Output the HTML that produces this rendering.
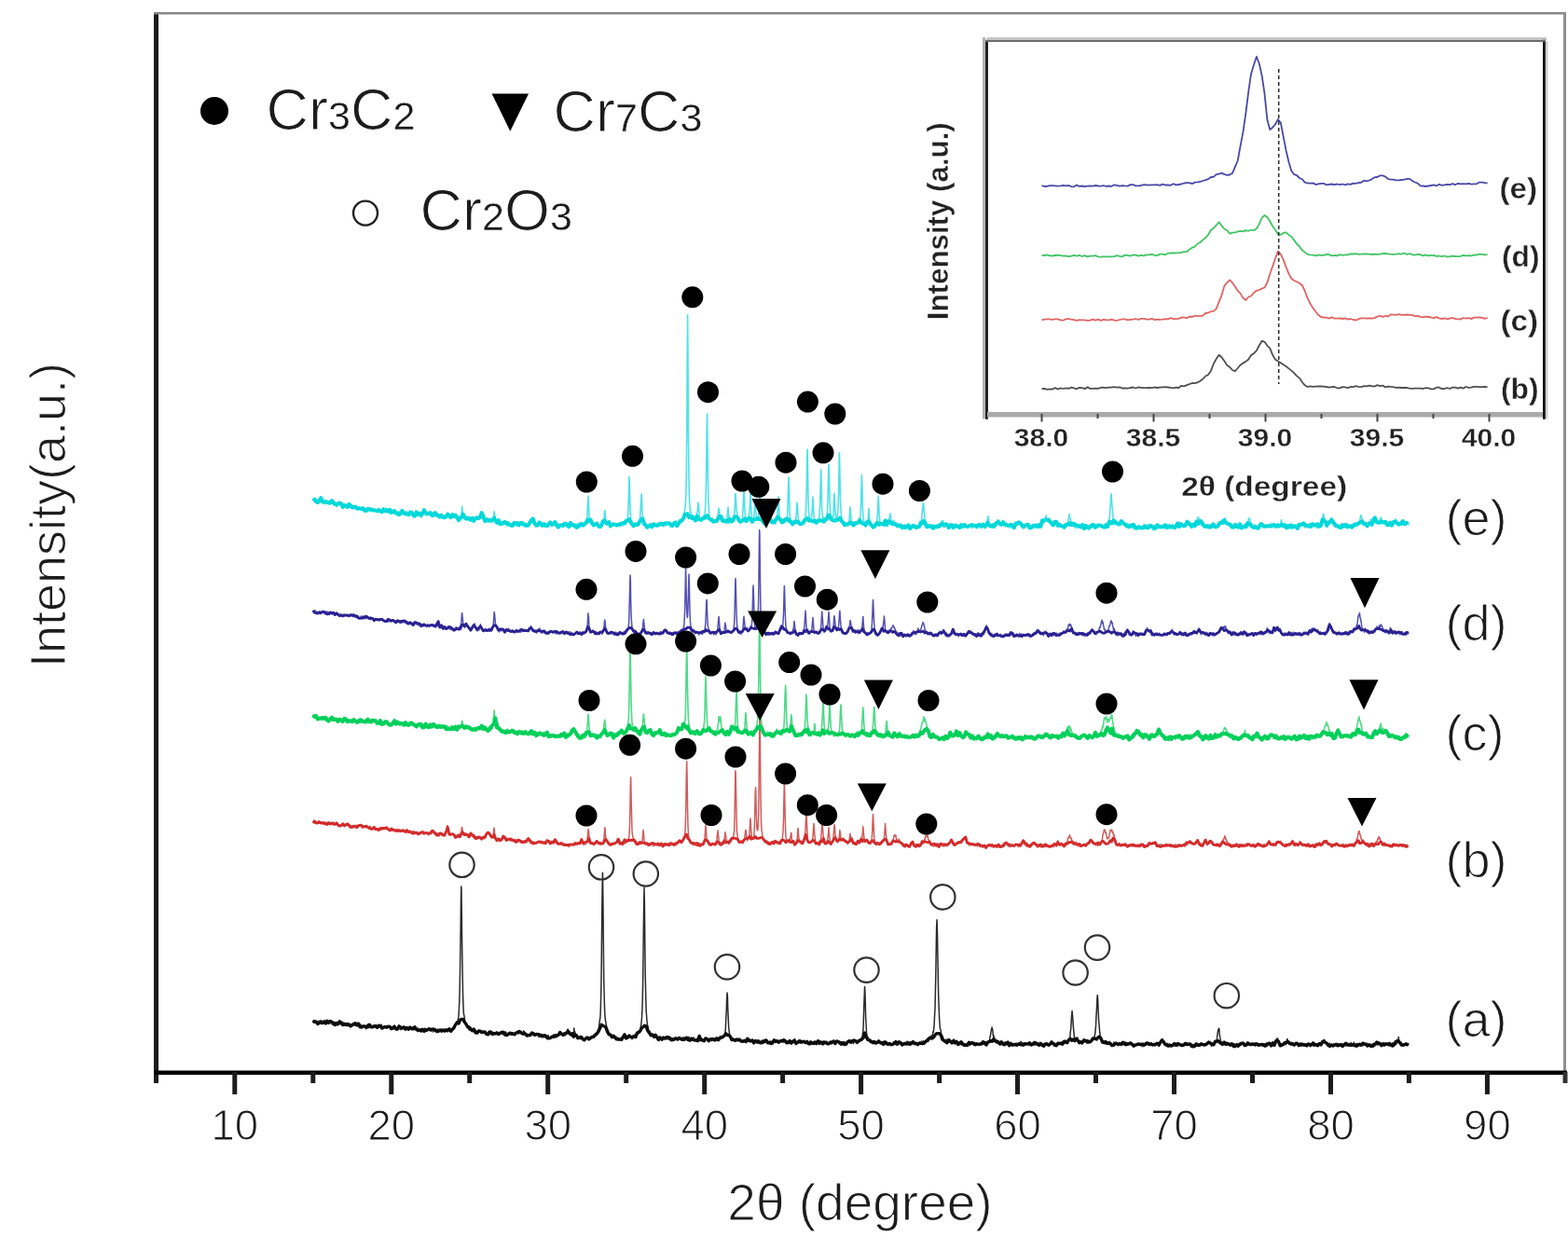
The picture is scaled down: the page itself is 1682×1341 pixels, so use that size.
<!DOCTYPE html>
<html><head><meta charset="utf-8"><title>XRD patterns</title>
<style>html,body{margin:0;padding:0;background:#fff;}svg{display:block;}</style>
</head><body>
<svg width="1682" height="1341" viewBox="0 0 1682 1341"><defs><filter id="gb" x="0" y="0" width="100%" height="100%"><feGaussianBlur stdDeviation="0.45"/></filter></defs><g filter="url(#gb)"><rect x="0" y="0" width="1682" height="1341" fill="#fff"/>
<defs><filter id="sb" x="-2%" y="-2%" width="104%" height="104%"><feGaussianBlur stdDeviation="0.55"/></filter></defs>
<g filter="url(#sb)">
<path fill="none" stroke="#2a2a2a" stroke-width="1.5" stroke-linejoin="round" d="M335.8 1094.7 l.4 2.3 .4-2 .4 1.4 .5-.1 .4 1 .4-.9 .4 .7 .4-1.1 .5-.1 .4 2.4 .4-1.6 .4 1.8 .4-1.2 .5-.1 .4-2.3 .4 2.7 .4-1.3 .4 .3 .5-.4 .4-.3 .4 2.5 .4-1.2 .4-1.8 .5 2.1 .4-1.2 .4 .5 .4 1.2 .4-2 .5 1.7 .4-1 .4-2.1 .4 3.4 .4-.6 .5 .9 .4-2.9 .4-.1 .4 2.3 .4-.5 .5-1.8 .4 2 .4-.4 .4 1.2 .4-.4 .4-2.2 .5-.1 .4 .1 .4-.2 .4 1 .4 2.6 .5-1.1 .4-.5 .4 1.3 .4-2.5 .4 .6 .5 1.3 .4 1.5 .4-1.5 .4-1.5 .4 3.1 .5-2 .4 2 .4-1.4 .4 1.3 .4-.7 .5-.9 .4-2 .4-.6 .4 .4 .4-.1 .5 .1 .4 .6 .4 1.6 .4-.3 .4-1.6 .5 .5 .4 3 .4-1.6 .4-.8 .4 .1 .5 1.8 .4-1.8 .4 1.1 .4 1.4 .4-.4 .5-1.9 .4 .8 .4 .5 .4 1 .4-2.2 .5-.1 .4 .4 .4 1.5 .4 .7 .4-.3 .5-.8 .4 2.1 .4-1.7 .4-.7 .4 .3 .5 .7 .4-.3 .4-1.2 .4-.6 .4 1.1 .5 1.1 .4-1.2 .4 1.8 .4-2.6 .4 .7 .5 2 .4-2.2 .4 1.5 .4-.5 .4 1.5 .5-2 .4-.6 .4 2.3 .4 .6 .4 .7 .5 .1 .4-3.1 .4 .7 .4 1.2 .4 1.4 .5 .5 .4-2 .4 1.1 .4-.7 .4-.6 .5 .5 .4 .7 .4-.6 .4 1.2 .4-.1 .5-1.5 .4 2.1 .4-2.7 .4-.4 .4-.1 .5 1.6 .4-1.8 .4 3.6 .4-.9 .4-2.7 .5 .3 .4 .7 .4-.9 .4 2.5 .4-1.6 .5 1.5 .4-.8 .4 .9 .4 0 .4 .3 .5-1.3 .4-.1 .4 1 .4-1.4 .4 .5 .5 .3 .4-1.9 .4 2 .4-.1 .4 1.3 .5-2 .4 1.9 .4-.8 .4-1.4 .4 2 .5-.7 .4-2 .4 1.2 .4 1.4 .4 .8 .5-3.5 .4 3.8 .4-2.1 .4 2.1 .4-1.4 .5 .6 .4-.7 .4 .4 .4-1.1 .4 .7 .5 .6 .4 .1 .4 0 .4-.1 .4 .4 .5-2.1 .4 1.2 .4-.6 .4 .1 .4 .4 .5-.3 .4 .1 .4 1.5 .4-.4 .4 2.1 .5-1 .4-2 .4 .5 .4-.1 .4 1.2 .4-.1 .5-.1 .4-.8 .4-1.2 .4 .4 .4 2.3 .5-.9 .4 1.2 .4-.5 .4 .3 .4-.7 .5 .9 .4-1.1 .4-.4 .4-.6 .4-1 .5 1.1 .4-.8 .4 3.4 .4-2.7 .4 2.2 .5 .1 .4-.8 .4-.4 .4-1.3 .4 .9 .5-.3 .4-.4 .4 1.2 .4-.9 .4 2.3 .5-.3 .4-2.5 .4-.3 .4 .1 .4 1.2 .5 .8 .4-1.5 .4-.1 .4 2.4 .4-1.2 .5 .7 .4-1.2 .4-.5 .4 1.5 .4-.2 .5-.9 .4 1.3 .4-.6 .4 .6 .4-2.1 .5 2.2 .4-1.9 .4 1 .4 1.1 .4-2.4 .5 1.5 .4 1.6 .4 .5 .4-1.2 .4 1.3 .5 .5 .4-.4 .4 .1 .4-2.5 .4 2.3 .5 0 .4-.2 .4 .9 .4-2.5 .4 2.6 .5-.1 .4-1.8 .4 0 .4 1.1 .4-1.2 .5 1.4 .4-1.5 .4 1.2 .4 1.1 .4-2.7 .5-.6 .4 2.7 .4-1 .4 1.5 .4-1 .5 1.3 .4-1.7 .4 .3 .4-1.3 .4 .8 .5-.9 .4 .2 .4 1.6 .4-2.3 .4 1.3 .5 1.8 .4-.4 .4-.3 .4-1.6 .4 1 .5 .5 .4 1.4 .4-3 .4 .2 .4 .1 .5 1.9 .4-1.3 .4-1.1 .4 1.9 .4-1.1 .5 1.9 .4-1.5 .4-1 .4 1.7 .4 .8 .5-1.9 .4 1 .4-.8 .4 .2 .4 1.4 .5-.4 .4-2.2 .4 2.2 .4-.6 .4 1.8 .5-2.3 .4 .2 .4-.8 .4 .8 .4-1.2 .5 2.2 .4 .8 .4-.5 .4 0 .4-1.6 .5 1.4 .4-1.2 .4 1.5 .4-.8 .4-2 .5-.1 .4-.2 .4 .4 .4 1.6 .4-1.1 .5-.3 .4 2.3 .4-1.6 .4 1 .4-1.1 .5-.2 .4 0 .4-.8 .4 .5 .4-1.6 .4 1.5 .5-3.7 .4 2 .4-3.1 .4 .8 .4-2.6 .5 .9 .4-2.8 .4 1.6 .4-1.7 .4-2.6 .5-2.7 .4-7.5 .4-8.6 .4-14.6 .4-24 .5-35.2 .4-36.7 .3-12.5 .1 1.5 .4 28.5 .4 37.5 .5 29.9 .4 19.5 .4 11.2 .4 8.5 .4 1.4 .5 3.1 .4 4 .4-.4 .4 3.8 .4-1.5 .5 1.9 .4-.1 .4 3 .4-1.3 .4 .7 .5 .8 .4 1.7 .4-2.9 .4 2.5 .4 1.1 .5-3.1 .4 1.7 .4-.4 .4 1.9 .4-.5 .5 .7 .4-1 .4 .6 .4-.8 .4-.5 .5 2.1 .4-.6 .4 .6 .4 1.7 .4-1.4 .5-.6 .4 .5 .4 1.9 .4 .3 .4-.4 .5 .1 .4-2.3 .4-.3 .4 .5 .4 .4 .5-.3 .4 1.5 .4-.6 .4 1.6 .4-1.7 .5 1.6 .4-1.3 .4 1 .4-1 .4-1.2 .5 .8 .4 1.5 .4-1.3 .4 .3 .4-1.2 .5 1.6 .4 1.5 .4 0 .4-1 .4 1.5 .5 0 .4-1.1 .4-2 .4 .3 .4 0 .5 1.2 .4-.1 .4 1.7 .4-2.7 .4 2.7 .5-.3 .4 .5 .4-.6 .4-.1 .4-.4 .5-1.5 .4 1.3 .4 .7 .4 .6 .4-1.3 .5-.2 .4-1.1 .4-.5 .4 2.7 .4-1.4 .5 2.5 .4-2.6 .4 .6 .4 .6 .4 .7 .5-1.2 .4-1.1 .4 .4 .4 .1 .4 .5 .5 .4 .4-1.9 .4-.2 .4 2 .4 1 .5-2.6 .4 2.5 .4-.1 .4-.9 .4 1.4 .5-.9 .4-2.4 .4 1.9 .4 1.7 .4-.3 .5-.5 .4-.1 .4-.4 .4-1.1 .4 1.2 .5 .1 .4-1.4 .4 2 .4-2.1 .4 1.8 .5-1 .4 1.6 .4-1.3 .4 1.3 .4-1.5 .5-.6 .4 2.1 .4-1.7 .4 1 .4 .1 .5-2.1 .4 .1 .4 .2 .4-.1 .4 .4 .4-1 .5 0 .4 1.7 .4 .2 .4-2.8 .4 0 .5-.3 .4 2.3 .4-.4 .4-.3 .4-.6 .5 2 .4-1.4 .4 1.3 .4-1 .4-.8 .5-1.3 .4 3.2 .4-2.4 .4 .7 .4 1.1 .5 .8 .4 .1 .4 2.1 .4-2 .4 1.5 .5 .5 .4-2 .4 1.4 .4-.2 .4-.8 .5 0 .4-.9 .4 1.6 .4 .6 .4-2.1 .5 1.2 .4-2.2 .4 2.4 .4-2.5 .4 1 .5-.2 .4-.6 .4 3.2 .4-1.8 .4 .7 .5 .1 .4-.9 .4 .5 .4-.6 .4 1.2 .5-.7 .4 .4 .4-.7 .4 2.5 .4-2.6 .5 3 .4-2.4 .4 1.7 .4-1.7 .4 2.6 .5-2.3 .4 1.3 .4 1 .4-2.2 .4 1.2 .5-1.1 .4 1.8 .4-.1 .4-1.7 .4 2.1 .5-3 .4 3 .4-1.1 .4-.7 .4 1.6 .5 0 .4 1.3 .4-2.5 .4-.7 .4 3.1 .5 .2 .4-.4 .4-.8 .4 .6 .4 0 .5-1.4 .4 1.3 .4-.2 .4-.9 .4-.9 .5 .8 .4-2.1 .4 2.5 .4 .6 .4-2.4 .5-.4 .4 .6 .4 .6 .4 1.7 .4-1.3 .5-.8 .4-.7 .4 .4 .4 .9 .4-1.3 .5-.3 .4-.6 .4 .3 .4-2.2 .4 0 .5 1.6 .4-1.3 .4 1.4 .4-.3 .4 1.2 .5 1.3 .4-1.2 .4 1 .4-.9 .4 .6 .5-2.3 .4 .9 .4 1.3 .4-1.9 .4-.4 .5-1.8 .4-1 .4 .8 .4-2.5 .4 1.9 .5 1.5 0-1.3 .4-.6 .4 2.9 .4-1.4 .4 2 .5-.2 .4 2.3 .4-.5 .4 .9 .4-2.8 .5 3.3 .4-3.7 .4-.6 .4 .6 .4-5.3 .2 2.7 .3 .7 .4 .5 .4 1.4 .4 3.1 .4 .1 .5-.7 .4 3.1 .4 0 .4-1.6 .4 1.4 .5-1.5 .4 1.5 .4-.9 .4 .3 .4-.9 .4 2.6 .5-1.7 .4-.7 .4 .6 .4-.5 .4 2.6 .5-.5 .4 1 .4-.7 .4 .9 .4 0 .5 .1 .4-1.5 .4 .9 .4-1.3 .4 0 .5-.6 .4 .5 .4-.8 .4 .5 .4 1.9 .5-2.6 .4 1.9 .4-.9 .4-1.2 .4 1.9 .5-1.1 .4-1.1 .4 1.8 .4-1.3 .4-.4 .5-.7 .4 .9 .4-1.9 .4 1.6 .4-2.4 .5 .1 .4-.6 .4 .8 .4 .1 .4-2.5 .5 .9 .4 .3 .4-2 .4 .8 .4-3.3 .5 0 .4-1.3 .4-3.9 .4-3.2 .4-2.2 .5-3.8 .4-11.4 .4-14.9 .4-30.3 .4-40.2 .5-43.4 .3-13.7 .1 1.1 .4 30.3 .4 43.8 .4 37.4 .5 21.3 .4 13.5 .4 6.8 .4 4 .4 1.8 .5 3.7 .4 1.8 .4 1.7 .4 1.9 .4-.5 .5 1.2 .4 2.2 .4 1.5 .4-1.8 .4 1.4 .5-.1 .4 .8 .4-.5 .4 .7 .4 0 .5 2.4 .4 0 .4-1 .4 1.4 .4-1.8 .5 1.4 .4-.7 .4 2 .4-.6 .4-.1 .5-1.4 .4 .9 .4 2.1 .4-.1 .4-.6 .5-1.2 .4 2.1 .4-.3 .4-.3 .4-.2 .5 .6 .4 1 .4-.6 .4-.9 .4 1 .5-2.6 .4 3.1 .4-3.4 .4 .3 .4 .4 .5-2.2 .4 .3 .4-1.4 .4 2 .4-.4 .5 2.2 .4 .3 .4-1.2 .4-.4 .4 1.3 .5-1.3 .4 1.5 .4-1 .4 .3 .4-2.2 .5 2.2 .4-1.1 .4-.2 .4 .7 .4-.2 .5 .6 .4 1.8 .4-2.3 .4 1 .4-.9 .5 1 .4-2 .4-.7 .4 1.9 .4-3.3 .5 3.1 .4-1.6 .4-1.1 .4 2.1 .4-3.7 .5 1.3 .4-2 .4 1.5 .4-1.9 .4 .9 .5 .2 .4-1.8 .4-2.9 .4-1 .4-2.5 .5-4.2 .4-4.5 .4-8.5 .4-12.2 .4-23.3 .4-32.7 .5-41.2 .4-21.5 0 1.1 .4 18.4 .4 39.5 .4 34.6 .5 22.1 .4 14.9 .4 6.2 .4 5.4 .4 4 .5 4 .4-1.1 .4 3.6 .4 1.1 .4 1.8 .5-1.4 .4 .6 .4 2 .4 1.9 .4-1.3 .5 1.7 .4-1.4 .4 .2 .4-.3 .4 1.7 .5 .1 .4 1 .4-2.6 .4 .5 .4-.4 .5 .5 .4 2.4 .4-.8 .4-.1 .4 1.1 .5 2.2 .4-.2 .4-.1 .4 .6 .4-3.4 .5 .4 .4 1.3 .4-.7 .4 2.1 .4-1.4 .5 .1 .4 1.4 .4-1.5 .4 1.3 .4-2.2 .5 .2 .4 .1 .4 .4 .4-.9 .4 1.4 .5-1.6 .4-.1 .4 2.5 .4-2.1 .4 .6 .5 1 .4-.4 .4-1.4 .4 2.7 .4-.1 .5-.3 .4-1.6 .4 .9 .4-.9 .4 1 .5 1.4 .4-2.1 .4 1.6 .4-1.2 .4 1.5 .5-1.9 .4 2.2 .4-.8 .4 .1 .4-1.1 .5-.9 .4-.1 .4 .9 .4-.7 .4 1.9 .5 .3 .4-.6 .4 1.4 .4-1.1 .4-2.1 .5 .5 .4 .4 .4 .3 .4-1.2 .4 1.4 .5-.6 .4 .6 .4-.4 .4 1.3 .4-1.3 .5-1.2 .4 2.8 .4-.3 .4 .8 .4 .2 .5-3.3 .4 .8 .4-.4 .4 1.1 .4 1.6 .5-2.8 .4 1.1 .4-1 .4 2.5 .4-.3 .5-3.3 .4 1.9 .4-.7 .4 2.7 .4-.2 .5-.9 .4 .9 .4-2 .4 2 .4-1.8 .5-.7 .4 2 .4-.4 .4-2 .4 3.1 .5-.4 .4 0 .4 .7 .4-1.5 .4 1.1 .5 .9 .4-2.6 .4-.1 .4 2.3 .4-1.1 .5-1.3 .4-2.4 .4-.4 .4 2.9 .4-.9 .5-.2 .4 2.6 .4-2.1 .4 2.3 .4 .6 .5-.8 .4 .4 .4-.1 .4-.3 .4 .9 .5-1.8 .4 2.3 .4-1.2 .4-2.1 .4 .2 .4 .7 .5-.2 .4 .1 .4-.2 .4 1.9 .4-1 .5 1.3 .4-2.2 .4 .6 .4-.4 .4 .2 .5-1.5 .4 2.3 .4 .9 .4-1.5 .4-1 .5 2 .4-2.7 .4 1.2 .4 1.9 .4-.8 .5 .9 .4-.8 .4 .5 .4 .2 .4-1.9 .5-.7 .4 1.9 .4-.8 .4-1.1 .4 1.7 .5-1.7 .4 .9 .4 1.6 .4-3 .4 .5 .5-2.1 .4 2.7 .4-1.5 .4-.9 .4 2 .5-1.5 .4-.2 .4 .4 .4-1.4 .4-.8 .5 0 .4-1.7 .4-1.5 .4-3.9 .4-9.9 .5-8.2 .4-13.8 .4-6.1 0-.6 .4 3.8 .4 14.3 .5 11.1 .4 8.4 .4 3.4 .4 3.4 .4 1.4 .5 1.3 .4 .7 .4-.5 .4 3 .4 .3 .5 .6 .4-2 .4 .1 .4 .9 .4-.2 .5 1.4 .4-1 .4 1 .4-.8 .4-1.1 .5 0 .4 .7 .4-.6 .4 2 .4-.8 .5 .2 .4-.5 .4-1.6 .4 .6 .4 1 .5-.5 .4-.3 .4 2.5 .4-.1 .4-1.1 .5 1.7 .4-1.4 .4 1.2 .4-1 .4-.1 .5-.9 .4 1 .4 1 .4-1.9 .4 1.8 .5 .3 .4-1.7 .4 .8 .4 .4 .4-2.8 .5 2.6 .4-2.1 .4 2.4 .4-.7 .4-1.3 .5-.5 .4 1.4 .4 .7 .4-.1 .4-.5 .5 1.3 .4-1.3 .4-1.2 .4 1.2 .4 0 .5 2.7 .4-2 .4 2.2 .4-1.7 .4-.9 .5-.5 .4 .8 .4-.7 .4 1.8 .4-.5 .5 1.9 .4-.1 .4-2.4 .4 .7 .4 .7 .5-.3 .4 .8 .4-.7 .4-.6 .4-.7 .5 2 .4-2.6 .4 2.1 .4-1.9 .4 1.6 .5-1.4 .4 2.5 .4-2.9 .4 .2 .4 2.2 .5-.3 .4-1 .4-1.2 .4 .6 .4-.4 .4 .4 .5 2.3 .4 0 .4-1 .4-.5 .4 1.1 .5-1.1 .4-.4 .4 0 .4 2.6 .4-2 .5 .3 .4-1.2 .4 2.2 .4-1.7 .4-.4 .5 1.1 .4-2.2 .4 0 .4 2.3 .4 0 .5-.6 .4-1.2 .4 1.5 .4-.3 .4-.7 .5-.9 .4 3.2 .4-1.8 .4 1 .4-1.7 .5 1 .4-.4 .4-.3 .4-1.1 .4 .4 .5-.2 .4 .8 .4 1.4 .4-.4 .4 .2 .5-2.3 .4 2.5 .4-.9 .4-.7 .4-.1 .5 .2 .4 2.1 .4 .5 .4-.3 .4-2.1 .5 1.8 .4-1.3 .4 1.3 .4-1.1 .4 .7 .5 .7 .4-2.4 .4 1.7 .4-1 .4 .9 .5 1 .4-2 .4-.5 .4 1.1 .4-.2 .5-1.2 .4 1.5 .4-1.1 .4-.8 .4 1.2 .5 .1 .4-.2 .4 2.4 .4-.5 .4-.5 .5 .8 .4-.9 .4 .2 .4 .4 .4 .1 .5-2.3 .4 .2 .4-.7 .4 3.1 .4-2.2 .5 1.8 .4-1.8 .4 0 .4 .9 .4-1.5 .5 1.2 .4 .4 .4-.9 .4 .6 .4 .2 .5-.5 .4 1.1 .4 .1 .4 .2 .4-.8 .5-.7 .4 1.2 .4 1.1 .4-1.1 .4 1.2 .5-2 .4 1.1 .4-2 .4 2.8 .4-1.2 .5-2 .4 1.3 .4 .8 .4 1 .4-2.1 .5 1.6 .4 .5 .4-.5 .4 1.2 .4-3.2 .5 .9 .4 2.1 .4-1 .4-.5 .4 1 .5-.2 .4 .3 .4 0 .4-3 .4-.4 .5 .2 .4-.2 .4 3.1 .4-2.6 .4 2.7 .5-.5 .4-.9 .4-.5 .4-.1 .4-.1 .5 2.5 .4-.5 .4-2.6 .4 1.9 .4-.5 .5-.8 .4 2.7 .4-.5 .4-1.5 .4 1.2 .5-1.7 .4-.2 .4 2.3 .4 0 .4-1 .5 1.3 .4-.3 .4-1 .4-.4 .4 .9 .4-1.3 .5 .8 .4 1.4 .4-.4 .4-1.3 .4-1.1 .5 .4 .4 .8 .4-1.6 .4 .1 .4 1.4 .5-1.6 .4 2.7 .4 .6 .4-.2 .4-3.2 .5 .2 .4-.3 .4 1.2 .4-1 .4 .7 .5 .4 .4 2.3 .4-1.4 .4-.5 .4 .6 .5 .3 .4-1.6 .4 2.7 .4 .2 .4-.1 .5 .2 .4-2 .4 .2 .4-.9 .4 .2 .5 2.5 .4-2.7 .4 2.1 .4-.2 .4 .4 .5-2.4 .4 2.2 .4-.9 .4-1.5 .4 .6 .5-.7 .4 .8 .4-1.7 .4 .4 .4 .2 .5 1.7 .4-.7 .4 .8 .4-2.2 .4 1.4 .5-1.6 .4 1.5 .4 1 .4 .5 .4-3.6 .5 1.2 .4 .2 .4-.6 .4-.2 .4 1.3 .5-1.5 .4 .5 .4 1.5 .4-1.4 .4-.4 .5 .8 .4-.7 .4 .9 .4-.8 .4 .4 .5-1.4 .4-.7 .4-.9 .4 2.3 .4-1.7 .5-.7 .4-5 .4-1 .4-6.8 .4-13.2 .5-14.7 .4-11.7 .2-3.1 .2 3.3 .4 11.7 .4 17 .5 9.1 .4 8.3 .4 2.6 .4 1.5 .4 3 .5-2 .4 2.7 .4 .4 .4-.4 .4-1.2 .5 1.8 .4-.1 .4 1.2 .4-1.7 .4 .9 .5-.1 .4 1.7 .4 1.4 .4-2.4 .4 2.2 .5-2 .4-.4 .4-.1 .4 2.3 .4-.2 .5-1.9 .4 2.2 .4 .1 .4-1.1 .4 .2 .5 .3 .4-1.2 .4-.8 .4 .9 .4-.9 .5 2.4 .4-.6 .4-.8 .4 2.2 .4-2.1 .5 .4 .4 0 .4-.3 .4-.5 .4 2.9 .5-2.7 .4 2 .4-2 .4-.1 .4 1.9 .5 1.2 .4-.2 .4-1.6 .4-1 .4 2.5 .5 0 .4-.1 .4-.5 .4 .7 .4 .4 .5-1.6 .4 .4 .4 0 .4 .8 .4 .2 .5-.6 .4 .6 .4-1.3 .4 .9 .4-2 .4-.5 .5 2.5 .4-1 .4-1.7 .4 1.2 .4 1.7 .5-3.1 .4-.1 .4 2.2 .4-1.5 .4 2.2 .5-.7 .4 .3 .4-2.3 .4 .2 .4 1.8 .5-.8 .4-.9 .4 .7 .4 1 .4-1.1 .5 2.5 .4-.1 .4 .2 .4-1 .4-1.3 .5 1.3 .4-1.7 .4-.1 .4 1.1 .4 .2 .5 .8 .4-2.4 .4 1.9 .4 .2 .4-3.1 .5 1.1 .4 .8 .4 .8 .4-2.2 .4 2.4 .5-1.5 .4 2 .4-2.9 .4 .4 .4 2.7 .5-1.2 .4-.7 .4-.7 .4 1.4 .4-1.9 .5 .8 .4 0 .4 1 .4 .3 .4 .7 .5 .3 .4-.7 .4-.6 .4-.5 .4 2 .5-2.4 .4 2.3 .4-1.4 .4 .9 .4 .3 .5-1.6 .4-.5 .4 .9 .4 .6 .4-.5 .5-2.3 .4 2.5 .4-1.6 .4 1.6 .4-1.5 .5-1.5 .4 .7 .4 2 .4-.9 .4 .4 .5-1.8 .4 .4 .4 .6 .4-.4 .4-1.9 .5 .4 .4-.6 .4 1.8 .4 .1 .4-3.1 .5 1.2 .4-1.6 .4 .9 .4-1.8 .4 .5 .5-1.6 .4-.8 .4 1.5 .4-.3 .4-2.6 .5-3 .4 .4 .4-3.2 .4-4.4 .4-9.1 .5-8.6 .4-18.3 .4-19.6 .4-25 .4-22.8 .4-9.4 .1 1.5 .4 13.9 .4 23.6 .4 23.3 .4 19.5 .5 13.8 .4 9.8 .4 5.7 .4 5.9 .4 .2 .5 2.5 .4 4.1 .4 2 .4-.2 .4 2.1 .5-2.3 .4 4.1 .4-1.9 .4 2 .4 .3 .5 .4 .4-1.1 .4 1.7 .4-2.5 .4 2.7 .5-.4 .4 1.3 .4-3.5 .4 1.7 .4-1.2 .5-.1 .4 .6 .4 .5 .4-.1 .4 .5 .5 1.6 .4-.7 .4-1.3 .4 2.2 .4-1.1 .5 .8 .4-1.2 .4-.8 .4 1.8 .4-3.5 .5 3.4 .4 .7 .4-1.4 .4-.5 .4 1.8 .4-1.6 .5 2.6 .4-1.8 .4 .1 .4 2.3 .4 .1 .5-1.2 .4 1 .4-1.6 .4 2 .4-2 .5-.2 .4-.8 .4 3 .4-1.6 .4 1.5 .5-.5 .4 .5 .4-1.7 .4 2.6 .4-.2 .5-1 .4 1.8 .4-2.8 .4 1.7 .4-.9 .5 .5 .4-1.1 .4 1.8 .4-2.8 .4-.4 .5 .2 .4 0 .4 .9 .4 1.9 .4-3.2 .5 1.7 .4-.3 .4-.5 .4-.6 .4 .2 .5-.2 .4 2.2 .4 0 .4-.9 .4 1 .5-2.3 .4 2.7 .4-.3 .4-1.1 .4-.9 .5 .2 .4 1 .4 1.3 .4-.1 .4-1.4 .5 .4 .4 1.1 .4 .2 .4-1.1 .4 0 .5-1.6 .4 2 .4-.2 .4-.9 .4 1.1 .5-.2 .4-.3 .4-2.6 .4 1.8 .4 1.2 .5-.6 .4-1.4 .4 2 .4-2.5 .4 .5 .5 2.4 .4-.8 .4 .3 .4-3.3 .4 1 .5-.9 .4-.4 .4 .7 .4-1.1 .4-2.7 .5-2.3 .4-1.5 .4-3 .4-2.4 .4-1.4 .2-1.2 .3 1.6 .4 .6 .4 4.1 .4 3.7 .4-1.2 .5 3.7 .4-1 .4 2.8 .4 .7 .4-.9 .5 2.6 .4-.8 .4-1 .4 2.6 .4-2.1 .5 1.9 .4-1.5 .4 2.1 .4-1.2 .4 1.4 .5 0 .4-1.5 .4-1 .4-.7 .4 1 .5 .6 .4 .2 .4 .2 .4 1.5 .4-.4 .5-1.7 .4 1.3 .4 1.2 .4-2.8 .4 2.3 .5-.3 .4-.8 .4-1.4 .4 .7 .4 2.6 .5-3 .4 1.2 .4 1.1 .4-1.3 .4 2.6 .5-2.9 .4 1.5 .4 .6 .4-1.5 .4 .9 .5 .1 .4 1.2 .4-.4 .4-.8 .4 .7 .5-1 .4 .6 .4 .6 .4-2 .4 1.9 .5-.6 .4 1.3 .4-2.9 .4 1.1 .4 1.1 .5-1.3 .4 .3 .4-1.1 .4 .9 .4 .9 .4-2.4 .5 1.8 .4 .4 .4-3.4 .4 1.1 .4-.4 .5 2.7 .4-1.9 .4 3 .4-2.4 .4 1.7 .5-2.5 .4 .6 .4 1.4 .4-.9 .4-.5 .5 .4 .4 .4 .4 .1 .4-.7 .4-.2 .5 .4 .4-.1 .4 1.3 .4 .8 .4-1.9 .5-1 .4 1.3 .4 .9 .4-.6 .4 .6 .5 .5 .4 .1 .4-.7 .4-.7 .4 .5 .5-2.7 .4 3.2 .4-2.7 .4 2.6 .4-.7 .5 .7 .4-1.9 .4-.1 .4 .7 .4 1.3 .5-1.1 .4 1.6 .4-2 .4 .9 .4 .9 .5-.9 .4-2.1 .4 1.7 .4-.5 .4 .9 .5-.8 .4-.6 .4 2.2 .4 0 .4 .9 .5-2.4 .4 2.5 .4 .3 .4-.9 .4-1.4 .5-.2 .4 .5 .4 .2 .4-.7 .4-.2 .5 1.2 .4 .3 .4-.3 .4 .3 .4-1.3 .5 1.3 .4-1.1 .4-.1 .4-1.3 .4 1.2 .5-2.4 .4 .3 .4 .6 .4 1.8 .4-1.5 .5 .8 .4-.7 .4 .8 .4 2.7 .4-1.4 .5-1.7 .4 1.5 .4 1.5 .4-.5 .4-1.3 .5-1 .4 1.4 .4-1.7 .4-.1 .4-.9 .5 2.6 .4-1.4 .4 .1 .4 .8 .4 .3 .5-1.4 .4-1 .4 2.1 .4-2.7 .4 2.6 .5-1.5 .4 .8 .4-.9 .4-1.3 .4 .4 .5 .9 .4 .9 .4-2.3 .4 .9 .4-.6 .5 1.1 .4 0 .4-1.4 .4-1.2 .4-.3 .5-.5 .4-.7 .4-.3 .4-1.4 .4-6.2 .5-2.7 .4-7.2 .4-7 .4-3.1 .1-2 .3 2.4 .5 6.3 .4 6.1 .4 5.3 .4 3.4 .4 4 .5 3.2 .4 .3 .4 .3 .4-.7 .4-.9 .5 .9 .4-1.2 .4-1.1 .4 3.5 .4-.9 .5 .7 .4 1.4 .4 1.2 .4-2.2 .4 .6 .4 .6 .5 0 .4 1 .4 1.2 .4 .2 .4-1.8 .5-1.7 .4-.7 .4 1.6 .4-1.9 .4 .8 .5 1.1 .4-1.2 .4 .6 .4-.5 .4 .5 .5 2.4 .4-2.8 .4 .8 .4-.4 .4 2.3 .5-1.8 .4 .7 .4-1.4 .4 .5 .4 .4 .5-.1 .4-1.1 .4-2.2 .4 1.5 .4-2.6 .5 1.2 .4-.4 .4-.1 .4 .6 .4-1.4 .5-2.5 .4-1.6 .4-4.4 .4-4.4 .4-9.7 .5-7.9 .4-10.5 .4-3.9 0-.8 .4 4.3 .4 10.3 .5 11.4 .4 4.7 .4 5.2 .4 4.4 .4 3.2 .5 1.2 .4 1.5 .4 1.7 .4 1.4 .4 .5 .5 .9 .4-.5 .4-1.1 .4 2.5 .4-.5 .5-1.5 .4 .2 .4 2.8 .4-2.5 .4 1.8 .5-.8 .4 1.8 .4-1.1 .4 .9 .4-2.1 .5 .4 .4 .8 .4-1.1 .4-.9 .4 2 .5 .5 .4-1.3 .4 .9 .4 1.8 .4 .4 .5-.7 .4-.5 .4 .9 .4 .1 .4-3.3 .5 1 .4 .5 .4 .5 .4-1.9 .4 .9 .5-.1 .4 .4 .4 .4 .4 .9 .4-.2 .5 .3 .4 .2 .4-.5 .4-1.8 .4 1 .5 .2 .4-.5 .4 1.3 .4 0 .4-.7 .5-.7 .4 1 .4-2 .4-.4 .4 2.3 .5-.8 .4 .9 .4-1.9 .4-.4 .4 1.3 .5 1.5 .4-2.3 .4 .3 .4 .4 .4 1 .5 .5 .4-2.1 .4 1.9 .4-.9 .4 1.3 .5-1.7 .4 1.4 .4-1.6 .4-.3 .4 1.3 .5-.9 .4 1.6 .4-.4 .4 .9 .4-1.1 .5 2.2 .4-1.7 .4 .3 .4 .7 .4-.4 .5-.7 .4 .3 .4-1 .4 1 .4-1.5 .5 1 .4-.5 .4 .4 .4-1.1 .4 1.9 .5-1.1 .4 .7 .4 .8 .4-1 .4 1.3 .5-1.3 .4 2.3 .4-2.7 .4 2.8 .4-2.5 .4 .9 .5 1 .4-.9 .4-.4 .4-.9 .4 1.2 .5-.3 .4-1.7 .4-.1 .4-1.2 .4 1.3 .5 .4 .4 1.4 .4-2.7 .4 2.7 .4-.3 .5 .6 .4-2.3 .4 .3 .4 .7 .4-1 .5 2.2 .4 .8 .4-1.1 .4 .2 .4 .3 .5-1.2 .4 .3 .4 .8 .4 1.1 .4-2.1 .5-.1 .4 .9 .4-1.2 .4-.6 .4 0 .5 .1 .4 .6 .4 .2 .4 1.1 .4 .4 .5-2.2 .4 .7 .4-1.9 .4-.1 .4-.7 .5-.2 .4-1.4 .4-.4 .4-.6 .4 3.8 .5-1 .4 2.2 .4-.1 .4-.4 .4 1.2 .5-.4 .4-.9 .4 1 .4 1.1 .4-1.2 .5-.8 .4 .7 .4 2.1 .4 .7 .4-1.2 .5-1.9 .4 1.9 .4-1.1 .4 .6 .4 .5 .5 .4 .4-1.1 .4 .6 .4-.5 .4 0 .5 .7 .4-.1 .4 .1 .4-2.1 .4-.5 .5 2.8 .4-.6 .4-.1 .4 .8 .4-2.4 .5 2.9 .4-2.9 .4 2.2 .4-.6 .4-.2 .5-.9 .4 0 .4 .6 .4 1.1 .4-.7 .5 .2 .4-1 .4 2 .4-.8 .4-1.5 .5 1 .4-.7 .4 .9 .4-2.2 .4-.3 .5 .4 .4 .2 .4 1.7 .4-1.9 .4 1.6 .5-.1 .4-.4 .4-1.2 .4 2.1 .4-1 .5 .5 .4 0 .4 1.1 .4-1.8 .4 1.5 .5-1.7 .4 3.8 .4-1.2 .4-.9 .4-.9 .5 1.7 .4 .7 .4-2.2 .4 1.2 .4-2 .5 2.2 .4-.9 .4-.4 .4 1.1 .4-2.1 .5 2.2 .4-.3 .4 .5 .4-1 .4 .6 .5-.2 .4-1.8 .4 1.4 .4-1.1 .4 1.8 .5-2.7 .4 .7 .4-.8 .4 1.1 .4 .3 .5 0 .4 1.1 .4-1.9 .4 .1 .4 1.3 .5-.8 .4 .7 .4-.9 .4 .5 .4 .5 .4-1.8 .5-.1 .4 0 .4 1 .4-2.2 .4 1.5 .5-1.5 .4 .5 .4 1.1 .4-.8 .4 .5 .5-.7 .4 3.8 .4-1.1 .4-.9 .4-1.5 .5 .6 .4-.5 .4 1.9 .4-2.2 .4 .8 .5-.2 .4-2.1 .4 .8 .4 .5 .4-2.5 .5 0 .4-4.5 .4-2.9 .4-3 .4-1.4 .4 .7 .1-1.6 .4 .3 .4 6.2 .4 2.4 .4 2 .5 3.9 .4 1.4 .4-1.7 .4-.3 .4 1.8 .5 1.1 .4-1.6 .4 .8 .4-1.3 .4-.2 .5 2.3 .4-1.8 .4 .4 .4 1.4 .4-2.5 .5 .3 .4 .9 .4 .6 .4-.1 .4 1.6 .5-2.2 .4 1.2 .4 1.2 .4-1.8 .4 2.3 .5-.8 .4-2.1 .4 .2 .4 1.6 .4-.9 .5 .4 .4 1.8 .4-2.4 .4 2.8 .4-2.9 .5 .4 .4 .6 .4 2 .4-1.1 .4 .6 .5-1.7 .4 .2 .4 1.4 .4 .6 .4-1.3 .5 .9 .4-.9 .4-1.6 .4-.2 .4 .7 .5 1 .4 .2 .4-.4 .4-1.9 .4 .5 .5 .5 .4-.1 .4-.9 .4-.9 .4 2.5 .5-2 .4 2.9 .4 .1 .4-.4 .4-.7 .5 .6 .4-1.1 .4 1.2 .4 0 .4-2.4 .5 .5 .4 0 .4-.2 .4 1.1 .4-1.3 .5 2.5 .4-1.5 .4 .5 .4 .3 .4-.2 .5 .3 .4-.9 .4-.7 .4 1.7 .4 .5 .5-1.2 .4 .1 .4 .2 .4 1.7 .4-2.5 .5 1.1 .4 0 .4-.9 .4-.1 .4 2.3 .5-1.4 .4 .7 .4-.5 .4 .9 .4-.4 .5-1.6 .4 .9 .4 .3 .4-1.1 .4 .7 .5-.3 .4 2 .4-1.6 .4-.6 .4 .5 .5 1.1 .4-1.8 .4 .2 .4 1.9 .4 .2 .5-.4 .4 .8 .4-2.6 .4 1.8 .4 .3 .5-2.6 .4 0 .4 .9 .4-.9 .4 1.4 .4-1.8 .5 .1 .4 1.8 .4 1 .4-.2 .4 .1 .5-2.5 .4-.2 .4-.6 .4 1.9 .4 1.3 .5-1.1 .4 .5 .4-2.3 .4 1.8 .4-3 .5-1 .4 0 .4-1 .4 .7 .1-2.8 .3 .6 .5 .5 .4 2.4 .4 .3 .4 1.7 .4 .2 .5 2.6 .4-.2 .4 .7 .4-2.3 .4 1.3 .5-.9 .4 1.8 .4-3 .4 .1 .4 1 .5-.4 .4-.7 .4-.5 .4-.4 .4 .4 .5 1.9 .4-3.2 .4 .9 .4-3 .4-.9 .5 1.3 .4 1.7 .4 1.8 .4 .9 .4 0 .5-1.2 .4 .5 .4 1.3 .4 .3 .4-1.7 .5-1.2 .4 .7 .4 2.5 .4-1.7 .4 1 .5-1 .4 2.3 .4-1.2 .4 .1 .4-.8 .5 .8 .4-1.7 .4 .9 .4 0 .4-.3 .5-.4 .4 1.3 .4 1.3 .4 .7 .4-1.5 .5 .5 .4-.9 .4-.6 .4-.3 .4 2.3 .5-.4 .4-2.3 .4 .9 .4 .4 .4-1.7 .5 2.4 .4-.6 .4-.1 .4 .1 .4 1.4 .5-1.7 .4 1.2 .4-1.3 .4 .7 .4 .6 .5-1.1 .4-1 .4 1.3 .4-1.1 .4-.3 .5 .8 .4-1.2 .4 1.7 .4 1.8 .4-2.4 .5-.8 .4 1.1 .4 1.2 .4-.2 .4-.1 .5-2.7 .4 .7 .4 2.8 .4-3 .4 1.3 .5 1.1 .4-1.8 .4 1.7 .4-.9 .4-.8 .5 2.2 .4-2.2 .4 1.7 .4 .4 .4-1 .5 .2 .4-1.7 .4 .7 .4 1 .4-.8 .5 .4 .4 .3 .4-2.5 .4 1.6 .4-2.8 .5 .9 .4-2.1 .4-.2 .1-.9 .3 .2 .4 .3 .5 .6 .4 2.1 .4-.2 .4-.2 .4 1.1 .5 .1 .4 2.6 .4-2.7 .4 .5 .4 1.8 .5 .7 .4-2.4 .4-.6 .4 3.4 .4-.9 .4-1.1 .5 .3 .4 .3 .4-.8 .4 1.9 .4-.7 .5 .5 .4-2.1 .4 1.9 .4-1.4 .4 .7 .5 .4 .4 .1 .4-1.3 .4 0 .4 1.5 .5-.2 .4 .6 .4-.3 .4-2.5 .4 .3 .5 1.7 .4-.1 .4-.4 .4 1 .4-1.8 .5 .3 .4 .7 .4-.6 .4 .8 .4 1.2 .5-2 .4 .7 .4 1.5 .4-2 .4-1.3 .5 2.4 .4-.7 .4-1.8 .4 2.8 .4-2 .5 1.8 .4-1.7 .4-1 .4 .6 .4 .3 .5 1.1 .4-1.7 .4 1.1 .4 1.6 .4-1.3 .5-1.8 .4-.6 .4 2.1 .4 .9 .4-.5 .5-.3 .4-.5 .4 .3 .4-2.2 .4 1.2 .5 1.7 .4 .6 .4-.8 .4-1.4 .4 2.8 .5-.2 .4-2.7 .4 .5 .4-.4 .4 1.6 .5 .5 .4-1 .4-1.2 .4 .9 .4-1.2 .5 2.5 .4 .2 .4-.6 .4-.6 .4-1.5 .5 .5 .4-.5 .4 2.6 .4-.5 .4-1.1 .5-.4 .4 .5 .4 .3 .4 .1 .4-.3 .5 1.3 .4-2.6 .4 1.1 .4 1.8 .4 .6 .5-.4 .4-1.5 .4 0 .4-.4 .4 2.4 .5-2.3 .4 1.9 .4-1.6 .4-.4 .4 2.3 .5-.4 .4-1.9 .4 1.2 .4 1.8 .4-2.8 .5-.6 .4 1.2 .4 1.1 .4-2.4 .4 1 .5-.1 .4-1.7 .4-1 .4 3 .4-3.2 .5 .8 .4 1.2 .4-1.2 .4-.6 .4 2.3 .5-.8 .4-.5 .4 3.2 .4-2.7 .4 2.1 .5 .9 .4-.3 .4-2.7 .4 .2 .4-.7 .5 3 .4-.2 .4-.9 .4-1.8 .4 .7 .5 1.3 .4-1.3 .4 .4 .4-.3 .4-.2 .5 .7 .4 .2 .4-.2 .4 1.9 .4-2.9 .5 1.8 .4 .2 .4-.2 .4-.4 .4 1.4 .5-.4 .4-2.8 .4 3.1 .4-3.3 .4 1.7 .4-.4 .5 .8 .4-1.6 .4-1 .4 1.6 .4-2.1 .5 .5 .4 1.7 .4-.7 .4-3.7 .4 .6 .5-1.3 .3 0 .1-2.4 .4 2.1 .4 2.4 .4 .7 .5 1.1 .4 1.3 .4-1.2 .4-.7 .4 2.8 .5-.9 .4 .4 .4 .7 .4 0 .4-1.6 .5 2.1 .4-1.7 .4 .7 .4 .6 .4-1.5 .5-1 .4 1.1 .4-.5 .4 .3 .4 1.1 .5 .8 .4-1.3 .4-1.3"/>
<path fill="none" stroke="#111111" stroke-width="3.4" stroke-linejoin="round" d="M335.8 1094.7 l1.7 1.6 1.6-.3 1.7 2.5 1.7-.9 1.7-1.7 1.7 1.6 1.6-1.5 1.7 2 1.7-2.7 1.7 2 1.6-1.8 1.7 .8 1.7 2.3 1.7 .9 1.7-1.9 1.6 1.2 1.7-3.1 1.7 2.2 1.7 1.6 1.7-.5 1.6 .3 1.7 .4 1.7-.4 1.7 1.7 1.7-1.4 1.6-1 1.7-.9 1.7 2 1.7-1.6 1.7 3.7 1.6 .2 1.7-1.1 1.7 0 1.7 1.7 1.7-1.6 1.6-1.8 1.7 2.6 1.7 0 1.7-1.1 1.7 .4 1.6 1.3 1.7-2.3 1.7 .5 1.7 2.5 1.7-.8 1.6-.7 1.7 .6 1.7-1.1 1.7 .3 1.7 2.2 1.6-.4 1.7-2.2 1.7 3 1.7 0 1.6-3.1 1.7 1 1.7 1.1 1.7-1.1 1.7 2.3 1.6-1.5 1.7 1.6 1.7-2.2 1.7 1.7 1.7 .1 1.6-2.2 1.7 2.4 1.7 1.5 1.7-.4 1.7 .9 1.6-1.9 1.7 2.2 1.7-1.6 1.7 .1 1.7-1.1 1.6 .8 1.7-.5 1.7-.1 1.7 .9 1.7 1.6 1.6 0 1.7-1.5 1.7 1 1.7-.9 1.7 1 1.6-1.3 1.7 .9 1.7-1.9 1.7 2.5 1.7-1.9 1.6-1.9 1.7-3.3 1.7-2.2 1.7 1 1.6-4 1.3-.5 1.7-.1 1.7 3.1 1.6 2 1.7 3 1.7 .3 1.7 2.2 1.7 1.7 1.6-1.7 1.7 3.8 1.7 .4 1.7-2.3 1.7 .3 1.6 .8 1.7 .3 1.7-.2 1.7 2.2 1.7 .5 1.6-2.8 1.7 .1 1.7 2.3 1.7-.7 1.7-.2 1.6-.3 1.7 1.1 1.7-1.2 1.7-.9 1.7 .2 1.6 2.9 1.7 .3 1.7-1.3 1.7-1.2 1.7 .7 1.6 .1 1.7 .8 1.7-1.7 1.7-.7 1.6-.9 1.7 1.3 1.7 1.3 1.7 .1 1.7 .2 1.6 1.7 1.7-.3 1.7-.1 1.7-2.5 1.7 .7 1.6 1.5 1.7-.9 1.7 .2 1.7 .5 1.7 .3 1.6 1.3 1.7-1.1 1.7 1 1.7 2.2 1.7 .1 1.6-.6 1.7-1.2 1.7 .3 1.7-1.6 1.7 .2 1.6-.7 1.7-2.8 1.7 1.7 1.7 1 1.7-1.6 1.6-.1 1.7-2.2 1.3 2 1.7 1.4 1.6-1 1.7 3.5 1.3-2.1 1.7 .7 1.6 2.9 1.7-.6 1.7-.7 1.7 2.2 1.6 1.2 1.7-1.8 1.7-.9 1.7 1.7 1.7-1.3 1.6-1 1.7-.1 1.7-2.1 1.7-1.2 1.7-2.3 1.6-3.5 1.7-4.1 1.3 1.1 1.7 .7 1.6 .9 1.7 4.7 1.7 3.2 1.7 .3 1.7 2.6 1.6-1.4 1.7 2.1 1.7 1.5 1.7 .2 1.7-.2 1.6 .5 1.7-2.6 1.7-2.9 1.7 4.1 1.7-1.6 1.6-1.4 1.7 1.6 1.7-.1 1.7-.9 1.7 1 1.6-4.3 1.7-1.1 1.7-1.2 1.7-3.4 1.6-1 1.3-1.3 1.7 .6 1.7 4.9 1.6 2.1 1.7 2.8 1.7-.8 1.7 2.5 1.7-2 1.6 2.6 1.7 2.5 1.7-2.4 1.7 2.2 1.7-2.2 1.6 1 1.7-1.3 1.7-.2 1.7 .7 1.7 2.4 1.6-.2 1.7-.4 1.7-1.2 1.7 .9 1.7-1.3 1.6 .9 1.7 .9 1.7 0 1.7-1.5 1.7-.5 1.6 2.3 1.7 .6 1.7-2.2 1.7 1.5 1.7 .3 1.6 .3 1.7 .5 1.7-5.2 1.7 4.4 1.7 0 1.6 .9 1.7-2.8 1.7 .8 1.7 2 1.6-1.8 1.7 .2 1.7-.5 1.7 1.2 1.7-1.9 1.6 1.7 1.7-2.2 1.7-.4 1.7-.6 1.7-1.4 1.6-2.2 1.3 1.8 1.7-.2 1.7 1.6 1.6 3.5 1.7-.4 1.7 1.2 1.7-1.2 1.7 .8 1.6-.5 1.7 1.6 1.7 .4 1.7-1 1.7 1.2 1.6-3.3 1.7 2.2 1.7 .3 1.7-.6 1.7 2.7 1.6-2.4 1.7 1.4 1.7-1.1 1.7 1.9 1.7 0 1.6-.8 1.7-1.6 1.7-.3 1.7 2.9 1.6-.4 1.7 1.1 1.7-.7 1.7-3.2 1.7 1.7 1.6-.7 1.7 1.5 1.7-1.4 1.7-.1 1.7-1.1 1.6 .8 1.7 2.5 1.7-.3 1.7-2.1 1.7 2.6 1.6-1.6 1.7-1.6 1.7 3.5 1.7-1.1 1.7-1.6 1.6 .4 1.7 .9 1.7-.8 1.7 1.4 1.7-1.2 1.6 2.4 1.7-.1 1.7-1.1 1.7 1 1.7-1.6 1.6 1.6 1.7-2.9 1.7 2.7 1.7-1.3 1.7 1.8 1.6-1.7 1.7-.1 1.7 1.6 1.7 0 1.6-1.8 1.7 .5 1.7-1.5 1.7 2.6 1.7-2.6 1.6 .6 1.7 .8 1.7 2 1.7-1.7 1.7 2 1.6-.4 1.7-2.6 1.7-1 1.7 1.6 1.7-1.6 1.6-.6 1.7 .6 1.7 1.8 1.7-1.7 1.7-.9 1.6-.8 1.7-1.7 1.5-5.2 1.5 3.9 1.6 3.3 1.7 .5 1.7 1.7 1.7 .8 1.7-.8 1.6 1.6 1.7-.7 1.7-1.5 1.7 1.8 1.7-.3 1.6 2.1 1.7-2.8 1.7 1.3 1.7 1.4 1.7-1 1.6 1.4 1.7-.4 1.7-1 1.7-1.9 1.6 2.8 1.7-2.5 1.7 .8 1.7 2.3 1.7-.8 1.6-.5 1.7 .5 1.7-.4 1.7 .7 1.7-1 1.6-1.9 1.7 2.1 1.7-.3 1.7 1.4 1.7-1.8 1.6 .5 1.7 .2 1.7-.3 1.7-1.9 1.7-1.3 1.6-1.8 1.7-1.3 1.7 1 1.7-.8 1.7-2.9 1.6-1.5 1.3 .1 1.7-.3 1.7 1.8 1.6 4.7 1.7 1.2 1.7 1.3 1.7 1.1 1.7-3.1 1.6 1.5 1.7 1.8 1.7-2.3 1.7 2.4 1.6-1.7 1.7 3.2 1.7-1.7 1.7-1 1.7 2.4 1.6 1.2 1.7-.3 1.7 .3 1.7-3 1.7 1.3 1.6-1.2 1.7 1.1 1.7 1.1 1.7-.8 1.7 .2 1.6 .2 1.7-.7 1.7-2 1.7 1 1.7 2.4 1.6-2.8 1.7-.6 1.7-1.1 1.3 .7 1.6-2.6 1.7 2.4 1.7-.1 1.7 .9 1.7 2.3 1.6-2.2 1.7 2.5 1.7 .4 1.7-1.6 1.7-1.1 1.6 3.6 1.7-2.3 1.7 1.8 1.7-.5 1.7-.1 1.6 .6 1.7-1.2 1.7 .7 1.7 0 1.6 .4 1.7-1.4 1.7 .4 1.7-.6 1.7-.8 1.6 2.2 1.7-.8 1.7-1.7 1.7 .7 1.7 .8 1.6 1.4 1.7-1.8 1.7 1.7 1.7 1 1.7-2.2 1.6-.2 1.7 1.5 1.7-1.2 1.7-2.2 1.7 1.7 1.6 1.4 1.7 .8 1.7-2.6 1.7 .2 1.7-.2 1.6 1 1.7-2.9 1.7-.1 1.7 1.4 1.7-3.4 1.6-.7 1.7 1.8 1.3-1.3 1.7 1.6 1.6-2.3 1.7 2.1 1.7 2.4 1.7-1 1.6 .6 1.7-2.7 1.7 1.3 1.7-.4 1.7 .9 1.6 .2 1.7-1.9 1.7-1.9 1.7 .3 1.7 .8 1.2-1.8 1.7-1.1 1.7 2 1.7 4 1.6 .4 1.7-1 1.7 1.7 1.7 0 1.7 .5 1.6 1.8 1.7-.2 1.7-1.3 1.7-.7 1.7 1.4 1.6-1.1 1.7 1 1.7-2.4 1.7 2 1.7 .5 1.6-.6 1.7-.6 1.7-.6 1.7 1.7 1.7 1.6 1.6-1.1 1.7-.4 1.7-.6 1.7 .4 1.7-.2 1.6-.1 1.7 .6 1.7-1.7 1.7 .4 1.6 1.1 1.7-.7 1.7 .9 1.7-.4 1.7-.3 1.6-.9 1.7 2 1.7-3 1.7-2.4 1.7 1.8 1.6 2.9 1.7 .8 1.7 .8 1.7-.5 1.7 .4 1.6-1 1.7-1.4 1.7 1.6 1.7-1.6 1.7 .5 1.6 1 1.7 .4 1.7-.3 1.7-1.9 1.7 1.3 1.6-.5 1.7-.2 1.7 2.4 1.7 .6 1.7-.8 1.6-2.3 1.7 1.4 1.7 0 1.7-1.3 1.7 .6 1.6 .6 1.7-.5 1.7-1.4 1.7-1.2 1.6 1.3 1.7 1.1 1.7 .5 1.7-3.7 1.7 0 1.6-.6 1.3 1.5 1.7 1.4 1.7 .9 1.6-2.3 1.7 2.3 1.7-.7 1.7 .5 1.7 .9 1.6-1.2 1.7 2.6 1.7 .1 1.7-2 1.7 1.6 1.6-2 1.7-1.1 1.7 0 1.7 2.5 1.7-.4 1.6-2.3 1.7 1.4 1.7 .2 1.7-.5 1.7 .3 1.6-.5 1.7 .1 1.7 1.1 1.7-.2 1.7-.4 1.6 .3 1.7 1.4 1.7-2 1.7-.5 1.6-.4 1.7 2.7 1.7-3.2 1.7 2.6 1.7-4.5 1.3-.8 1.6 1.5 1.7 4.3 1.7-1.2 1.6-.1 1.7-2 1.7 0 1.7-.9 1.7 1.5 1.6 .4 1.7 .3 1.7 1.1 1.7-1.6 1.7 .2 1.6 1.8 1.7-1.3 1.7 .5 1.7 .5 1.7-.3 1.6 1.2 1.7-1.9 1.7 1 1.7-.3 1.7-1.8 1.6 1.8 1.7 .1 1.7 .9 1.7-2.1 1.7 1.3 1.6-3.4 1.4 .1 1.6 .8 1.7 .8 1.6 2.2 1.7 1.1 1.7-1.4 1.7 .9 1.6-.9 1.7-.8 1.7 1.6 1.7-.6 1.7-.9 1.6 2.1 1.7-1.8 1.7-1.4 1.7 .9 1.7 1 1.6-.3 1.7 .6 1.7-1 1.7 1.3 1.7 .4 1.6-1 1.7-.8 1.7 .9 1.7-2.1 1.7 .6 1.6 .6 1.7 1.6 1.7-1.3 1.7 1.6 1.7-.1 1.6-1.7 1.7-.7 1.7-1.8 1.7 1.8 1.7-.3 1.6 2.1 1.7-1.9 1.7 1.2 1.7-1.1 1.7 .6 1.6-1 1.7 1.4 1.7 1.3 1.7-1.2 1.6-3.1 1.7-1 1.3 0 1.7 2 1.6 2.2 1.7 .2 1.7-.5 1.7-.8 1.7 1.7"/>
<path fill="none" stroke="#d05c5c" stroke-width="1.5" stroke-linejoin="round" d="M335.8 882.9 l.4-.2 .4-2.4 .4 .8 .5-.2 .4 2 .4 .1 .4-.7 .4 .6 .5 .4 .4 .5 .4-2.3 .4 1.4 .4 .4 .5-2.4 .4 .1 .4 .8 .4-.4 .4 1.9 .5-.2 .4 .1 .4-.3 .4-1.1 .4-.2 .5 1.3 .4-.5 .4 1.8 .4-.9 .4-.6 .5 1.8 .4-1.6 .4-.8 .4 1.8 .4-1 .5-.7 .4 1.3 .4 1 .4-2.1 .4 1.8 .5 0 .4-1.7 .4 2.1 .4-1.1 .4-.8 .4 1.4 .5-.7 .4-.5 .4-.3 .4 .4 .4 .7 .5 .6 .4-1.7 .4 1.5 .4-2 .4 .3 .5 1.4 .4 .6 .4 .4 .4-.6 .4-.4 .5-1 .4 1.7 .4-.9 .4 1.4 .4 .2 .5 .8 .4-1.6 .4 1.9 .4-.2 .4-.5 .5-.4 .4 .1 .4 .5 .4 0 .4 0 .5-.5 .4-1.6 .4 1.6 .4-1 .4-.6 .5 2.3 .4 .1 .4-1.1 .4-.2 .4 0 .5-.3 .4 .4 .4 .1 .4-1.2 .4 2.6 .5-2.4 .4 1.3 .4-.1 .4 .1 .4 2.5 .5-1.5 .4 1.1 .4-1.6 .4 .5 .4 1.7 .5-.6 .4-1.9 .4 2.2 .4-.8 .4-.6 .5-.7 .4-.3 .4 1.9 .4-.4 .4-.1 .5-1.5 .4 .3 .4 2.3 .4-1 .4-.5 .5-1.1 .4 .7 .4-.3 .4-.3 .4 .5 .5-.6 .4-.2 .4 .4 .4 1.4 .4-1.4 .5 2.8 .4-2.1 .4 1.2 .4 0 .4-.3 .5-.1 .4-.6 .4 .3 .4-.7 .4 1.8 .5-.2 .4-1.3 .4 1.5 .4-1.2 .4 1.2 .5-.3 .4-.4 .4 1.7 .4-.3 .4 .3 .5 .3 .4-2.8 .4 1.7 .4 1.4 .4-1.9 .5 .6 .4 .7 .4 .6 .4-.8 .4 0 .5 .9 .4-2.1 .4 2.1 .4-.9 .4 .8 .5 .4 .4-1.3 .4 2.2 .4 .1 .4-1.3 .5-.5 .4-.4 .4 .7 .4 1.4 .4-.3 .5-1.3 .4-.5 .4 .1 .4 1.7 .4-2.8 .5 .2 .4 1.4 .4-1.4 .4 .3 .4 1.7 .5-1.3 .4 1 .4-.1 .4-.8 .4-.1 .5-.1 .4 1.7 .4-2.6 .4 .4 .4 .8 .5-.2 .4 1.3 .4-.1 .4 .3 .4-.4 .5 .8 .4 .7 .4 .1 .4-.8 .4 .6 .5-2 .4 .3 .4 2.1 .4-1.3 .4 0 .4 .7 .5-.6 .4 1.8 .4-1.5 .4 1.3 .4-.7 .5 .9 .4-1.2 .4 1.7 .4-1.1 .4-1.6 .5 1.8 .4 .5 .4-2.4 .4 2.5 .4-1.1 .5 .4 .4-1.5 .4 2.2 .4-.5 .4-.4 .5 .9 .4-.8 .4-.2 .4-1.4 .4 1.6 .5 .7 .4-.9 .4 1.3 .4 .1 .4-1.2 .5 1.2 .4 .1 .4-.6 .4 .8 .4-2.2 .5 1 .4 .1 .4 1.8 .4-1 .4-.3 .5-1.1 .4 1 .4 0 .4 1.7 .4-1.5 .5 1.4 .4-.3 .4 .8 .4-2.7 .4 2.7 .5 .1 .4-2.4 .4-.2 .4 .8 .4 .7 .5-.4 .4-.1 .4 1.6 .4-1 .4 1 .5-1.1 .4-1 .4 2.6 .4 .5 .4-1.6 .5 1.1 .4-.5 .4-1.4 .4 1.1 .4-.3 .5-.8 .4-.3 .4-.1 .4 .3 .4 .3 .5-1.8 .4 2.6 .4-.9 .4 1.3 .4-.8 .5-.9 .4 1.7 .4-.6 .4 .5 .4-.6 .5-.1 .4 .1 .4 1.8 .4 .2 .4 .1 .5-1.8 .4 1.2 .4-1.9 .4 1.8 .4-1.2 .5 .9 .4-2.1 .4 1.6 .4-2.9 .4 1 .5-1.8 .4-.1 .4 1.9 .4 2.1 .4-.4 .5-.3 .4 0 .4 1.4 .4-.2 .4-1.5 .5 2.7 .4-1.8 .4 .5 .4-.9 .4 1.6 .5 1.2 .4 .5 .4-1.8 .4-1.5 .4 1.3 .5-.9 .4 .1 .4-.2 .4 2.3 .4-1.3 .5-.9 .4 1.5 .4 .5 .4 .4 .4-.1 .5-.4 .4-1.8 .4-.2 .4-.1 .4-1.7 .5-.4 .4-3 .4-3.3 .4 1.5 .4 .5 .5 3.4 .4 2.1 .4 1.9 .4-.8 .4 0 .5 2.2 .4-1.5 .4 0 .4-.3 .4 .6 .5-.6 .4 0 .4-.3 .4 1.2 .4-.1 .4 .8 .5-.5 .4 .4 .4 2.3 .4-2.2 .4 1.7 .5-.3 .4-.1 .4-1.3 .4-.6 .4 2.4 .5-2.3 .4 .4 .4 2.3 .4-.3 .4-.7 .5-1.4 .4-1.7 .4-2.4 .4-4.1 .4 .5 0-.8 .5 3.3 .4 1.2 .4 2.8 .4 1.1 .4-.7 .5 .4 .4-1.8 .4 .5 .4-1 .4 2.1 .5-.6 .4 .8 .4 .1 .4-.4 .4 2.5 .5-.4 .4-1 .4 1.4 .4-1.3 .4 .7 .5-2.1 .4-1.3 .4 .2 .4 2 .4 .1 .5-.4 .4 1.7 .4 0 .4 1.2 .4-2.2 .5 .1 .4 1.3 .4-1 .4 2.6 .4-2.1 .5 1.3 .4-.3 .4 1 .4-2 .4 .8 .5 .7 .4-1.1 .4 1.4 .4-.5 .4 1 .5-1.2 .4-.4 .4 .1 .4-.2 .4 2.2 .5-.2 .4-.8 .4 .1 .4-1.1 .4 1.5 .5 0 .4-1.8 .4 .5 .4 .1 .4-1.3 .5-.4 .4-2.1 .4 0 .4-2.3 .4 1.6 .5-.8 .4-.9 .4 2.6 .4-1.9 .4 1.4 .5 1.1 .4-.3 .4 1.3 .4 1 .4 .4 .5-.8 .4-.4 .4 1.7 .4-2.4 .4-2.4 .5-3.8 .2-1.7 .2 1.1 .4 4.9 .4 3.5 .4 1.9 .5-1.1 .4 .7 .4-.1 .4 2.8 .4-1.1 .5 .4 .4-.7 .4-.6 .4 .5 .4-.1 .5 .6 .4 1.1 .4-.2 .4-1.8 .4-.4 .5 1.3 .4-1.4 .4-1 .4 .9 .4-2.3 .5 0 .4-.1 .4 1 .4 1.1 .4-.7 .5-.3 .4 1.5 .4 2.1 .4-2.7 .4 .6 .5 1.8 .4-.7 .4 .4 .4 .1 .4-2.2 .5 1.5 .4-.7 .4 2.3 .4 .2 .4-2.2 .5 1.9 .4-2.1 .4 2 .4-.5 .4 0 .5 .7 .4 .7 .4-.9 .4-1.3 .4 3 .5-2.8 .4 2.6 .4-1.8 .4 2.4 .4-.9 .4-1.4 .5 2.1 .4-2.5 .4-.2 .4 .2 .4 .6 .5-.5 .4 2.3 .4-1.2 .4 1.3 .4-2.1 .5 .9 .4 1 .4 .3 .4-1.9 .4 .2 .5 1.6 .4-1.7 .4 .3 .4 1.6 .4-1.3 .5-1 .4 2.6 .4-1.5 .4-.8 .4 1.3 .5-3.4 .4 2.3 .4-2.6 .4 .3 .4 3 .5-1 .4-.4 .4 3 .4-1.7 .4 1.7 .5-1.2 .4 0 .4 .9 .4 1 .4-.1 .5-1 .4-1.3 .4 1.4 .4 .6 .4-.9 .5 .7 .4 .4 .4-.5 .4-.2 .4-.4 .5 .9 .4-1.4 .4-.4 .4 0 .4 .4 .5-.4 .4 1.4 .4-1 .4 .6 .4-.7 .5-.9 .4 2.4 .4-1.5 .4 .9 .4 .4 .5 .2 .4-.9 .4-.2 .4 1.6 .4-1.2 .5-1 .4 1.8 .4-.7 .4-.5 .4-1.5 .5-.3 .4-.6 .4 .8 .4 .2 .4 .2 .5-.4 .4 1.1 .4 2.4 .4-.4 .4-1.9 .5-.9 .4 1.1 .4 .3 .4-1.5 .4 2.1 .5-.1 .4 0 .4 .3 .4 .2 .4-2.3 .5-1.8 .4 .2 .4 1.9 .4 1 .4-.6 .5 1.8 .4-.7 .4-.6 .4 1.7 .4-1.1 .5 .5 .4-.2 .4 .9 .4-.1 .4 .6 .5-2.2 .4 1.1 .4-.9 .4 .7 .4-.6 .5 1.7 .4 1.5 .4-.2 .4-.6 .4-.2 .5-1.2 .4 2.2 .4-.7 .4 0 .4 .6 .5-1.1 .4 .9 .4-.4 .4-.1 .4 1.6 .5-.3 .4-1.6 .4 2.3 .4-2.5 .4 .8 .5-.7 .4 .3 .4-.5 .4-.2 .4 .6 .5 .1 .4-.8 .4-.7 .4 1.6 .4 .3 .5-.4 .4-1.5 .4-.3 .4 1.9 .4-1.8 .5-.3 .4 1 .4-.4 .4 1.1 .4-2.1 .5 .5 .4-.2 .4 .1 .4-.8 .4 1.4 .4-1.6 .5 .2 .4 1 .4-4 .4 .5 .4 .6 .5 3.2 .4-.4 .4-.3 .4 2.5 .4-.9 .5-1.9 .4 1.3 .4-.9 .4 1.6 .4-2.6 .5 .4 .4-.5 .4-3 .4-4.7 .4-4.6 .1-1.2 .4 1.4 .4 4.4 .4 5.4 .4 1.2 .4-.7 .5 3.3 .4-.7 .4-.5 .4 .9 .4 .3 .5-.3 .4 1.4 .4-.2 .4-.4 .4 1.6 .5-1 .4-.7 .4-.6 .4 .4 .4-1.7 .5 1.3 .4-2.1 .4 1.3 .4-.9 .4 1.3 .5 .5 .4 1.4 .4-1.9 .4 .8 .4-.7 .5 2.3 .4-.7 .4-1.2 .4 .7 .4-.4 .5 .1 .4 .4 .4-.3 .4-3.7 .4-.7 .5-3.9 .4-7.2 .2-1.7 .2 .3 .4 6.9 .4 3.1 .5 2.5 .4 .2 .4 .7 .4 1.3 .4 1.3 .5-1.3 .4 .9 .4 1.8 .4-.1 .4-.8 .5 2.2 .4-.4 .4-1.7 .4 .9 .4-1.2 .5 1.4 .4 .2 .4-1.4 .4-.2 .4 .4 .5 1.1 .4-1.1 .4 .1 .4-.3 .4-.1 .5-.1 .4-.8 .4-.1 .4-.3 .4-3.5 .5 1.5 .4-1 .4 2.4 .4 .1 .4 1.6 .5 1 .4 0 .4-.2 .4 .1 .4-1.3 .5 2.2 .4 .6 .4-1 .4-.4 .4-1.8 .5-1 .4-1 .4-.8 .4 3 .4 1 .5-1.5 .4-.5 .4 .8 .4-.8 .4 .6 .5-1.8 .4-.9 .4 .6 .4-2.8 .4-3 .5-9.9 .4-18 .4-25.6 .3-8.1 .1 .8 .4 20.7 .5 21 .4 15.6 .4 3.4 .4 1.9 .4 1.8 .5 1.8 .4 .9 .4 .1 .4-1 .4 2.3 .5-1.3 .4 .9 .4 1 .4 1.9 .4 .3 .5-2.1 .4 1.4 .4 .4 .4-1.7 .4 1.5 .5-1 .4-1 .4 1.2 .4 .2 .4 1 .5-1.5 .4 .2 .4-3.2 .4-2.9 .4-4.1 .3-4.1 .1 2 .5 4.3 .4 5.7 .4 .2 .4 2.4 .4-.6 .5 1 .4 .8 .4-.2 .4-1.3 .4 .1 .5 2.5 .4-1.1 .4 1.6 .4-1.2 .4-1.3 .5-.4 .4 .7 .4 .7 .4-1.3 .4 .6 .5 .2 .4-1.2 .4 .7 .4 .1 .4 2.3 .5-2.7 .4 2.8 .4-2.6 .4 1.3 .4-.7 .5-.2 .4 1.1 .4-.5 .4 .2 .4-1.5 .5 .5 .4 1.6 .4-1.9 .4 2.2 .4 .3 .5-1.3 .4 .6 .4-1.1 .4 .6 .4-1.9 .5 .6 .4 1.1 .4 0 .4 1.7 .4 .3 .5-2.7 .4 .4 .4-.7 .4 .6 .4 1.9 .5-1.3 .4-1.7 .4 1.2 .4 1 .4 .2 .5-.2 .4-.4 .4-1.8 .4 2.2 .4-1.8 .5 1.8 .4-2.4 .4 .1 .4 2.3 .4-2.1 .5 1.1 .4-.5 .4-.4 .4 .3 .4 .2 .5 1.2 .4-.8 .4 .8 .4-.3 .4-2.1 .5 1.1 .4 .3 .4-.8 .4 .3 .4 1.3 .5-2.3 .4 1.1 .4 0 .4-3.1 .4 1.1 .5-2.2 .4 2.8 .4-1.9 .4 .2 .4 2.6 .5-1.8 .4 .2 .4 .3 .4 .7 .4-2.6 .5 .2 .4-1.1 .4 .1 .4-2.6 .4 .4 .5-4.2 .4-4.6 .4-11.5 .4-18.2 .4-30 .4-13.2 .1 3.2 .4 20.5 .4 28.8 .4 17.6 .4 6.9 .5 4.7 .4 1.3 .4 2.7 .4-.5 .4 1.1 .5 1 .4-.9 .4 .7 .4 0 .4 1.1 .5 .3 .4 1.6 .4-1.7 .4-.7 .4 1.8 .5-.8 .4 1.5 .4-1.7 .4-.7 .4 1.2 .5 1.8 .4-3.1 .4 1.8 .4 .9 .4-2.1 .5 1.7 .4-2.4 .4 .6 .4-.4 .4 2.9 .5-1.1 .4-1.1 .4 1.9 .4-1.1 .4-.9 .5 1 .4-.7 .4 .4 .4-3.4 .4 1.8 .5-2.3 .4-4.8 .4-5.4 .4-6.5 .1 2.2 .3 .5 .4 6.9 .5 6 .4 2.3 .4-1 .4 .5 .4 .1 .5 .4 .4 2.6 .4-1.6 .4 .6 .4 1.5 .5 .4 .4-.2 .4 .2 .4-.1 .4-1.6 .5 .5 .4 .4 .4-.9 .4 .8 .4 .9 .5-2.4 .4 1.7 .4 .2 .4-1.5 .4 .4 .5-1.8 .4-2.9 .4-6 .4-1.7 .1-1.9 .3 3.7 .5 2.9 .4 5.7 .4-.4 .4 2.9 .4 .1 .5-1.9 .4 0 .4 2.7 .4-.1 .4-2.3 .5 1.6 .4-1 .4-.9 .4 1.7 .4-1.5 .5-4.2 .4-3 .4-3.9 .1 1.4 .3 1.6 .4 1.6 .5 5 .4 1.1 .4-.4 .4 .6 .4-.5 .5-1 .4 2.2 .4-.2 .4 .2 .4-1.3 .5-1.5 .4 1.9 .4-2.6 .4-1.1 .4-.4 .5 1.2 .4-.8 .4 .3 .4-3 .4-2.4 .5-3 .4-15.2 .4-22.5 .4-26.3 .2-.9 .2 6 .5 25.3 .4 20.5 .4 14 .4 2.6 .4 3.6 .5 1.1 .4 2.6 .4 .6 .4 .5 .4-1.2 .5 .3 .4 .3 .4 0 .4-1 .4 .2 .5 1.6 .4 0 .4 .6 .4-.8 .4-.8 .5-1.8 .4-1.3 .4-2.3 .4-2.3 .4-4.7 .1 .2 .4 .8 .4 4.2 .4 3.2 .4 2 .4 1.2 .5-3 .4-.1 .4 1 .4-2.2 .4-3.4 .5-7.3 .4-7.8 .2-1.2 .2 3.1 .4 8 .4 5.6 .5 3.9 .4 1.8 .4-1.9 .4 .7 .4-1 .5-.1 .4-5.2 .4-8.4 .4-15.4 .4-18.2 .3-6.1 .2 2.4 .4 17.5 .4 15 .4 8.7 .4 2.3 .5 .1 .4-4.6 .4-9.1 .4-24.4 .4-41.7 .5-42 .1-4.2 .3 11.8 .4 49.5 .4 35 .4 20.5 .5 8.9 .4 2.5 .4 2.3 .4 2.3 .4 2 .5 1.7 .4-.7 .4 1 .4 1.9 .4-1.7 .5 1.7 .4-.2 .4-1.6 .4 3.2 .4-2.4 .4 1 .5 2 .4-1.5 .4 2.3 .4-1 .4-1.3 .5-.1 .4 2.5 .4-1.5 .4 1.1 .4-2.1 .5 .9 .4-1.4 .4 1 .4-1.8 .4-.2 .5 2.6 .4-.6 .4-.4 .4-.6 .4-1.2 .5 2 .4-1.4 .4-.2 .4 1 .4 .7 .5 .2 .4 .9 .4-1.3 .4-.8 .4-.6 .5 .3 .4 2.1 .4-2.8 .4 1.4 .4-1.3 .5-1 .4 .5 .4-1.5 .4-4.3 .4-3.9 .5-13.7 .4-20.1 .4-16.9 .1-.4 .3 8.5 .4 23.7 .5 16 .4 9.1 .4 1.3 .4 3.5 .4-1.6 .5 .3 .4 .6 .4-.1 .4 1.2 .4-2.1 .5 1.9 .4-1.3 .4-2.6 .4-1.7 .4-3.1 .1-1.2 .4 .4 .4 6.6 .4 1.8 .4 2 .4-2 .5 0 .4 1.2 .4 2.2 .4 .4 .4 .2 .5-1.4 .4 1.2 .4-2.2 .4 .5 .4-3.1 .5-1.8 .4-6.7 .4-4.4 .4 4.9 .4 4.6 .5 3 .4 1.6 .4 1.8 .4-.6 .4 1.3 .5-2 .4 .8 .4 1.6 .4-1.1 .4 .4 .5-.3 .4-1.5 .4-1.9 .4-.8 .4-2.1 .5-3.8 .4-4.2 .4-9.8 .4-6.4 .2-2 .2 4.2 .5 11.1 .4 8.4 .4 5.2 .4 2.3 .4 .5 .5-.2 .4 .1 .4-.2 .4 .6 .4-.4 .5-.2 .4-1 .4 .3 .4-1.3 .4-.6 .5-3.6 .4-5 .4-6.3 .2-2.4 .2 2 .4 7.4 .5 5.5 .4 4.2 .4 1.8 .4 .8 .4-1.3 .5-.2 .4 1.2 .4-.4 .4-1 .4 .6 .5 2.2 .4-.2 .4-2 .4-1.2 .4 1.7 .5-2.6 .4-3.2 .4-4.9 .4-7.9 .4-2.1 0-2.2 .5 6.8 .4 5.1 .4 4.1 .4 3.4 .4 2.3 .5 .6 .4 1.2 .4-1.1 .4 .5 .4-1.8 .5 2 .4-.3 .4-.8 .4-4.3 .4-3.4 .5-5 .2-3.2 .2 3.4 .4 5.3 .4 3.7 .4 2.3 .4 2.2 .5 .9 .4-.9 .4 .9 .4-2.5 .4-.3 .5 0 .4-3.4 .4-4.3 .4-6.2 .4-3.7 0-.5 .5 3.1 .4 6.6 .4 3.4 .4 3.7 .4 1.4 .5-1 .4 1.6 .4 .5 .4-.8 .4-1.2 .5 .7 .4-4.3 .4-2.4 .4-5.4 .1 1.5 .3 .9 .5 4.3 .4 3.9 .4 .6 .4-1.6 .4-.1 .5 .6 .4 .1 .4-1.8 .4 1.2 .4 1.5 .5 .1 .4-.9 .4 2.4 .4-.4 .4-.5 .5-.4 .4 2.4 .4-.6 .4 1.9 .4-1.8 .5-.3 .4-.2 .4-1.1 .4-4.4 .4-2.5 .2-1.1 .3 2.9 .4 .3 .4 3.8 .4-1.5 .4 1.1 .5 .9 .4 .7 .4 2.2 .4-.7 .4 1.2 .5 1 .4-1.7 .4 .8 .4 1.1 .4-.4 .5-.2 .4-1.5 .4 1.1 .4-1.2 .4-1.9 .5 .6 .4 1.4 .4 .6 .4-.9 .4-.3 .5-1.3 .4 .6 .4-2.6 .4-1.5 .4 2.4 .5-4.5 .4-3.2 .4-6.9 .1 1.3 .3 1.9 .4 4.8 .5 6.1 .4 2.2 .4 .7 .4-1.2 .4-.3 .5-.1 .4 .3 .4-1.2 .4 1.4 .4 .2 .5-.7 .4 2 .4 .9 .4-1 .4 1.6 .5-1.3 .4 .8 .4 0 .4-1.5 .4-2.2 .5-3.6 .4-8.1 .4-11.8 .3-4.2 .1 1.6 .4 7.9 .5 12 .4 6.2 .4 .4 .4 2.1 .4-.1 .5 1.8 .4-.9 .4 1.9 .4-.7 .4-1.7 .5 0 .4 1.3 .4 .2 .4 .1 .4 .9 .5-2.6 .4 .3 .4 .5 .4 1.3 .4-2.8 .5 1.3 .4-1.9 .4 1.3 .4-1.1 .4-1.9 .5 .3 .4-2 .4-4.7 .4-5.6 .4-5.6 0 1.1 .5 5.7 .4 6.1 .4 3.4 .4 1.9 .4 3.1 .5-.6 .4 1.8 .4 .3 .4-1.6 .4 0 .5 1.3 .4 .5 .4-1.8 .4 1 .4-.1 .5-1.2 .4 .2 .4-3.2 .4-.3 .4 .5 .4-1.6 .5-3 .4-.9 .4-.3 .3 .8 .1 .4 .4-.3 .5-.6 .4 4 .4 1.3 .4-.7 .4 2.3 .5-.7 .4-.3 .4 1.2 .4-3.2 .4 1.7 .5 .3 .4 1.7 .4 .6 .4-.4 .4 1.5 .5-.7 .4 2.1 .4 0 .4-1.1 .4 1.2 .5-.5 .4-.5 .4-.1 .4 2.4 .4-2.2 .5 1.9 .4-.3 .4-1.5 .4 .8 .4 .3 .5 .4 .4 .2 .4-1 .4 .7 .4-.4 .5 1.4 .4-1 .4-.8 .4-.3 .4-1.6 .5 .3 .4 .6 .4 .1 .4-2.8 .4 2.1 .5-.9 .4 1.1 .4 2.2 .4 .2 .4-.4 .5 1.4 .4-.2 .4-2.8 .4 1.8 .4-1.1 .5 0 .4 .1 .4 .2 .4-1.1 .4 2.1 .5-2 .4 2.9 .4-2.6 .4 1.1 .4-.8 .5-.1 .4-3.1 .4-.3 .4 1.3 .4 1.1 .5 .2 .4-2.6 .4 .4 .4-2.5 .4 1.1 .5-3.4 .4-1.2 .4 .4 .4-1.5 .3-.6 .1 2.2 .5-.7 .4-.5 .4 2.1 .4 2.4 .4 .2 .5 .3 .4 1.1 .4 1.1 .4 1.4 .4 .9 .5 .1 .4-.8 .4 .5 .4 1.9 .4-1.8 .5 1.2 .4-.6 .4 1.7 .4-3 .4 .9 .5 1.6 .4-2.4 .4 1.2 .4 1.7 .4-1 .5-1.3 .4-.2 .4 2.6 .4 .2 .4-1.9 .5 2 .4-.3 .4-.9 .4-1.1 .4-1 .5-.1 .4 .6 .4-1.5 .4 2.1 .4 .3 .5 .2 .4 .8 .4-1.9 .4 2.6 .4-1.5 .5 .2 .4-.8 .4 1 .4 .3 .4-2.1 .5 .7 .4 1.6 .4-2.6 .4 1.5 .4-1.1 .5 .8 .4-1.1 .4-.4 .4-.9 .4-1.3 .5 .8 .4-3.1 .4 .8 .4 2.6 .4-.5 .5 2.3 .4-1.3 .4 2.3 .4-2 .4 1.3 .5 .8 .4-.1 .4-.7 .4 .5 .4-1 .4-.3 .5-.9 .4 1.1 .4-.9 .4 .9 .4-.4 .5-.4 .4-1.1 .4-.3 .4 1.7 .4-1.4 .5 0 .4 .9 .4 .1 .4-1.6 .4-1.4 .5 .7 .4-2.2 .4-.8 .4 .8 .4-.7 .5 .7 .4 .3 .4-2 .4 1 .4-.7 .5 4 .4 1.8 .4-1.1 .4 .6 .4 1.9 .5-1 .4 2.1 .4-1.2 .4 1.5 .4-1.8 .5 .2 .4 1 .4-1.2 .4 .3 .4 .6 .5-1 .4 1.9 .4-1.4 .4 .8 .4-.7 .5 1.2 .4-.7 .4 .9 .4 .4 .4-1.7 .5 .4 .4 .7 .4-.9 .4 1.9 .4-2.6 .5 .3 .4 .7 .4 1.4 .4-1.6 .4 2.3 .5 .1 .4-.6 .4-.7 .4-.2 .4 .3 .5 1.6 .4-1.1 .4 1.3 .4-1.3 .4-.4 .5-.5 .4 1.7 .4-1.2 .4 1 .4 1.2 .5-2.6 .4 .1 .4 .5 .4-.2 .4 .1 .5 .2 .4-.1 .4-1.3 .4 .5 .4-.7 .5 .1 .4 1.2 .4-1.7 .4 .6 .4 .9 .5-.7 .4 .6 .4 0 .4 .6 .4 .6 .5-1.6 .4 1.7 .4-.7 .4-.7 .4 1.3 .5-1.3 .4 .6 .4 .8 .4-2 .4 .8 .5-.2 .4-.9 .4 0 .4 .1 .4 2.8 .5-.4 .4-1.5 .4 1.7 .4 .1 .4-.8 .5-1.5 .4 1.1 .4-1.6 .4 1.8 .4 .1 .5-.5 .4-1.8 .4-.9 .4 2.1 .4-1.7 .5-.7 .4-.4 .4-.4 .4 1.6 .4 1.5 .5-1.1 .4 1.4 .4 1.2 .4-1.1 .4-1.3 .5 1.8 .4 .9 .4-1.3 .4-.3 .4 .4 .5 0 .4-1.5 .4 1.1 .4-.9 .4 1.7 .5-.3 .4 0 .4 .6 .4-1 .4-.7 .5-.5 .4-.3 .4 .6 .4-.2 .4 .1 .5 1.4 .4-.2 .4 1.2 .4-2.4 .4 0 .4 .7 .5 1.3 .4-.8 .4-1.6 .4 1.2 .4-3.3 .5 .7 .4-.5 .4-.7 .4-2.2 .4 1 .5 3.2 .4 .7 .4-.8 .4-.7 .4 2.5 .5 .6 .4-2.1 .4-.1 .4 2.3 .4 1.1 .5-1.5 .4-.2 .4 1.1 .4-.3 .4-.6 .5 1.3 .4-.1 .4-2.4 .4-.4 .4 1.3 .5-.4 .4-1.2 .4-.8 .4 .3 .4-.3 .5-.4 .4-.9 .4 1.4 .4 1.8 .4-1.4 .5-.1 .4 1 .4 .2 .4 1.4 .4-1 .5 1.7 .4-.5 .4 0 .4-1.6 .4 .8 .5 .4 .4 1.2 .4 .2 .4-2.7 .4 1.8 .5 1 .4-.9 .4 .5 .4-1.8 .4 .7 .5-.7 .4 .4 .4 1.7 .4-.9 .4 1.1 .5-3 .4 1.5 .4 .5 .4-1.9 .4 1.7 .5-1.4 .4 1.7 .4 .8 .4-1.1 .4 1.1 .5-.8 .4-.8 .4 1.3 .4-1 .4 .7 .5 .1 .4-.7 .4-.2 .4 .4 .4 .3 .5-1.6 .4 2.3 .4-2.7 .4-.3 .4-.5 .5 .6 .4 1.7 .4-.3 .4-.1 .4-1.2 .5-1.6 .4-2.5 .4 1.8 .4 1.3 .4-.5 .5 1.3 .4 .5 .4-1.4 .4 2.2 .4-.6 .5-1.3 .4 1 .4 .2 .4 1.2 .4-1.6 .5 2 .4-2.2 .4-.1 .4 2.3 .4-1.2 .5 .4 .4 .1 .4-2.2 .4 1 .4-1.9 .5 .3 .4-1 .4-3.4 .4-1.2 .4-.3 .5-.6 .4 .7 0-2 .4-.9 .4 2.8 .4 .2 .5 .5 .4-.1 .4 3.3 .4-1.1 .4 2.6 .5 1.8 .4-2 .4 1.5 .4 1.1 .4-1.3 .5 0 .4 1.2 .4-1.8 .4-1.3 .4 2.2 .5 1.2 .4 .6 .4-2 .4 1.2 .4-.1 .5-.7 .4 2.5 .4-2.6 .4 2.6 .4-1.8 .4 1 .5 .4 .4-.3 .4 .5 .4-1.1 .4 .1 .5 0 .4 .7 .4-2 .4 .8 .4 .2 .5-1.2 .4 .6 .4 1.4 .4-1.4 .4-.5 .5 .7 .4-1.1 .4 1.2 .4-2.2 .4 1 .5-.5 .4 .1 .4-2.6 .4 1.7 .4-2.2 .5-1.3 .4 .9 .4-.3 .4 1.7 .4-.5 .5 1 .4 2.3 .4-.7 .4 .3 .4 .1 .5 .9 .4-.8 .4 1.1 .4 .4 .4-.4 .5-1.2 .4 1.6 .4 .2 .4 .4 .4-3.2 .5 1.9 .4-1.7 .4 .2 .4 1.6 .4-.6 .5-.2 .4-2.5 .4-.3 .4 .5 .4-1.3 .5-4.2 .4-1.9 .4-1.6 .4-.8 .4-2.9 .5 1 .2-.5 .2-.6 .4 1.6 .4 2.2 .4-.7 .5 3.2 .4 1.9 .4 1.5 .4-1.6 .4 1.5 .5-.7 .4-.5 .4-1 .4-3.4 .4-.5 .5-3.4 .4 1.3 .4-.3 .1-.8 .3-.2 .4 .3 .5 1.8 .4 1.2 .4-.9 .4 3.1 .4 .6 .5-.5 .4 3.9 .4 2.2 .4-.3 .4 1.2 .5 3 .4-.9 .4 .6 .4 1.3 .4-.1 .5-1.1 .4 .4 .4-.3 .4-.2 .4 2.2 .5-1.3 .4 .6 .4 .1 .4-.3 .4 .6 .5-.8 .4-.2 .4-.5 .4-.6 .4 1.8 .5-.4 .4-1.8 .4 2.2 .4-2 .4 .8 .5 .9 .4-.4 .4 0 .4 1.6 .4 1 .5-.6 .4-2.1 .4 1.1 .4-1.6 .4 2.3 .5-1.7 .4 .6 .4-1.1 .4 .1 .4 1.3 .5-1.1 .4 2.1 .4-1.9 .4 1.1 .4-1 .5 0 .4-1 .4 2.1 .4-.2 .4-1.3 .5 1.9 .4-.3 .4-.5 .4 1.4 .4-1 .5 .7 .4-1.5 .4-.3 .4 2.2 .4-.4 .5-.7 .4-.9 .4-.7 .4 2.2 .4-2.4 .5-.2 .4 2.1 .4-.3 .4-1.4 .4 .5 .4 2.3 .5-1.5 .4 1.3 .4-2 .4 1.9 .4-1.7 .5 .9 .4-.3 .4-.7 .4 0 .4 .8 .5-1.4 .4-.7 .4 1.2 .4-1.9 .4-1.2 .5 1.2 .4 1.6 .4-1.5 .4 .3 .4 .8 .5 0 .4-1.2 .4 1 .4-1.8 .4 1.3 .5-.7 .4-1 .4 1.3 .4 .4 .4-1.6 .5 1.6 .4 .4 .4 1.6 .4 .3 .4-1.9 .5 1.1 .4 0 .4 .7 .4 1.2 .4-2.5 .5 .2 .4 2.1 .4-2.1 .4-.4 .4 2.1 .5 .1 .4-2 .4 1.7 .4 .3 .4-.9 .5 .8 .4 0 .4-.3 .4-.5 .4 .5 .5 .3 .4-1.2 .4-.7 .4 2 .4-1.2 .5-.7 .4 .9 .4-.3 .4-.3 .4 .8 .5-.6 .4 .1 .4 1.9 .4-2.8 .4 1 .5-.5 .4 2.2 .4-.5 .4-.8 .4 1.3 .5-.7 .4-1.5 .4 1.8 .4-.5 .4 .2 .5-2.1 .4 2.5 .4-1.9 .4 .1 .4-.1 .5 1.8 .4-2 .4 1.6 .4 .4 .4-1.4 .5-.1 .4-.9 .4 1.2 .4 .3 .4 0 .5 .3 .4 .5 .4-1.1 .4 .2 .4 .5 .5-1.8 .4 .6 .4 0 .4 .9 .4 .8 .5-2.5 .4 2 .4-1.2 .4-.8 .4-1.7 .5 1.3 .4 1 .4-2 .4-.6 .4 .7 .5-1.3 .4 .4 .4-.8 .4 2.1 .4-.7 .5 .7 .4-.7 .4 1.1 .4-.1 .4 .8 .5-.8 .4 .9 .4-1 .4 1.2 .4-1.1 .5-.2 .4-.8 .4 1.6 .4-1.9 .4-1.2 .5-1.4 .4 1.6 .4-1.3 .4 1.6 .4 .8 .5 1.8 .4-.3 .4-.6 .4-.7 .4 1.1 .5 1.9 .4 .7 .4-2.2 .4 .3 .4 1.2 .5 1.3 .4-2.8 .4 1.6 .4-2.8 .4-.3 .5-.6 .4 .3 .4-2.7 .4 2.2 .4-.8 .4 3.2 .5-.7 .4 1.7 .4-.4 .4-1.8 .4 0 .5 .6 .4-2.7 .4 .2 .4-.4 .4 2 .5-2.3 .4 1.4 .4-.1 .4 .7 .4-.1 .5 1.5 .4 .8 .4-.6 .4 1.5 .4-1.3 .5 .6 .4-.5 .4 .8 .4 0 .4 .3 .5-2.1 .4 1.3 .4 .9 .4-.6 .4 1.1 .5-2.4 .4 1.3 .4 1.3 .4-.9 .4-1.3 .5 1.4 .4-1.1 .4-.9 .4-2.4 .4 .8 .5-1.3 .4-.3 .4-1.7 .4 0 .4-1.3 .5-1.5 .3-.3 .1 .3 .4 2.8 .4-.7 .4 2.2 .5 .5 .4 2.2 .4-1.4 .4 1.6 .4 1.5 .5 .2 .4-1.3 .4 .1 .4 .2 .4 2.1 .5-1.4 .4 .2 .4 1.7 .4 .7 .4-1.9 .5-.3 .4 1.9 .4-1 .4 1.4 .4-2.6 .5 1.4 .4 .3 .4 .1 .4 .3 .4-.8 .5-1.5 .4 .9 .4 .7 .4 0 .4 .5 .5-1.1 .4-.9 .4-.2 .4 2.7 .4-1.6 .5-1 .4 .8 .4 .2 .4 1 .4-1.6 .5 1.1 .4 .4 .4 1 .4-2.5 .4 1.2 .5-.4 .4 .6 .4-1.1 .4 1 .4-.1 .5-.2 .4-.6 .4 .9 .4-1.8 .4 2.2 .5-1.7 .4 0 .4-.4 .4 1.1 .4 .2 .5 .4 .4-.5 .4 1 .4 .5 .4-2.3 .5 1 .4 0 .4-.8 .4 2 .4-1.9 .5 1 .4 1.1 .4 .2 .4-.5 .4-.8 .5-1.9 .4 1.8 .4-.5 .4 0 .4-1.8 .5 2 .4-1.8 .4 1.8 .4 .4 .4-.6 .5-.5 .4 1.7 .4-1.4 .4 .2 .4 0 .5 1.2 .4-1.6 .4 2 .4-.3 .4-1.5 .5-.6 .4-.4 .4 2.1 .4-.7 .4 .2 .5-.7 .4 .7 .4-.5 .4-1.5 .4-.9 .5 .9 .4 0 .4-2.1 .4-1.3 .4 1.3 .4 .7 .5 .6 .4 1.8 .4-.2 .4-1.3 .4 1.6 .5 0 .4-.2 .4 1.3 .4-2.4 .4 .5 .5 .2 .4 1.4 .4-.8 .4-.6 .4 .8 .5-1.8 .4-.7 .4 .3 .4-1 .4-.3 .5-.1 .4 1.7 .4-1.5 .4 .3 .4 .2 .5-.3 .4 .8 .4-1.8 .4 3.3 .4-1.9 .5 1.4 .4 .5 .4 1.2 .4 .1 .4-.2 .5 .5 .4-.2 .4 .8 .4-.2 .4-1.6 .5-.1 .4 2.4 .4-2.1 .4 2 .4-1.3 .5-.3 .4-.2 .4-.9 .4-.6 .4-.2 .5 1.7 .4 .3 .4-.4 .4-1 .4-.6 .5 .1 .4-1.6 .4-1.6 .4 1.1 .4 3 .5-.6 .4 1.7 .4-.5 .4-.1 .4-1.1 .5 2.3 .4-2.2 .4 1.4 .4-.8 .4-.3 .5 .7 .4 1.6 .4-1.6 .4 1 .4-1.5 .5-.8 .4-2.5 .4 1.3 .4 .5 .4 .3 .5 1.4 .4 1 .4-.7 .4 0 .4-.1 .5-.7 .4 1.4 .4-1.4 .4 .3 .4 1.6 .5-1 .4 1.6 .4-.6 .4-1.9 .4 2.1 .5-1.8 .4 .1 .4 0 .4-.1 .4 2.4 .5-1.1 .4-.3 .4 1.4 .4-1.5 .4 1.2 .5-.3 .4-.3 .4 .9 .4 .4 .4-1 .5-.8 .4-.4 .4 2.5 .4-.4 .4 .2 .5-.5 .4-.7 .4 1.2 .4-3 .4 1.3 .5 .8 .4-.2 .4-1.5 .4 .7 .4 .5 .5-1.5 .4-.9 .4 .2 .4 1.8 .4-2 .5 2 .4-1.3 .4-.3 .4-.8 .4 1.3 .5-1.6 .4-1 .4 .1 .4-.6 .4 .9 .5 1.1 .4-.5 .4-1.7 .4 .3 .4-.8 .5-.4 .4 2.6 .4 .5 .4-.5 .4 .8 .5 .7 .4 .1 .4-.2 .4 1 .4-.8 .4 .6 .5 .9 .4-.3 .4 1.2 .4-1.9 .4-.2 .5 .1 .4 0 .4 .7 .4-1.1 .4 2 .5-1.6 .4 1.3 .4-.7 .4-1.1 .4-.6 .5 .5 .4 .3 .4-.6 .4 1.4 .4-.4 .5 1.3 .4 .1 .4-.4 .4 .4 .4-.2 .5-.3 .4 0 .4-.5 .4-.7 .4 2.5 .5-1.2 .4 0 .4-1.6 .4 1.6 .4 1.2 .5-.9 .4 1 .4-1.1 .4-.8 .4 1.9 .5-.4 .4-.9 .4 .5 .4-1.1 .4 1.2 .5-.6 .4-.9 .4-.4 .4-.8 .4 2.3 .5-.3 .4 .2 .4-1.7 .4 1 .4-.6 .5 .5 .4-1 .4 .6 .4 1.5 .4-2.7 .5 2.1 .4-1.4 .4-.9 .4 .5 .4-2.2 .5-2.4 .4-1 .4 .1 .4-1.9 .4-2.5 .5-3 .4-.5 .3 1.6 .1-2 .4 3.3 .4 .4 .5 1.3 .4 2.9 .4 1.1 .4 0 .4 2.6 .5-.1 .4-.1 .4-1.8 .4 1.2 .4 2.2 .5 0 .4-.8 .4 1.6 .4-.7 .4 1.6 .5 .9 .4-2 .4 2.5 .4-2.3 .4 .5 .5 1.2 .4-1.3 .4 2.4 .4-2.8 .4 1 .5-1.5 .4 2.5 .4-.9 .4-2 .4 2.5 .5-1.5 .4 .6 .4 1.5 .4-1.9 .4 2.1 .5-2.9 .4 2.3 .4-2.5 .4 .9 .4-.4 .5-2.2 .4 .7 .4 .1 .4-1.8 .4-2.2 .5 1.2 .4-.9 .3-2.4 .1 2 .4-1.5 .4 .9 .5 1.2 .4 2 .4 1.7 .4-1.3 .4 .3 .5 1.3 .4 2.3 .4 0 .4 .7 .4-1.6 .5-.2 .4-.4 .4 2.5 .4-1.6 .4 1.1 .5-.5 .4 1 .4-1.3 .4 1 .4-.5 .5-.2 .4 .4 .4-.7 .4 1.3 .4 .6 .5-1.8 .4 1.3 .4 .5 .4-.7 .4-.5 .5-.5 .4 1.7 .4-2.6 .4 2.5 .4-.8 .4-1.3 .5 1.4 .4-1.4 .4-.3 .4 1.3 .4-.5 .5-1 .4 .4 .4 1.1 .4-.8 .4 1.6 .5-1 .4 .2 .4 1.5 .4-.7 .4-.4 .5-.7 .4-.6 .4 .1 .4 .7 .4-.4 .5 1.7 .4-2.1 .4 1.2 .4 .4 .4 0 .5-1.9 .4 .7 .4 .6 .4 1.2 .4-.7 .5-.9 .4 2.1 .4-2.7 .4 2.1 .4-1.2 .5 .6 .4 .7 .4 0"/>
<path fill="none" stroke="#d42a2a" stroke-width="2.8" stroke-linejoin="round" d="M335.8 882.9 l1.7-2 1.6 2 1.7 0 1.7-1.1 1.7 1.4 1.7-.3 1.6-.2 1.7 1.2 1.7 .6 1.7-2 1.6 1.6 1.7-1.1 1.7 1.1 1.7 .3 1.7-1.6 1.6 2.4 1.7 .9 1.7-.3 1.7-2.1 1.7 2.3 1.6-1.2 1.7-1 1.7 1.4 1.7 2.2 1.7 0 1.6-1.1 1.7 .5 1.7 1 1.7-1.9 1.7-.7 1.6 .2 1.7 1.9 1.7-.7 1.7-.4 1.7 1.2 1.6 1.3 1.7 .6 1.7 0 1.7-2 1.7 2.4 1.6-.3 1.7 1.2 1.7-2 1.7 .5 1.7-.7 1.6 0 1.7-.6 1.7 1.8 1.7 1.4 1.7-2.1 1.6 1.1 1.7 .4 1.7 .3 1.7 .8 1.6-.5 1.7 .6 1.7-.5 1.7 0 1.7 1.4 1.6-1.9 1.7 1.9 1.7-.4 1.7 1.3 1.7 .9 1.6-1.1 1.7 .1 1.7 1.5 1.7-.5 1.7-1.4 1.6 .2 1.7 1.2 1.7-.6 1.7-.1 1.7 .3 1.6-.1 1.7-2.5 1.7 1 1.7 1.4 1.7 2.4 1.6-.6 1.7-1.6 1.7 .3 1.7 1.6 1.7 .4 1.6-3.8 1.7-5.2 1.7 7.9 1.7-.1 1.7-.3 1.6 .8 1.7 3 1.7-.9 1.7-1.8 1.6 1.7 1.7-4.2 1.3-.1 1.7 2.5 1.6-.2 1.7-.1 1.7 2.5 1.7-4 1.7 1.9 1.6 .7 1.7 3 1.7-.1 1.7-1.6 1.7 .7 1.6 1.7 1.7-2 1.7 .2 1.7-3.7 1.7-1.5 1.6 1.2 1.7 3.1 1.7 .9 1.5-2.9 1.4 4 1.7 2.3 1.7-2 1.7 2.1 1.7-1.1 1.6-3.8 1.7 2 1.7 2.6 1.7-1 1.7-.2 1.6-.4 1.7 1.3 1.7 .5 1.7 1.5 1.6-1.7 1.7-.4 1.7 1.2 1.7 1.1 1.7 .2 1.6-1.1 1.7-.7 1.7-2.4 1.7 1.9 1.7 1.8 1.6 1.8 1.7-.3 1.7-.3 1.7-1.1 1.7-.4 1.6 .3 1.7 .9 1.7-.5 1.7 1.2 1.7-3 1.6 .6 1.7 2.7 1.7-1.4 1.7 .5 1.7-3.6 1.6 2.5 1.7 2.2 1.7 .1 1.7-.6 1.7 .9 1.6 .5 1.7 .3 1.7 0 1.7-.4 1.7-.1 1.6 .2 1.7 .2 1.7-1.9 1.7 .8 1.7-.9 1.6 .5 1.7-4.4 1.7 3.9 1.7-.6 1.6-.6 1.7-.4 1.3-3.6 1.7 5.4 1.6 0 1.7 .5 1.7-.7 1.7-2.1 1.7 2.2 1.6-.4 1.7 1.1 1.7-.2 1.7-2.9 1.2-1.7 1.7 2.4 1.7 2.7 1.7 .9 1.7-.6 1.6-1 1.7-.2 1.7-1.1 1.7-3.3 1.7 5.1 1.6-1.4 1.7 1.4 1.7-4.6 1.7 2 1.7-1.2 1.6 .3 1.6-.7 1.4 .5 1.7-.8 1.6 2.3 1.7 2.5 1.7 0 1.7-2.2 1.7 .9 1.6-.2 1.3 0 1.7 1.1 1.6-.6 1.7 1.8 1.7-.3 1.7-1.7 1.7 .4 1.6 .8 1.7 .6 1.7-1.3 1.7 1.8 1.7-1.8 1.6 3.1 1.7-2.4 1.7 .1 1.7 .6 1.7 .4 1.6-2.1 1.7 .5 1.7 1.4 1.7-1 1.7-1.5 1.6-.9 1.7-1.1 1.7 1.3 1.7-2.8 1.7-3.1 1.6-2.5 1.3 4.3 1.7 1.5 1.7 3.3 1.6 .9 1.7-.5 1.7 .8 1.7-.8 1.7 2.3 1.6 .7 1.7-1.4 1.7-.2 1.7-4.5 1.2-.5 1.7 1.3 1.7 3.6 1.7 .9 1.6-1.7 1.7 .8 1.7 .4 1.7-3.1 1.2 .3 1.7 2.2 1.7 .9 1.7-1.8 1.7-2.8 1.2 2.2 1.7-.9 1.7 1.3 1.7-2.8 1.6-2.2 1.7-.4 1.7 .4 1.3 .2 1.6 .9 1.7 3.1 1.7-.6 1.7 .8 1.7-2.8 1.6-1.2 1.3-.1 1.7-.8 1.7-1.7 1.2 2.9 1.7-.7 1.7-.1 1.5-1.8 1.4 1.8 1.7 0 1.4-.2 1.5-.7 1.7 1 1.7 2.2 1.7 1.7 1.6 .2 1.7 1.8 1.7-.4 1.7-1.5 1.7 1.6 1.6-2.8 1.7 1.4 1.7 .5 1.7 1 1.7-3.7 1.6-.3 1.4 .6 1.6 2.2 1.7-2 1.6-.4 1.7 2 1.3-.2 1.7-1 1.6 4 1.7-1.9 1.7-2.8 1.7 .9 1.7 .5 1.6 1.7 1.7-4.5 1.7-4.9 1.3 5.6 1.6 2.7 1.7 .3 1.7-1.3 1.7-1.2 1.2 .6 1.7 3.1 1.7-.7 1.7 1.6 1.7-4.1 1.6 1 1.3-3.4 1.7 5.6 1.7-.4 1.6-2.2 1.3 1.5 1.7 1.5 1.6-2.8 1.7-2.5 1.3-1.6 1.7 3.2 1.6 .1 1.7-1.9 1.3 1.3 1.7-.7 1.6 1 1.7 1.2 1.7 .9 1.7-.4 1.4-1.5 1.5-2.1 1.7 4.9 1.7-.2 1.7 1.3 1.6-3.5 1.7 1.7 1.7-3.6 1.7 2.4 1.2-2.1 1.7 1.8 1.7-1.3 1.7 2.9 1.7 .2 1.6-1.6 1.6-1 1.4 2.4 1.7 1.5 1.6-1.4 1.7 1.6 1.7-.9 1.7-2.1 1.7-1.4 1.6-1.2 1.3 1 1.7 4.8 1.7 0 1.6-.4 1.7-2.8 1.7-.6 1.2 .9 1.7-.3 1.7 .4 1.7 .5 1.7 1 1.6 2.2 1.7 1.3 1.7-2.1 1.7 1.7 1.7 .7 1.6-3.7 1.7-1.8 1.7 4.5 1.7 1 1.7-2.1 1.6 1.3 1.7-.6 1.7-4.3 1.7 .3 1.7 0 1.5 .4 1.4 .3 1.7-.7 1.7 3 1.6-.2 1.7-.7 1.7 1.3 1.7-.8 1.7 2.9 1.6-3.3 1.7 1.1 1.7-.6 1.7 .5 1.7-.1 1.6-.6 1.7-1.6 1.7-2.8 1.7 3.1 1.7 2.4 1.6-1.3 1.7-1 1.7-1 1.7 0 1.6-2 1.7-1.5 1.7-1.7 1.7 6.1 1.7 .4 1.6 .6 1.7 .3 1.7 .1 1.7 .6 1.7 0 1.6-.9 1.7 .8 1.7 1.1 1.7 .6 1.7-.9 1.6 2.7 1.7-2.2 1.7-1.1 1.7 1.1 1.7-.9 1.6 1.8 1.7-1.3 1.7 1.4 1.7-2.3 1.7 2.5 1.6-.5 1.7-.2 1.7-3.1 1.7-.7 1.7 1.6 1.6 .2 1.7 1.1 1.7 0 1.7 .5 1.7-1.6 1.6 .2 1.7 0 1.7 1.2 1.7-3 1.6-2.4 1.7 2.4 1.7 .9 1.7 1.7 1.7 1.5 1.6-1.6 1.7-2.1 1.7-.2 1.7 1.3 1.7 2.3 1.6-1.3 1.7-.9 1.7 2.4 1.7-1.4 1.7-1.1 1.6 1.8 1.7 0 1.7 .8 1.7-.9 1.7-1.1 1.6-1.2 1.7 1.9 1.7-3.5 1.7 2.6 1.7-1.1 1.6 .8 1.7 2 1.7-2.9 1.7 .3 1.7-1.7 1.2 0 1.7-.2 1.7 .3 1.7 1.3 1.6 .3 1.7 1 1.7-.9 1.7 2.2 1.6-.8 1.7-.5 1.7 1 1.7-2.3 1.7-.5 1.6-3 1.7 1 1.7 2.1 1.7 .5 1.7-.1 1.6-1 1.7 2 1.7-2.5 1.7-1.3 1.7 2 1.2 .9 1.7 .3 1.7-1.1 1.7-2.7 1.2 1.5 1.7-4.2 1.7 1.7 1.7 5.2 1.6 .9 1.7-1.2 1.7 1.6 1.7-.7 1.7 .3 1.6-.8 1.7 2.1 1.7-.6 1.7-.4 1.7-.8 1.6 .3 1.7 .9 1.7-.2 1.7-.4 1.7 .8 1.6-1.8 1.7 .2 1.7 2.6 1.7-.9 1.6-.2 1.7-2.8 1.7 .1 1.7-.1 1.7-.2 1.6-.9 1.7 3.9 1.7-.1 1.7 1 1.7-.3 1.6-.9 1.7 0 1.7-1.1 1.7 1 1.7-.4 1.6 .2 1.7 .4 1.7 .9 1.7 .1 1.7-.1 1.6-1.4 1.7 .5 1.7-.3 1.7-.5 1.7-.8 1.6-1.7 1.7-.3 1.7-1 1.7 1.4 1.7 1 1.6 0 1.7-1.3 1.7-2.3 1.7 3.9 1.7 1.7 1.6 0 1.7-2.7 1.7-3.3 1.7 3.9 1.6-.5 1.7-2.3 1.7 1 1.7 2.9 1.7 .2 1.6 .6 1.7-.5 1.7 1.3 1.7-1.9 1.7-2.8 1.6 .8 1.3 1.7 1.7 .3 1.7 .3 1.6 1.1 1.7 1.2 1.7-1.3 1.7 .5 1.7-1.9 1.6 2.1 1.7 .5 1.7-1.6 1.7 .9 1.7-.7 1.6 .4 1.7-1.7 1.7 .1 1.7 1.2 1.7 .2 1.6-.7 1.7 1.8 1.7-1.4 1.7-1.6 1.7 1.1 1.6 .5 1.7 1.3 1.7-.4 1.7-.5 1.7-2 1.6-2.1 1.7 2.9 1.7 .1 1.7-.4 1.6 .8 1.7-3.2 1.7-.2 1.7 1 1.7 1 1.6 1.6 1.7 .9 1.7-1.4 1.7 .2 1.7 0 1.6-1.7 1.7-2 1.7 3.6 1.7-1.1 1.7 1 1.6-.5 1.7-1.5 1.7 2 1.7 .6 1.7-.5 1.6 1.2 1.7-1.8 1.7 2.4 1.7-.9 1.7-.5 1.6 1.9 1.7-3 1.7 .4 1.7-1.2 1.7 2 1.6-1.1 1.7-3.1 1.7-.2 1.7 1.7 1.7 1.5 1.6 .1 1.7 2.4 1.7-2 1.7 0 1.6-1.1 1.7 1.6 1.7 .6 1.7-.1 1.7 .1 1.6 1.2 1.7-1.8 1.7 1.1 1.7-1.4 1.7 .8 1.6-1.1 1.7 1.6 1.7-2.9 1.7-1.7 1.7-1.2 1.2 2.9 1.7-.2 1.7-1.7 1.7 1.6 1.6 1.7 1.7-.9 1.7 2.8 1.7-.8 1.7-1.9 1.6 2.3 1.7-2.2 1.7 .3 1.7-.1 1.2-2 1.7-.4 1.7 3.2 1.7-1.5 1.7 1.5 1.6 .2 1.7 .8 1.7 .6 1.7 0 1.6-2.2 1.7 1 1.7 0 1.7 0 1.7-.3 1.6-.2 1.7 1.2 1.7-.6 1.7 1.7 1.7-1.2"/>
<path fill="none" stroke="#50da88" stroke-width="1.6" stroke-linejoin="round" d="M335.8 769.8 l.4-2.1 .4 .7 .4 2.2 .5-2.7 .4 .4 .4 .1 .4 1 .4-1.5 .5 .3 .4 2 .4-1 .4 2.3 .4 .7 .5-.4 .4 .4 .4-1.6 .4-1.2 .4 1.4 .5-.6 .4 .6 .4-1.8 .4 .7 .4 2.5 .5-2.2 .4 .9 .4 1.9 .4-2.8 .4-.1 .5 2.2 .4-.7 .4 .5 .4-2.2 .4 1.4 .5-1.4 .4 1.6 .4 1.4 .4-2.4 .4 .6 .5 2.4 .4 .2 .4-2.2 .4 1 .4-.7 .4-.2 .5 1.4 .4-2.6 .4 2.8 .4-3.3 .4 3.4 .5-.4 .4-1.1 .4 .6 .4-1.2 .4 1.6 .5-2.7 .4 2 .4 1.5 .4 0 .4-2.4 .5 .6 .4 3.5 .4-2.5 .4-1.1 .4 2.3 .5-1.4 .4 1 .4-1.4 .4-.2 .4-1.1 .5-.3 .4 2.8 .4-.7 .4 .7 .4 .6 .5-2.4 .4 2.8 .4-.2 .4-1.4 .4 .2 .5-2 .4 2.5 .4-1.9 .4 1.3 .4-1.4 .5 .2 .4 2.1 .4-.5 .4 1 .4 .6 .5 .4 .4-3.4 .4 1.8 .4 0 .4 .1 .5-.7 .4 .3 .4 1.4 .4-1.5 .4 .4 .5 .7 .4-2.7 .4 1.4 .4-1 .4 .2 .5-1 .4 .9 .4-.2 .4 1.3 .4-.1 .5 1.6 .4-1.4 .4 1.7 .4-1.7 .4 .9 .5-.7 .4 .7 .4-.8 .4 2.2 .4-.4 .5-2.9 .4 1 .4 2.6 .4-4 .4 .9 .5 1.7 .4-2.7 .4 2.7 .4-.4 .4 .9 .5-.9 .4 2.1 .4-2.2 .4 .6 .4-2.5 .5 2 .4-.3 .4 2.3 .4-.6 .4-3.3 .5-.6 .4 .6 .4 .6 .4 2.5 .4-.8 .5 .1 .4 .1 .4-2.2 .4 1.5 .4 2.3 .5-.5 .4-1.5 .4-1.6 .4 2.7 .4-1.7 .5 1 .4-1.6 .4 1 .4 0 .4 .6 .5-1.3 .4 2.7 .4-2.3 .4 1.9 .4 .2 .5 .1 .4-1.6 .4 .1 .4 1.6 .4-1.7 .5-.8 .4 3.3 .4-3.8 .4 3.8 .4-2.4 .5 .1 .4 2.7 .4-1.7 .4 .9 .4-1.4 .5 1.7 .4-1 .4-1.1 .4-1.2 .4 1 .5 .4 .4-.6 .4 .8 .4-.8 .4 1.4 .5 .2 .4 .7 .4 .1 .4-.2 .4-1 .5 .6 .4 1.8 .4-2.1 .4 1.4 .4 1 .5-.4 .4-1.2 .4-1.2 .4 .9 .4-.2 .4-.7 .5-.8 .4 .1 .4-1.4 .4 .6 .4-1.1 .5 2.4 .4 1.5 .4-3.1 .4-.2 .4 2.6 .5-1.3 .4 .4 .4-1.4 .4 .8 .4 2.1 .5 .1 .4 .9 .4 .9 .4-2.5 .4 1.3 .5-.4 .4-.2 .4-.4 .4 2 .4-1.2 .5-1.7 .4 2.4 .4 1 .4-.1 .4-1.1 .5-2.3 .4 3.1 .4 .6 .4-.6 .4-1.3 .5-.3 .4 1.2 .4-2.6 .4 2.7 .4-.9 .5-1.9 .4 2.6 .4-1.7 .4-1.1 .4 .3 .5 2.8 .4-2.6 .4 2.2 .4 .5 .4-2.8 .5 1.6 .4 1.4 .4-.8 .4 1.9 .4-1.8 .5 1.1 .4-1.9 .4 2.4 .4 .2 .4-1.1 .5-1.3 .4-.2 .4 1 .4-1.4 .4 1.4 .5-.6 .4-.5 .4 .2 .4 2.6 .4-2.7 .5 .1 .4-.4 .4-.1 .4 2 .4 2 .5 .1 .4-1.9 .4-.2 .4 1.7 .4-1.7 .5 0 .4 .1 .4-2.1 .4 3 .4-2.7 .5 1.4 .4 1.7 .4-1.4 .4-.8 .4 1.7 .5 .8 .4-.8 .4-2.4 .4 3.8 .4-3.5 .5 2.9 .4 .6 .4-2.9 .4 1.5 .4 .5 .5-2.5 .4 .5 .4-1.1 .4 .4 .4-.2 .5 .2 .4 1.7 .4-.1 .4 .8 .4-.5 .5 1 .4-2.8 .4 2.1 .4-1.9 .4 2.3 .5 1.5 .4-1.5 .4-.8 .4-.4 .4 .8 .5 1.6 .4 .2 .4-1.2 .4 .9 .4-.8 .5-2.1 .4 1.3 .4 1.1 .4-.1 .4-.2 .5-.7 .4-1.1 .4 3.4 .4-2.5 .4 2.9 .5-3.7 .4 3.9 .4-2.2 .4 2.2 .4-3.2 .5 1.9 .4-.7 .4 1.6 .4 .2 .4-1 .5 .8 .4 .5 .4-3.8 .4 1.9 .4 .1 .5 0 .4-1.3 .4 2.3 .4-2.3 .4 2.8 .4-1.2 .5-1.4 .4 3 .4-2.8 .4 2.5 .4-.5 .5 1.4 .4-.3 .4-1.7 .4-1.5 .4 .6 .5-.9 .4 2.6 .4-2.4 .4 .4 .4-.1 .5 .3 .4 .4 .4-2.9 .4-1.8 .4-2.7 0 1.3 .5 .3 .4 4.4 .4-1.5 .4 3.5 .4 1.1 .5-1.2 .4-2 .4 .5 .4-.1 .4-.1 .5-.5 .4 2.3 .4-1.4 .4 .8 .4-.6 .5-1.2 .4 2.9 .4-1.4 .4-.8 .4 2.5 .5-1.8 .4 2.1 .4 0 .4-1.5 .4 1 .5 1.3 .4 .1 .4-.5 .4-1 .4 .5 .5 1.5 .4-1.2 .4 .5 .4 0 .4-1.6 .5-1.1 .4 2.4 .4-1.2 .4 .6 .4-1.6 .5 .3 .4 .5 .4 .3 .4-2.4 .4 2.4 .5 0 .4-.6 .4 .2 .4-2.2 .4-.3 .5 1.4 .4-.6 .4 1 .4 1.8 .4-1.9 .5 2.4 .4-1.1 .4-1.2 .4 2 .4-.8 .5 .1 .4 .9 .4 2 .4-.5 .4-2.4 .5 2.4 .4-3.9 .4 .3 .4-.1 .4 2.3 .5-3.7 .4 2.8 .4-.5 .4-1.6 .4 2 .5 .5 .4-.6 .4-3.9 .4-.3 .4-7.1 .5-3.2 .2-3.1 .2-2 .4 5.4 .4 2.3 .4 .5 .5 2.8 .4 2.7 .4 .2 .4 4.8 .4-2.3 .5-.9 .4-1.3 .4 4.8 .4 2.7 .4-1.3 .5 2.1 .4-2.1 .4 .8 .4 0 .4 .5 .5 1 .4-1 .4-.9 .4 2.6 .4-.9 .5 0 .4-.8 .4-.6 .4 2.7 .4-1.2 .5 2 .4-3.9 .4 3.2 .4-3.2 .4 .1 .5-.6 .4 2.3 .4-.4 .4 .1 .4 2.8 .5-1.8 .4 1 .4 .1 .4-2.5 .4 .8 .5-2.4 .4 .7 .4 1.4 .4-.5 .4-1.2 .5 .5 .4 2.8 .4 0 .4 .3 .4-1.8 .5 1.9 .4-.6 .4-1.7 .4 .1 .4 1.9 .4 1.3 .5-1.5 .4-1.3 .4 2.2 .4-1.7 .4 1.8 .5-1.1 .4-1.7 .4 2.2 .4 .2 .4 1.9 .5-1 .4-1.9 .4 1.5 .4-1.6 .4 1.8 .5-.2 .4-.3 .4-2.5 .4 2.4 .4-.9 .5 .5 .4-2.9 .4 3.2 .4 .6 .4-.9 .5-.9 .4 2.8 .4-.8 .4-.8 .4 1.7 .5 .5 .4-2.8 .4 1.3 .4 .1 .4 1 .5-4.1 .4 2 .4 .7 .4-.1 .4 .8 .5-.5 .4 0 .4 .3 .4-1.7 .4 2.7 .5-1.3 .4-1.5 .4 3.6 .4-.5 .4-.4 .5-2.9 .4 3 .4-1.9 .4 2.2 .4-3 .5 .9 .4-1.1 .4-.5 .4 1.6 .4 1.1 .5-.8 .4-.6 .4 2.8 .4-1.6 .4 1.2 .5-2.4 .4-.4 .4 3.2 .4-3.5 .4 2.8 .5 .4 .4-.6 .4-.9 .4-1.8 .4 .1 .5 .2 .4 1.8 .4 .7 .4-1 .4 3.1 .5-.4 .4-2.3 .4 1.5 .4 1 .4-1.3 .5-.9 .4 2.1 .4-1.1 .4 1 .4 0 .5-2.4 .4 1.9 .4-1.3 .4 1.5 .4-1.5 .5 1.9 .4-1.8 .4 2.8 .4-2.9 .4 2.1 .5 .5 .4 .2 .4-1.4 .4 .2 .4-1.1 .5 2.2 .4 0 .4-1 .4 0 .4 1.4 .5-1.5 .4-1.9 .4-.2 .4 2.9 .4-1.2 .5 0 .4-1.4 .4-2.3 .4 1.9 .4-1 .5 1.7 .4 .2 .4-.9 .4 3.4 .4 .4 .5-3.8 .4-.1 .4 1.3 .4 2.2 .4-1.9 .5 1.9 .4-2.7 .4 .4 .4 .8 .4-.5 .5-1.6 .4 .2 .4 0 .4-1.9 .4-2.1 .5-.8 .4 2.2 .4-2.4 .4-.5 .4 .1 .5 3.3 .4 .6 .4-1.1 .4 .3 .4 1.7 .5 1.9 .4-.7 .4 1.6 .4 0 .4 .1 .5 .8 .4-1.3 .4-1.6 .4 2.8 .4 1.3 .4-1 .5-1.8 .4 2.5 .4 0 .4-.3 .4-1.1 .5 1.3 .4-2.9 .4 .9 .4 1.5 .4-.2 .5-.9 .4-.8 .4 .1 .4-1.7 .4-1.6 .5 2.1 .4-3.7 .4-5.3 .4-7.2 .4-5.3 .1 0 .4 5 .4 5.1 .4 5 .4 5.6 .4-1.7 .5 3.9 .4-2 .4 2 .4 .2 .4-.4 .5-2.2 .4 2.1 .4-.5 .4-.1 .4 1 .5 1 .4-1.3 .4 .4 .4-1 .4-.1 .5 1.8 .4 1.4 .4-3.7 .4 1.7 .4 0 .5 .5 .4-1.3 .4-.1 .4-.5 .4 2.1 .5-.2 .4-.1 .4-2.4 .4 0 .4-1.1 .5 1 .4-2.1 .4 .7 .4-1.4 .4-3.7 .5-5.5 .4-3.3 .2 .5 .2 1.3 .4 2.8 .4 6.3 .5 3.5 .4 .1 .4 1.5 .4 .8 .4-2.3 .5 0 .4 3.1 .4-2 .4-1.1 .4 2.3 .5-1.1 .4-1.4 .4 3.2 .4-1.5 .4 1.8 .5-2.8 .4-.6 .4 3.7 .4-1.9 .4 3.2 .5-2 .4 .8 .4-2.3 .4 .1 .4 1 .5 .4 .4-.6 .4-.1 .4 0 .4 1 .5-3.2 .4-.2 .4 .6 .4 1.6 .4-1.3 .5-1.4 .4-.6 .4-.1 .4-1.5 .4-.3 .5 2.3 .4 1 .4 1.1 .4-1.6 .4 2.3 .5-2.4 .4-.1 .4 .2 .4 1.4 .4-.4 .5-1.9 .4-.8 .4-1.8 .4-.6 .4-1.5 .5-1.4 .4-3.7 .4-3.2 .4-9.1 .4-19.1 .5-26.1 .4-22.7 .1 .5 .3 9.5 .4 26.2 .4 24.4 .5 11.9 .4 7.8 .4 2 .4 4.1 .4-.4 .5 1.6 .4-.5 .4-2.3 .4 .4 .4 .4 .5 1.9 .4-.4 .4-.6 .4 2.3 .4 .8 .5 2.4 .4-.8 .4-2 .4 3.5 .4-3.4 .5 .8 .4 2.2 .4-1.7 .4-.8 .4-1.9 .5-.5 .4-.8 .4 .5 .4-3.7 .4-6 .4-4.8 .3-2.2 .2 3.6 .4 1.7 .4 4.6 .4 5.3 .4 .9 .5 3.8 .4 .4 .4 .7 .4 0 .4-.6 .5-.1 .4 .8 .4-2.9 .4-.3 .4 1.4 .5-.6 .4-.6 .4-.8 .4 1.2 .4 2 .5-.7 .4 2.3 .4 .4 .4 .2 .4-.5 .5 1.1 .4-1.5 .4-.8 .4-.3 .4-.3 .5 1.6 .4 .3 .4-.3 .4-1.8 .4 1.8 .5-.5 .4-1.8 .4 .5 .4-2 .4 1.5 .5-3.4 .4 1.1 .4 2.3 .4-.1 .4-.1 .5 2.6 .4-.5 .4 1.4 .4-1.6 .4 .9 .5 .2 .4-2 .4 .2 .4 0 .4 .4 .5 2.8 .4-.7 .4 .1 .4 .6 .4-3.3 .5 2.7 .4-.8 .4-.5 .4 1.9 .4 .1 .5-.9 .4 .2 .4 .3 .4-2.1 .4 1.9 .5-1.8 .4 1.7 .4-.9 .4 0 .4 1.5 .5-1.3 .4-1.8 .4 1.2 .4-.5 .4 2.3 .5-3.6 .4 1.3 .4-.3 .4-2.3 .4 2 .5-1.2 .4-1.9 .4 .7 .4-4.7 .4 1.5 .5-1.1 .4 .9 .4 0 .4 1.6 .4 .8 .5-3.1 .4 1.5 .4 .6 .4-2.7 .4-1.2 .5 1.8 .4-3.7 .4 2.4 .4 .2 .4-1.1 .5-4.7 .4-1.5 .4-15.6 .4-21.5 .4-25.5 .4-14.9 .1 1.4 .4 20.4 .4 25.8 .4 18.5 .4 12.1 .5 2.3 .4 6.8 .4 .6 .4 1.3 .4-1.5 .5 4.3 .4-1.6 .4 0 .4 1.3 .4-.8 .5 2.5 .4 .3 .4-2 .4-.6 .4 .7 .5 2.6 .4-2.7 .4 .7 .4-1.3 .4 .5 .5 .6 .4-2.3 .4 .2 .4 3.6 .4 .5 .5-1.4 .4-1.3 .4 .9 .4 1.9 .4-1.2 .5-2.4 .4 2.1 .4-1.7 .4 .7 .4-.8 .5-1.4 .4 .2 .4-1.7 .4-.6 .4-4.9 .5-2.9 .4-13.2 .4-18.9 .4-16.3 .1 1.9 .3 7.3 .4 15.7 .5 16.3 .4 8.4 .4 4.3 .4 3.6 .4 1.2 .5-1.7 .4-1.5 .4 .2 .4 1.9 .4 .2 .5 1.2 .4 .5 .4 .7 .4 .1 .4-1.2 .5 3.3 .4-1.9 .4 .6 .4-1.1 .4 1.2 .5-2.1 .4 2.4 .4 .6 .4-3.4 .4 .9 .5-1.9 .4 2.6 .4-2 .4-5 .4-.8 .5-5.3 .2-4.1 .2 2.4 .4-.3 .4 3.4 .4-3.5 .4-2 .1 1.2 .4 5.1 .4 2.4 .4 6 .4-.5 .5 .3 .4 1.3 .4-.1 .4 .8 .4 1.1 .5 1 .4-.4 .4 .1 .4 1.1 .4-2.8 .5 3.1 .4-3.3 .4-.2 .4 1.7 .4-.1 .5 0 .4 1.4 .4-3.7 .4 .3 .4-.5 .5 .7 .4-1.6 .4 .3 .4-1.8 .4-2.1 .5 2.4 .4-1.5 .4-.3 .4 .6 .4 3 .5-1 .4-3 .4-1.8 .4-3.9 .4-14 .5-14.1 .3-5.6 .1 .7 .4 10.1 .4 15.2 .4 11.2 .5 4.9 .4 2 .4-.9 .4 1.7 .4-2.1 .5 3.4 .4-1.9 .4 1.3 .4-1 .4 1.2 .5-.2 .4 .4 .4-1.3 .4-1.4 .4 1 .5 .2 .4-3.3 .4-1.1 .4-7.5 .4-6.5 .3-1.7 .2 3.9 .4 3.1 .4 7.7 .4 3.6 .4 3.6 .5-3 .4 4 .4-2.2 .4 1.2 .4-1.8 .5 2.1 .4-1.5 .4-.3 .4 .2 .4 .4 .5 2.8 .4-1.5 .4-.4 .4 2 .4-1.4 .5 .1 .4-2.1 .4-.7 .4-.6 .4 .1 .5-.8 .4-.3 .4-2.3 .4-1.9 .4-3.8 .5-4.1 .4-8.8 .4-20.3 .4-28.9 .4-34.1 .3-11 .2 2.7 .4 34.4 .4 31.2 .4 22.5 .4 13.8 .5 5.6 .4 .8 .4 1.5 .4 3.5 .4 .2 .5 2.5 .4-2.3 .4 2 .4-1.1 .4 3.7 .5-.5 .4-1.3 .4 .3 .4 .9 .4-.2 .4-3 .5 1.4 .4 1.7 .4-1.6 .4 .4 .4 2.1 .5-1.9 .4 .5 .4-1.1 .4-.5 .4 3.4 .5-.4 .4-2.6 .4 3.5 .4 0 .4-2.3 .5 2.4 .4-3.1 .4 .5 .4 2.3 .4-1.4 .5-1.2 .4-1.4 .4-1.7 .4-1.8 .4 2.3 .5 1 .4-1.1 .4 2.6 .4-2.3 .4 .6 .5 3.1 .4-1.9 .4-1.1 .4 1.4 .4-1.1 .5-.4 .4 3.4 .4-4.5 .4 1.7 .4-2.1 .5-2.6 .4-.5 .4-7.1 .4-13.5 .4-14.8 .5-9.3 0-.7 .4 7.3 .4 16.4 .4 12.1 .4 7 .5 5.6 .4 1.5 .4-1.2 .4 1.5 .4-2.8 .5 1.9 .4 .2 .4-4 .4-3 .4-5.8 .5-5.4 .1 3.3 .3-.1 .4 6.7 .4 2.6 .4 5.1 .5 1.3 .4 2.8 .4-2.7 .4 3.9 .4-2.6 .5 2.3 .4 .1 .4-.2 .4-1.1 .4 .5 .5 .5 .4-1.1 .4-1.3 .4 2.8 .4-.6 .5-1.7 .4-.3 .4 2.6 .4-1.8 .4-.9 .5 3.3 .4-2.5 .4 .6 .4-.5 .4-.4 .5-1.3 .4-.5 .4 .3 .4-2.8 .4 1.2 .5-6.4 .4-7.7 .4-12.6 .4-12 .2 1 .2 .2 .5 14.5 .4 11.9 .4 4.3 .4 5.9 .4 3.2 .5-1.3 .4 3.2 .4-.7 .4-.1 .4 2 .5-3 .4 3 .4-2.9 .4 1.2 .4-1.8 .5 .6 .4-1.3 .4 1.2 .4-1.9 .4-6.5 .4-1.8 .1 2.9 .4 3.5 .4 3 .4 1.6 .4-.1 .5 .4 .4-2 .4 3.8 .4-2.2 .4-.7 .5-1.4 .4 .7 .4 1.1 .4 1.8 .4-1.4 .5-.5 .4-1.6 .4-.4 .4-5.8 .4-6.2 .5-9.4 .4-9.9 .1 2.2 .3 1 .4 11 .4 11.1 .5 2.4 .4 3.1 .4 1.3 .4-.2 .4-.8 .5 .9 .4 1.1 .4-2.1 .4 .9 .4-3.5 .5-3.5 .4-6.1 .4-13.8 .4-2.1 0-3.3 .4 9.4 .4 8.7 .5 9.2 .4 2.7 .4 2.6 .4 .5 .4 .1 .5 1.5 .4-1.4 .4 1.4 .4 2.3 .4-.9 .5-1.8 .4-1.6 .4 0 .4 3.8 .4-1.7 .5 .3 .4 .1 .4-.5 .4 .5 .4-1.4 .5-.8 .4-1.2 .4-1.2 .4-5.6 .4-11.2 .5-10.6 .2 .6 .2-.8 .4 11.5 .4 7.6 .4 7.4 .5 2.2 .4 .2 .4 .5 .4 1.9 .4 .5 .5-.2 .4 .8 .4 .4 .4-1.6 .4 2.1 .5 .5 .4-1.7 .4 1.1 .4-1.3 .4-.7 .5 .9 .4 1 .4-1.1 .4 .8 .4 .9 .5-.1 .4 .8 .4-.6 .4-1.2 .4-.1 .5 .7 .4 .2 .4-.8 .4 0 .4 2.1 .5-.8 .4 .3 .4-2.7 .4 1.6 .4-.7 .5-.6 .4-1.9 .4 3 .4-4.1 .4 4.1 .5-1.6 .4 2.4 .4-3.1 .4-.2 .4 1.4 .5 .7 .4-.3 .4-2.3 .4 0 .4-4.2 .5-7.1 .4-9.2 .4-6.4 .1 2.3 .3 1.1 .4 10.5 .5 6.3 .4 7.8 .4 2 .4-2.1 .4 .7 .5 2.7 .4-2.3 .4-1 .4 1.8 .4-1.6 .5-.6 .4 2.5 .4 1.1 .4-3 .4 3 .5-.8 .4 .6 .4-2.9 .4-1 .4-.1 .5-2 .4 0 .4-3.4 .4-2 .4-9.4 .5-9.9 .2 .9 .2-1.7 .4 7.6 .4 10 .4 6.7 .5 2.2 .4 2 .4-.5 .4 2.7 .4-.8 .5-1.1 .4 3.2 .4-3.4 .4 1.5 .4 .8 .5 1.6 .4-2.6 .4-.4 .4 1.6 .4 1 .5-1.4 .4 .8 .4 .9 .4-.6 .4 1.3 .5-2.6 .4 2.6 .4-3.5 .4-.1 .4 .2 .5-5.1 .4-3.6 .4-5.4 .1 .1 .3-.7 .4 6.2 .5 4.4 .4 1.5 .4 2.3 .4 1.1 .4 1.5 .5-1.6 .4-.9 .4 1.4 .4-.1 .4 .3 .5 1 .4-.4 .4 1.6 .4-1.1 .4 .8 .4-3 .5 1.9 .4-3.9 .4 1.3 .4-2.4 .4 .4 .5 2.8 .4-.3 .4 0 .4-.7 .4 2.9 .5-1.2 .4-2.6 .4 1.2 .4-.2 .4-2.3 .5 .1 .4 2.4 .4 1.7 .4-1.8 .4-1 .5 1.6 .4 1.5 .4 .1 .4 .4 .4 0 .5-.5 .4-2.4 .4 2.9 .4 1.4 .4-1.6 .5-.8 .4 2.1 .4-.6 .4-.5 .4-2.3 .5 1.4 .4 0 .4 1.4 .4 1.1 .4-1.2 .5 .1 .4-.1 .4 .4 .4-.1 .4-1.4 .5 .4 .4 1.5 .4-1.4 .4-.7 .4-.7 .5-.1 .4-.2 .4 3.1 .4-1.1 .4 .5 .5 .2 .4-.9 .4-1.8 .4 1.4 .4-.1 .5-1.8 .4 1.9 .4 1.4 .4-.9 .4-3.4 .5 1.8 .4-4.1 .4-1.1 .4-.7 .4-1 .5-2.9 .4-.8 .4-2.8 .4 .5 .4-1.2 .5-2.4 .4-3.1 .2 .5 .2-.4 .4 4.1 .4-.9 .5-.6 .4 2.7 .4-.4 .4 2.8 .4 1 .5 2.9 .4 2.5 .4 .3 .4 .4 .4 2.5 .5 1.5 .4-.5 .4 2.7 .4-.6 .4-1.7 .5 2.7 .4 .3 .4-1.1 .4-.3 .4-.4 .5-1.3 .4 .2 .4 2.9 .4-1.2 .4 .3 .5 .8 .4 1 .4-.9 .4-.5 .4 .1 .5-1 .4 2.5 .4-.6 .4-1.9 .4 3 .5 1.2 .4-.8 .4-1.3 .4 .1 .4 1.4 .5-.6 .4-2 .4 1.9 .4 .3 .4-1.4 .5 .2 .4 .4 .4-1.2 .4 2.4 .4-2.8 .5 1.7 .4-1.7 .4-.6 .4 2.2 .4 .5 .5-2.6 .4 2.3 .4-2.9 .4 .7 .4-.1 .5 .6 .4-2.2 .4-1.8 .4 .2 .4-1 .5 2.6 .4 .5 .4-.1 .4 .5 .4 1.7 .5-.2 .4-1.7 .4 .3 .4-2.8 .4 3.1 .5-.2 .4-1.2 .4-.6 .4-4.3 .4-.2 .4 1.4 .5 1 .4 2.2 .4 .9 .4 .7 .4-.4 .5-3.5 .4 1.8 .4-1.1 .4-.2 .4 2.3 .5 1.9 .4-.8 .4-.8 .4 .5 .4 1.6 .5 .6 .4-1.4 .4-.9 .4 1.7 .4-.3 .5 0 .4-2.1 .4-1.2 .4-1.7 .4 .4 .5 2.3 .4 .4 .4-1 .4 .4 .4-.5 .5 2.3 .4-1.6 .4 1.6 .4 2.2 .4 .5 .5-.9 .4 .5 .4-.4 .4 1 .4-3.1 .5 1.8 .4-.9 .4-.3 .4 2.6 .4-.2 .5-2.3 .4 1.3 .4 .7 .4-.2 .4-1.1 .5-1.2 .4 2.6 .4-.2 .4-.8 .4-1.5 .5 0 .4 2.7 .4 .6 .4 .4 .4-1.9 .5 .9 .4-.2 .4 .5 .4 .6 .4-2.6 .5 1.2 .4 1.2 .4-.2 .4-2.9 .4 .5 .5 .1 .4 0 .4-.4 .4 2.5 .4-1.9 .5 .5 .4-1.4 .4-2.5 .4 1.1 .4-1.1 .5 1 .4 2.4 .4-.6 .4 .7 .4-.9 .5-1.4 .4 1.5 .4-1 .4 3.5 .4-.1 .5-1.5 .4 1.7 .4-2.4 .4 2.3 .4-2.7 .5 1.3 .4-.8 .4 .3 .4 .8 .4-1.9 .5 1.5 .4 .8 .4-1 .4-3.9 .4-1.6 .5 .9 .4 2.3 .4 .6 .4 1.7 .4-.3 .5-.8 .4 0 .4 1.5 .4 .2 .4 .3 .5-2.8 .4-.1 .4-.6 .4 .7 .4 1.1 .5 1.1 .4 .4 .4-.7 .4-.8 .4-.3 .5-1.7 .4 3 .4-1.8 .4 1.6 .4 .1 .5-.2 .4 1 .4-2 .4 1 .4-1.3 .5 1.5 .4 .2 .4 .7 .4-2.8 .4 1.6 .5 .6 .4-2.3 .4-1.1 .4 2.6 .4-1.7 .5 .5 .4 1.4 .4 1.6 .4-.7 .4-.7 .5-.9 .4 2.8 .4-1.7 .4-.3 .4 1.4 .5-1 .4-1.3 .4 .4 .4 2.6 .4-.5 .4-2.7 .5 .6 .4-.2 .4 1.2 .4 1.6 .4-1 .5-1.8 .4 3.4 .4-3.3 .4 1.4 .4 .5 .5-.1 .4-1.3 .4 .6 .4 .7 .4-2.1 .5 2.9 .4-2.5 .4 .8 .4 0 .4 1.5 .5-1.7 .4 1.9 .4-2.1 .4 1 .4 .3 .5-2.7 .4 2 .4-2.1 .4 .7 .4 1.1 .5-.6 .4 3 .4-2.8 .4 0 .4 1.2 .5-.5 .4 2.9 .4-.2 .4-1.4 .4 .8 .5-1.8 .4 .3 .4-.7 .4 1.8 .4-.6 .5-3.2 .4 .3 .4 .9 .4 .2 .4-.9 .5-.2 .4-1.3 .4 .9 .4 2.9 .4-1 .5-.4 .4 0 .4-.3 .4-.1 .4 2.8 .5-2.4 .4 .7 .4-1.8 .4 2 .4-2.8 .5 .2 .4-1.3 .4-.4 .4 .3 .4 1.3 .5 .4 .4-2.8 .4 .5 .4 .2 .4 2.8 .5 2.4 .4-1.2 .4-2 .4 2.4 .4-1.6 .5-.5 .4 2.7 .4-3.1 .4-.1 .4 2.9 .5-.3 .4-1.9 .4-.1 .4-.6 .4 1.6 .5-.3 .4-1.2 .4 .5 .4 2.2 .4-2.2 .5 .3 .4-.5 .4 2.3 .4 .1 .4-1 .5-1.8 .4 .5 .4 .1 .4-.2 .4 .2 .5-.1 .4 .9 .4-2.5 .4-.5 .4 1.7 .5-2.4 .4 1.1 .4 .1 .4 0 .4 1.6 .5-3.1 .4-1.3 .4-.5 .4 2.3 .4-3.3 .5-2.6 .4-.2 .4-.9 .4 1.9 .4-2.5 .5 1.4 .4 0 0-1.9 .4 3.4 .4-2.4 .4 3.6 .5-1.5 .4 1.6 .4 2.6 .4 1.3 .4-1.3 .5 1.3 .4 1.2 .4 .4 .4 .9 .4-1.2 .5 2.3 .4-1.8 .4 1.2 .4 .8 .4-1.7 .5 1.9 .4 .4 .4-2.3 .4 2.2 .4 .1 .5 1.6 .4-.3 .4-2.2 .4 1.3 .4-1.1 .4-.3 .5 0 .4-.7 .4 .9 .4 0 .4-1.6 .5-.3 .4 .9 .4-.1 .4-.4 .4-1 .5 .2 .4 1.6 .4-.6 .4 .5 .4 2.4 .5-2.9 .4 2.5 .4-.1 .4-3.1 .4 1.6 .5-1.7 .4 .4 .4 0 .4 1 .4-2 .5 2 .4-.5 .4 1.8 .4-.1 .4-.1 .5 .1 .4-2.1 .4-2.4 .4 2.8 .4-3.9 .5 2.4 .4-.8 .4-1.5 .4 1.3 .4 1.2 .5-.1 .4 1.7 .4-2.7 .4 2.3 .4-1.2 .5 .2 .4 1.2 .4 0 .4-3.2 .4 1.7 .5-3.4 .4 2.3 .4-3.3 .4-1.3 .4 .3 .5-4.1 .4 1.2 .4-2.4 .4-2.1 .4-4.1 .5-1.8 .2 2.1 .2-.4 .4-.2 .4-.1 .4-.6 .5-1.8 .4 4.4 .4 2 .4-3 .4-.1 .5 .2 .4 2.1 .4-.8 .4-2.6 .4 1 .5-1.9 .4 .7 .4-1.7 .1-1.2 .3-1 .4 .1 .5 4.6 .4 3.2 .4 1.2 .4 5.3 .4-1.2 .5 5 .4-1.4 .4 3.7 .4-.8 .4-.3 .5 1.1 .4 1.8 .4 .2 .4 .1 .4-1.2 .5 1.9 .4-2.7 .4 1 .4 3.2 .4-1.2 .5 1.1 .4-.4 .4-1.6 .4 .7 .4 1.9 .5-1.5 .4 1.4 .4 .1 .4-1.8 .4 .9 .5-1.2 .4 1 .4-2.1 .4 2.2 .4-1.8 .5 1.2 .4 .3 .4 .9 .4-1.6 .4-.6 .5 .1 .4 4.3 .4-2.6 .4 2.2 .4-1.6 .5-.1 .4 1.8 .4-1.6 .4-2.2 .4 2.4 .5-3.4 .4 2.1 .4 .9 .4-1.7 .4 1.2 .5-3.5 .4 .7 .4 1.7 .4-.7 .4-2.2 .5-1.7 .4-1.5 .4 2.6 .4-2.7 .4 1.9 .5-.4 .4 .9 .4-1.3 .4 2 .4 1.5 .5-1.2 .4 1.2 .4-.9 .4 3 .4-.4 .5-2.3 .4 3.6 .4-.2 .4-.8 .4 .8 .4 0 .5-.3 .4 .6 .4-3.5 .4 .4 .4 2.2 .5 .2 .4-2.4 .4 1.4 .4-.3 .4 2.5 .5-1.8 .4 1.3 .4-.1 .4-1.5 .4 2.9 .5-1.2 .4-2.6 .4 .1 .4-.7 .4 2.9 .5-3.2 .4 3.1 .4-2.7 .4 1.4 .4-1.2 .5 1.7 .4-.4 .4 .7 .4-2.2 .4-1.1 .5 1.3 .4-2.9 .4 1.9 .4-3.4 .4 2.9 .5-.5 .4-.6 .4-1.2 .4-2.5 .4 .8 .5 3.4 .4-2.4 .4 2.3 .4 .2 .4 2.5 .5 1 .4-1.9 .4-.2 .4 1.2 .4 1.4 .5-.9 .4-.5 .4-.8 .4 3.1 .4 1.1 .5-2.3 .4 2.7 .4-3 .4 1.3 .4 .2 .5 2.1 .4-2.5 .4 1.9 .4-2.6 .4-.2 .5-.4 .4 .6 .4-.7 .4 2.9 .4-3.9 .5 3.9 .4-1.2 .4-2.1 .4 1.2 .4 .6 .5 .3 .4-.6 .4-.7 .4 .3 .4 1.3 .5 .2 .4 1.3 .4-3.3 .4 .6 .4 .7 .5 .6 .4-2 .4 .1 .4 2.6 .4-4.2 .5 .6 .4 .8 .4 1.7 .4-1.6 .4 .9 .5 1 .4-.8 .4-.5 .4 2.3 .4-1.8 .5-1.8 .4 2.9 .4 .1 .4-2.3 .4 1.2 .5-2.2 .4 .7 .4 2.8 .4-2.3 .4 .1 .5-.6 .4-.2 .4-.4 .4-.4 .4 3 .5-1.2 .4-2.5 .4 .3 .4 3.3 .4-.8 .5-2.7 .4 3.3 .4-.9 .4-.3 .4-1.2 .5-.3 .4 .9 .4-.9 .4 .6 .4 .2 .5-1.4 .4-1.8 .4 1.6 .4-2.5 .4 1.4 .5-2.7 .4 .2 .4 2.5 .4-1.7 .4 4.7 .5-2 .4 2.9 .4-1.3 .4 1.1 .4-1.2 .5 1.9 .4-1.5 .4 1.9 .4-.9 .4-1.3 .5 4 .4-3.4 .4-.7 .4 3.3 .4-.3 .5-3.5 .4 .8 .4 1.2 .4-1.8 .4 1.4 .4 2.5 .5-1 .4-.4 .4-1.5 .4 1.6 .4 1.3 .5-.3 .4-1 .4-.3 .4 .2 .4-2.6 .5 0 .4 2.2 .4-.5 .4 1.6 .4-2.2 .5 1.4 .4-.3 .4 .6 .4-2.5 .4 1.4 .5 1.4 .4-3.9 .4 1.3 .4 .2 .4-.1 .5 1.2 .4-1 .4 .8 .4-.9 .4-.7 .5 2.1 .4-1.6 .4-.7 .4 .3 .4 1.9 .5 .2 .4-1.4 .4-2.4 .4 .6 .4 1.1 .5-3.5 .4-.8 .4-.8 .4-.7 .4-2.1 .5 .3 .3-1 .1 1.5 .4-.8 .4 .6 .4 1.4 .5 1.5 .4 .6 .4 1.5 .4-.9 .4 .4 .5 1.4 .4 .9 .4 2.9 .4-3.5 .4 3.4 .5-2.6 .4 1.4 .4 1.2 .4 0 .4-2 .5 2.4 .4-2.9 .4 1.2 .4 2.5 .4-.7 .5-1.3 .4-.4 .4 .7 .4 .1 .4 2.2 .5-2.7 .4 2 .4 .1 .4-2.2 .4 2.2 .5 .6 .4-2.3 .4-.1 .4 .4 .4 .7 .5 .1 .4-.2 .4 1.3 .4-2.4 .4 2.3 .5-2.4 .4-1.8 .4 .5 .4 .7 .4 .5 .5-3.6 .4 1.2 .4-4.8 .4 5.6 .4-1.4 .5 1.9 .4 1.1 .4-1.8 .4 1 .4-.8 .5 3.3 .4-1.3 .4 .7 .4-.8 .4 1.7 .5-1.3 .4-.3 .4 1.5 .4-.6 .4-.8 .5-1.6 .4 4.1 .4-3.6 .4 1.2 .4 1.2 .5-2.7 .4 .5 .4-.7 .4-.6 .4 1.5 .5-1.7 .4-1.7 .4 2 .4-2.3 .4 2.2 .5 1.2 .4 1.1 .4-.5 .4 1.1 .4 1.3 .5-.7 .4-.7 .4-.8 .4 .9 .4 .4 .5 1.6 .4-1.6 .4 .4 .4-.5 .4-.7 .5 2.6 .4-4.3 .4 .9 .4-.7 .4 0 .5-.8 .4 1 .4 2.4 .4-1 .4-1.7 .5 2.9 .4-.1 .4 .5 .4-2.6 .4 2.5 .4-3.4 .5 .9 .4-.4 .4-1.1 .4-.5 .4 .2 .5-.7 .4 .5 .4 .3 .4 1.6 .4 2.1 .5-.9 .4-.6 .4 1.4 .4 .5 .4 .2 .5-3.6 .4 .1 .4-.3 .4 3.4 .4-.5 .5-1.1 .4 .4 .4-.6 .4 1.8 .4-.2 .5-.8 .4-1.5 .4 1.6 .4-2.3 .4 2.6 .5-1 .4 .8 .4-1.3 .4 1 .4 1.7 .5-3.1 .4 0 .4 .2 .4 0 .4 2.8 .5-2.6 .4 1.6 .4 .4 .4-1 .4 .9 .5-2.3 .4-.5 .4 1.1 .4-.9 .4 2.1 .5-1.1 .4 1.1 .4-.5 .4-.4 .4-.5 .5 2.4 .4-3.5 .4 2 .4 1 .4-.6 .5-2.1 .4 3.2 .4-1.5 .4-1.6 .4-.7 .5 2.5 .4 .7 .4 1.3 .4-2.2 .4 .8 .5-2 .4 3 .4-1.5 .4 .7 .4-2.9 .5 .1 .4 1.5 .4 .1 .4 .6 .4 0 .5-1.5 .4 1 .4-2.4 .4 1.9 .4 .1 .5 .8 .4-.9 .4-1.9 .4 2.5 .4 .2 .5-.7 .4 1.4 .4-.3 .4-1.3 .4 .2 .5-.8 .4 1.5 .4-2.4 .4 2.2 .4 1.5 .5-1.4 .4-.2 .4-.4 .4-1 .4 .8 .5 2.6 .4-1.5 .4-1.8 .4 1.6 .4 .5 .5-1.3 .4 .4 .4-2.1 .4 0 .4 2 .5-.9 .4 .3 .4 2.4 .4-3.6 .4-.6 .5 .8 .4 1.9 .4-2.6 .4 .4 .4 .8 .5-1.1 .4 1 .4 .2 .4-1.5 .4-.2 .5 2.1 .4-2.4 .4 .7 .4 .3 .4-3.9 .5-.5 .4-.1 .4-1.3 .4 1.1 .4-3.4 .5-1.9 .4-.5 .4 0 .4-3.3 .4 0 .2-.7 .3 3.5 .4-.6 .4-.1 .4 .8 .4 2 .5 2 .4 3.3 .4-2.2 .4 4.2 .4 .8 .4-1.9 .5-.1 .4 1.1 .4-.4 .4 3 .4 .1 .5-.9 .4 2.9 .4-.3 .4-1.2 .4 .1 .5 1.1 .4-1.9 .4-.1 .4-1.5 .4-1.5 .5 1 .4-1.3 .4-3.8 .4 .8 .4 1.4 .5 1.7 .4 .6 .4 .4 .4 3.5 .4-2.3 .5 .7 .4 1 .4-2.4 .4 .5 .4 3 .5-1.7 .4-.6 .4 2.6 .4-1.9 .4-.7 .5-.3 .4 1.2 .4-1.2 .4 .3 .4 2 .5-.4 .4-1.4 .4-.3 .4 .3 .4-1 .5 0 .4 1.7 .4-1.5 .4 .5 .4 1.3 .5 .3 .4-3 .4 2.8 .4 .8 .4-3.5 .5-.2 .4 2.7 .4-.9 .4-2.6 .4 2.5 .5-2.7 .4 1.2 .4-.5 .4-5.2 .4 2 .5-1.9 .4-3.3 .4-1.7 .4-2.3 .4-1.7 .5-3.1 .4 1.7 .3-2.9 .1 2.9 .4 1.3 .4 .4 .5 2.8 .4-.7 .4 3.9 .4-.7 .4 4.8 .5 2.4 .4 .3 .4-1.4 .4 4 .4 .1 .5-2 .4 .5 .4-.9 .4 1.8 .4-1.5 .5-1.8 .4 3.9 .4-.3 .4 1.7 .4-2 .5-.3 .4 .3 .4 2.1 .4 1.3 .4-2.3 .5 1.7 .4-.2 .4-.3 .4-.8 .4 .3 .5 1 .4-2.9 .4 1.7 .4-2 .4-1.7 .5-.3 .4 0 .4-.8 .4-1.1 .4 4.5 .5-3 .4 .3 .4 1.3 .4 .1 .4 .4 .5-.5 .4-4.1 .4 1.4 .4-3.7 .4 1.4 .5-4.3 .4 1 .2 .5 .2-3.4 .4 3.3 .4 1.9 .5-.5 .4 .4 .4 3.2 .4-1 .4-1.2 .5 3 .4 .6 .4-1.9 .4-.8 .4-.6 .5 1.6 .4 1.7 .4-2 .4 .2 .4 2.7 .5 1.3 .4-1.1 .4-.9 .4 4.1 .4-.7 .5 .4 .4 1.6 .4-2.1 .4 2.3 .4-1.1 .5 .1 .4-1.8 .4-.1 .4-.4 .4 2.8 .4-1 .5-.2 .4 1 .4-2.6 .4 3.2 .4-1.6 .5 .5 .4-1.1 .4 1.3 .4 2.4 .4-1 .5 1.4 .4-2.4 .4 .6 .4 1 .4-2.5 .5 3.1 .4-1.1 .4-1.1 .4 1.9 .4 .2 .5-.3 .4-.4 .4-1.3 .4 .2 .4 1.5 .5-.3 .4-1.8 .4-.2 .4 1.6 .4-1.4 .5 1.6 .4-3.9 .4 2.6 .4-.1 .4-.6 .5 .7 .4-1.5 .4-.7"/>
<path fill="none" stroke="#00d05a" stroke-width="4.0" stroke-linejoin="round" d="M335.8 769.8 l1.7-1.9 1.6 0 1.7 3.6 1.7-.9 1.7 .2 1.7-.8 1.6-.1 1.7-.2 1.7 3 1.7 .8 1.6-2.1 1.7-1.7 1.7 2.5 1.7-.3 1.7-.3 1.6 2.2 1.7-2 1.7 .7 1.7 1.7 1.7-3.4 1.6 .5 1.7 2.8 1.7-.6 1.7-.3 1.7 1 1.6-2.1 1.7 1 1.7 1.8 1.7-.8 1.7-1.9 1.6 .5 1.7 1.3 1.7-.1 1.7-.2 1.7-2.2 1.6 2.9 1.7-.5 1.7-1.3 1.7 .4 1.7 .3 1.6 2.5 1.7 .2 1.7-3 1.7 4.2 1.7-.5 1.6-2.3 1.7-.2 1.7 2.4 1.7 1.2 1.7-.1 1.6-1.7 1.7-2.8 1.7 3.4 1.7-2 1.6 1.9 1.7-.6 1.7 .3 1.7 1.5 1.7-2.5 1.6 1.8 1.7 1 1.7-1.9 1.7-.6 1.7 1.5 1.6 .7 1.7 1.8 1.7-1.6 1.7-1.1 1.7 .2 1.6 3.5 1.7-.3 1.7-3.7 1.7 3.4 1.7 .3 1.6-2.9 1.7 2.1 1.7-2.6 1.7 2.1 1.7 1.2 1.6-.3 1.7-1.2 1.7 1.4 1.7-.7 1.7 .1 1.6 2.7 1.7 .2 1.7-.4 1.7 .5 1.7-1.8 1.6 1.5 1.7-2.4 1.7 3.1 1.7-3.5 1.6 .5 1.7-1.2 1.3 .6 1.7 1.8 1.6-1.7 1.7 1.2 1.7-.3 1.7 2 1.7 .8 1.6-.9 1.7 .8 1.7-1.5 1.7-.2 1.7 .3 1.6-2.9 1.7 3.6 1.7-1.8 1.7 2.2 1.7 1.5 1.6-1.4 1.7-3 1.7-2 1.5-.9 1.4-6.3 1.7 10.2 1.7 .3 1.7 1.4 1.7 2.3 1.6-.2 1.7 1.3 1.7 .1 1.7-1.4 1.7 .7 1.6-.6 1.7-.8 1.7 2.1 1.7-.2 1.6 1.6 1.7-2.3 1.7 1.2 1.7-.8 1.7 1.5 1.6-1.3 1.7 1.4 1.7 .2 1.7-1.4 1.7-1.7 1.6 3.4 1.7-1.9 1.7 3.5 1.7-.8 1.7-1.8 1.6 1.1 1.7-.2 1.7 1.6 1.7-.9 1.7-2.4 1.6 4.6 1.7-.2 1.7-1.2 1.7 .5 1.7 .6 1.6 .2 1.7-.5 1.7 .1 1.7-2 1.7 1.5 1.6-2.8 1.7 4.4 1.7-2.2 1.7-.5 1.7-.9 1.6-3.8 1.7-1.5 1.7 2.9 1.7 3.2 1.7 2.5 1.6 1.2 1.7-.3 1.7-3 1.7 1.3 1.6-4 1.7-.2 1.3-.4 1.7 4.1 1.6-.2 1.7-.7 1.7 1.1 1.7 2.1 1.7-1.5 1.6 .2 1.7-2.7 1.7-1.5 1.7-3.1 1.2 2.7 1.7 3.3 1.7-1.2 1.7-1.3 1.7 .7 1.6 4.4 1.7-3.4 1.7 .7 1.7-2.4 1.7-.5 1.6-2.5 1.7 2.8 1.7 0 1.7-1.7 1.7-3.4 1.6-3.2 1.3 3.6 1.7 0 1.7 1.4 1.6-2 1.7 3.2 1.7 .4 1.7 3.1 1.7-4.9 1.6-2.4 1.3-.7 1.7 6 1.6 .5 1.7-2.5 1.7-.6 1.7 4.8 1.7 1.2 1.6-2.9 1.7-.2 1.7 0 1.7-2.8 1.7 4.7 1.6 .2 1.7-1.6 1.7 2.6 1.7-.8 1.7 .6 1.6 .3 1.7-1 1.7-.4 1.7-.5 1.7-1.8 1.6-4.4 1.7 1.4 1.7-.2 1.7-5.8 1.7 2.1 1.6 2.2 1.3-1.5 1.7 4.6 1.7 2.4 1.6-1.1 1.7 .2 1.7 1.3 1.7-2.5 1.7 2.9 1.6 .3 1.7-1.3 1.7-3.2 1.7 1.2 1.2 .1 1.7-1.8 1.7-1.3 1.7 3.5 1.6 .1 1.7 .9 1.7 2.1 1.7-1.8 1.7 .1 1.2-1 1.3-1 1.7-.8 1.6 3.1 1.7 1.8 1.7-3.2 1.7 3 1.7-3.2 1.6-5.2 1.7 1.2 1.7 1.4 1.6-1.6 1.3 4.6 1.7 .1 1.7 .7 1.7 .4 1.7-1.5 1.6-1.4 1.3 1.9 1.7 2.3 1.7-.7 1.6-1.2 1.7 2.9 1.7-4.1 1.7-.9 1.7-3.8 1.6 .8 1.3-1.5 1.7 2.9 1.7 4.4 1.6 2.3 1.7-.6 1.7-.1 1.7-1 1.6 2.3 1.7 .5 1.7-2.5 1.7-1.7 1.7-.2 1.6-.2 1.7 1.5 1.7-2.6 1.7 .7 1.7-1.2 1.2-.9 1.7 1.2 1.7 .8 1.7-5.5 1.2 2.5 1.7 3.8 1.7 3.7 1.7-.3 1.6-.2 1.7-1.2 1.7 .5 1.7-2.7 1.7-2 1.4 1.8 1.5-2.8 1.7 5.9 1.7-1.8 1.6-.5 1.7 1 1.3 .2 1.7 .4 1.6-1.1 1.7 2.2 1.7-2.4 1.7-2.8 1.2 3.7 1.7-1.8 1.7-.9 1.7 2.3 1.2 .2 1.7-1 1.7 .4 1.7 1 1.6 .5 1.7 .4 1.7-1 1.5 .4 1.4-1.1 1.7 .8 1.7 1.5 1.7-.7 1.7 0 1.6 1.6 1.7-1.1 1.7 0 1.7 1.6 1.7-2.4 1.6 1.1 1.7-2.5 1.7-.5 1.7-1.7 1.2 2.6 1.7 .1 1.7 .1 1.7 2.1 1.7 .3 1.6-3.4 1.7 .1 1.3-2.2 1.7 1.6 1.6 2.9 1.7 .2 1.7-.6 1.7 2 1.7-1 1.6 .2 1.4-.8 1.6-2.8 1.7 3.3 1.6 .7 1.7 1.1 1.7-4.2 1.7 2.1 1.6 1.9 1.7-2.8 1.7 1.9 1.7 .3 1.7 0 1.6 .3 1.7 .2 1.7 .5 1.7-.1 1.7-.7 1.6-1.3 1.7 1.7 1.7-2 1.7 1.4 1.7-1.1 1.6-3.2 1.7 1.1 1.5-1.9 1.5-2 1.6-1 1.7 2.3 1.7 6.2 1.7 .7 1.7-3.1 1.6 2.2 1.7 .4 1.7 1 1.7 1.5 1.7-.4 1.6-1.2 1.7 1.8 1.7-3.4 1.7 2.4 1.7-1.7 1.6-4.8 1.7 3.5 1.7 .1 1.7-1.1 1.6-3.7 1.7 4.8 1.7-3.2 1.7 3.2 1.7 1.9 1.6-.9 1.7-5 1.7 2.1 1.7 .6 1.7 3.4 1.6-2 1.7 3.2 1.7-.5 1.7 .1 1.7-2.5 1.6 1.8 1.7 1.8 1.7-.4 1.7-2.3 1.7 .7 1.6-3.9 1.7 3.5 1.7-1.8 1.7 3.6 1.7-1.5 1.6-1.6 1.7-2.6 1.7 2.2 1.7 .6 1.7-.8 1.6 1.1 1.7 0 1.7-.8 1.7 2.5 1.7-.8 1.6-.3 1.7-.2 1.7 1.8 1.7 .5 1.7-1.6 1.6 1.2 1.7-1.1 1.7 2.2 1.7-1.5 1.6-2.1 1.7 1.2 1.7-.4 1.7 .6 1.7-.9 1.6 1.4 1.7 .8 1.7-1.4 1.7-1.7 1.7 0 1.6 1.5 1.7-.8 1.7-.7 1.7-1.9 1.7 1.6 1.6 .7 1.7 1.6 1.7-2.5 1.7 .6 1.7 .6 1.6-.7 1.7 2.2 1.7-2.2 1.7 .8 1.7-3.7 1.6 2.8 1.7-2.1 1.7-3.1 1.7 3.9 1.2 .8 1.7-.2 1.7 .2 1.7 .2 1.7 2.2 1.6 .4 1.7 .4 1.7-2.1 1.7-1 1.6-.6 1.7 1.7 1.7 1.9 1.7-2.8 1.7 1 1.6 1.1 1.7-1.6 1.7-3.8 1.7 4.1 1.7-1.4 1.6 0 1.7-1.8 1.7 2.4 1.5-1.2 1.4-4.6 1.7-3 1.7 3.4 1.7 2.8 1.2-5 1.7 6.7 1.7 .6 1.7 .1 1.7 1 1.6 .3 1.7-.2 1.7 1.9 1.7-1.1 1.7-.5 1.6-1 1.7 4 1.7-1.5 1.7-1.1 1.7-3.1 1.6-.5 1.7-3.3 1.7 1.1 1.7 3.5 1.7-.6 1.6 3.4 1.7-3.2 1.7 .4 1.7 1.8 1.6 2.6 1.7-4.4 1.7 .1 1.7 1.5 1.7-1.3 1.6-1.5 1.7-4.8 1.7 4.1 1.7 1.8 1.7 1.5 1.6 2.9 1.7-1.3 1.7 1.7 1.7-2.6 1.7 2.2 1.6-1.5 1.7-.7 1.7-.5 1.7-.1 1.7-.9 1.6 1.8 1.7 2 1.7-.6 1.7-2.6 1.7 0 1.6 2 1.7-.1 1.7-1.1 1.7-.9 1.7-1.5 1.6-1.3 1.7-1.7 1.7 4.3 1.7 .3 1.7 3.7 1.6-1.1 1.7-3.3 1.7 2.5 1.7 1.1 1.6-3.7 1.7 3.3 1.7-.5 1.7-3.6 1.7 2.6 1.6-1.8 1.7 .1 1.7-1.7 1.7-.1 1.7 0 1.2-.5 1.7 1.2 1.7 .6 1.7 .2 1.6 .6 1.7 3.2 1.7-1.7 1.7 1.6 1.7 .7 1.6-1.3 1.7-1.2 1.7-1.4 1.7-1.2 1.7 1.3 1.6-.5 1.7 1.9 1.7 1.6 1.7 1.1 1.7-3.9 1.6 .7 1.7-3.7 1.7 4 1.7 1 1.7 2.1 1.6-2.4 1.7-1.5 1.7 2.6 1.7 .1 1.6-3 1.7-1.1 1.7 .3 1.7 2.2 1.7-1.5 1.6 2.7 1.7 .5 1.7-.9 1.7 .1 1.7-1.7 1.6 3 1.7-1.6 1.7-.8 1.7 1.2 1.7 1 1.6-1.1 1.7-2 1.7 3.8 1.7-.4 1.7-3.6 1.6 2.2 1.7-1 1.7-1.9 1.7 3.4 1.7-2.2 1.6 2.8 1.7-3 1.7 .1 1.7 1.2 1.7-1 1.6-1.5 1.7 .5 1.7 .9 1.7-2 1.7-2.8 1.6 .9 1.7 0 1.3 2.1 1.7-1.2 1.6 1.7 1.7-1.8 1.7 5.1 1.7-.3 1.6-5 1.7-3.3 1.7 4.1 1.7 2.9 1.7-.6 1.6-.6 1.7 0 1.7-.1 1.7 1 1.7 .6 1.6-2.9 1.7-1 1.7 1.4 1.7-3.5 1.7-2.2 1.2 3.5 1.7 .1 1.7 1.5 1.7-.6 1.6-.1 1.7 3.5 1.7 .1 1.7 .5 1.7 .2 1.6-4.9 1.7-2.2 1.7 3.1 1.7-2.1 1.7-1.8 1.2 1.4 1.7 1.5 1.7-.5 1.7-1.7 1.6 2.6 1.7 3.4 1.7-.8 1.7-.5 1.6 1.3 1.7 1.4 1.7-.9 1.7 .4 1.7 2.2 1.6-.1 1.7-1.8 1.7-.8 1.7-2.1 1.7 2.6"/>
<path fill="none" stroke="#5650b2" stroke-width="1.5" stroke-linejoin="round" d="M335.8 654.9 l.4 1.2 .4 1.3 .4-1.8 .5 1.5 .4-2.4 .4 1.2 .4 .4 .4 1.3 .5-.3 .4-1.2 .4 .9 .4 1.1 .4-.8 .5 .8 .4 .1 .4-1.4 .4 .5 .4-1.2 .5 .9 .4 .9 .4-.7 .4-.7 .4-.6 .5 .2 .4 0 .4 .2 .4 .6 .4-.5 .5 2.3 .4-1.5 .4 .4 .4 0 .4-1.6 .5 .2 .4 .1 .4 2.6 .4-2.6 .4 1.4 .5 1.6 .4-.7 .4-1.8 .4 2.6 .4-1.7 .4-.8 .5 .5 .4 .6 .4-1.6 .4 1.8 .4 .1 .5-1.1 .4 .7 .4-.8 .4-.2 .4 1.9 .5-.6 .4 1.4 .4-2.1 .4 1 .4 .9 .5-1.7 .4 .8 .4 1.2 .4-.9 .4 .3 .5 .5 .4-.5 .4 1.2 .4 .5 .4-.2 .5-1.5 .4-.6 .4 1.5 .4-.2 .4 .3 .5 .3 .4 .5 .4 0 .4-1.9 .4 2.1 .5-.9 .4-1.1 .4 1.2 .4-.3 .4 .2 .5-.1 .4-1.1 .4 .9 .4 .5 .4-1.2 .5 2.1 .4-1.3 .4 .4 .4 1.3 .4-.6 .5-1.9 .4 .5 .4 .8 .4-1.4 .4 2 .5-1 .4-.5 .4 2 .4-.5 .4-1.5 .5 1.4 .4 .6 .4-2 .4 1.8 .4-1.2 .5 .7 .4-1.2 .4 1.5 .4 1.7 .4-1.9 .5-.5 .4 2.5 .4 .4 .4-1.1 .4 1.3 .5-.3 .4-.6 .4 .4 .4-2.1 .4 1.8 .5-1.3 .4-.5 .4 1.3 .4 .9 .4-1.3 .5-1 .4 .9 .4 .1 .4 1.1 .4 1 .5-1.9 .4-.9 .4 1.6 .4-1.7 .4-.1 .5 1.8 .4-.6 .4 .4 .4-.6 .4 1.6 .5 .2 .4 1 .4-3 .4 1.5 .4 .1 .5 .4 .4 .6 .4-1 .4 .6 .4 .2 .5 1.1 .4 .5 .4-1.7 .4 1 .4-.2 .5-.8 .4 1.2 .4-.4 .4-.7 .4 .5 .5 1.2 .4-.9 .4 .1 .4-.5 .4 1.1 .5 .4 .4-1.8 .4 .1 .4 .9 .4-.8 .5-.8 .4 .6 .4 1.5 .4-.7 .4 .5 .5-.1 .4-.2 .4 1.2 .4-.3 .4 .3 .5-.8 .4 .2 .4 0 .4 .7 .4-1.7 .5 .1 .4-.9 .4 .3 .4 2.8 .4-1.1 .5-.9 .4-.1 .4 1 .4 .5 .4 .3 .5-.8 .4-.8 .4 1.2 .4-1.6 .4 .4 .4-.2 .5 1.7 .4-.3 .4 0 .4-.6 .4 1.6 .5-1.5 .4 1.9 .4-2 .4 1.1 .4 .3 .5-1.7 .4 .1 .4 1.9 .4-1.9 .4 .9 .5-.8 .4 2.8 .4-.1 .4-2 .4 1.9 .5-.4 .4-1.9 .4 .5 .4 1.1 .4 .1 .5-1.2 .4-.7 .4 1 .4 1.1 .4-.6 .5-1 .4 .3 .4 1.4 .4-.7 .4 1 .5-1.7 .4 1.4 .4 .7 .4 .4 .4-1.6 .5 1.6 .4-1 .4-.4 .4-.6 .4 2 .5 .7 .4-.8 .4-.9 .4 .6 .4 .5 .5 1.3 .4-1.9 .4-.2 .4 .3 .4-1.3 .5 .2 .4 1.5 .4 .3 .4-1.6 .4 .5 .5 1.7 .4-.7 .4-.5 .4 1.9 .4-.2 .5-.9 .4-.7 .4 2.2 .4 .1 .4-.4 .5 .8 .4-2.5 .4 2.1 .4 .4 .4-1.2 .5-.7 .4 2.2 .4-.5 .4-1.6 .4 .9 .5-.9 .4 .2 .4 1.1 .4 .5 .4 .1 .5-.7 .4 .3 .4-2 .4 1.5 .4 .8 .5-.3 .4-.2 .4 .8 .4-1.2 .4-.2 .5 .9 .4 .1 .4-1.7 .4 .7 .4 1.1 .5-1.7 .4 .1 .4 1 .4-.5 .4 .7 .5 1.1 .4-.4 .4-1.9 .4 2.8 .4-2.1 .5-1.1 .4 .9 .4 1 .4-.9 .4-4.1 .5 1.4 .4 3.8 .4 .7 .4 .6 .4-.2 .5 .3 .4 .1 .4-2.5 .4 .4 .4-.1 .5 .1 .4 3.2 .4 .4 .4-1.4 .4-1.3 .5 .4 .4 2.5 .4-.1 .4-1 .4 .5 .5-.3 .4 .2 .4 .9 .4-1.7 .4-1.4 .5 .3 .4 1.9 .4-1.8 .4 .1 .4 2.5 .5 .3 .4-2.5 .4 .5 .4 2.2 .4-.4 .5-.7 .4-.4 .4 1.4 .4-.8 .4 1.5 .4-.7 .5-.4 .4-1.5 .4 1.6 .4-2 .4-.4 .5 2.2 .4-.8 .4 0 .4 .3 .4 .6 .5 .1 .4-2.4 .4 .2 .4-.6 .4 2.5 .5-2.1 .4-2.3 .4-3.4 .4-7.2 .4-2.2 0-.2 .5 5.4 .4 3.6 .4 5.7 .4-1.3 .4 .4 .5 .2 .4 1.9 .4-3.4 .4 .3 .4-1.1 .5-.6 .4 1 .4 3 .4-1 .4 .3 .5 1.8 .4 .4 .4-.2 .4 .2 .4 1.5 .5 1.1 .4-.6 .4-1.6 .4 .4 .4 .5 .5-2.5 .4 .1 .4-1.5 .4 .3 .4-1.3 .5 .3 .4-1.7 .4 2.1 .4 1.8 .4 .8 .5 .6 .4 2.3 .4-1.7 .4 1.4 .4 .4 .5-2.3 .4-.4 .4 2 .4-3.1 .4-.3 .5-.9 .4-2 .4 2.2 .4-.2 .4 2.1 .5 1.7 .4 .8 .4-1.2 .4 1.5 .4 .8 .5-2.2 .4 1.3 .4-.7 .4-1 .4 1.5 .5-1.6 .4 1.7 .4-1 .4 1.2 .4-1.5 .5 1.1 .4-1.8 .4 .4 .4 .7 .4 .4 .5-1 .4-1.1 .4 2.1 .4 .3 .4 .4 .5-1.1 .4 0 .4-2.7 .4-1.2 .4-3.1 .5-6.3 .4-5.8 .1 .2 .3 2.4 .4 4.8 .4 4.9 .5 2 .4 1.6 .4 .8 .4-.6 .4 3 .5-1.6 .4 .7 .4 1.3 .4 .8 .4 1.1 .5-2.3 .4-.6 .4 1.6 .4-.3 .4 .4 .5-1.9 .4 1.8 .4-2 .4 .3 .4 .4 .5-.1 .4 0 .4 2.1 .4 1 .4-1.4 .5-1.1 .4 .4 .4-.8 .4 1.5 .4-.8 .5-.5 .4 .9 .4-2.4 .4 1.3 .4-.3 .5 1.9 .4-1.2 .4 2 .4-1.4 .4 1.1 .5-1.3 .4 1.7 .4-.5 .4-.7 .4 1.7 .5-2 .4 1.6 .4 .2 .4-.8 .4 0 .5 .8 .4-.9 .4-1.9 .4-.1 .4 2.7 .4-1.1 .5 .7 .4-.7 .4-.2 .4 .8 .4-.8 .5-.6 .4 .5 .4-.9 .4 2.5 .4-.8 .5-.7 .4-1.2 .4 .9 .4 1.2 .4-.3 .5-.7 .4-.2 .4-.7 .4-.3 .4 1.1 .5 .8 .4-1.3 .4 .9 .4-.3 .4-.8 .5 1.4 .4 .4 .4-.9 .4-1.5 .4-1.7 .5 .1 .4 .5 .4-.3 .4-2 .4-.3 .5 2.4 .4-.7 .4 1.7 .4 1.4 .4 .1 .5-1.2 .4 .7 .4 .1 .4 1.3 .4-.9 .5 1.8 .4-1.9 .4 .9 .4 1.8 .4-.1 .5-1.9 .4-.5 .4-.8 .4 1.8 .4-2.9 .5 1.7 .4-2.2 .4 3.7 .4 0 .4-.5 .5 .1 .4 1.2 .4 .7 .4-2.2 .4 1.1 .5-.1 .4-1.2 .4 0 .4-.3 .4-.3 .5 1.1 .4 1.6 .4 .6 .4-1.7 .4 1.1 .5 .5 .4-1.7 .4 1.3 .4 1.1 .4-1.2 .5 .4 .4-2.4 .4 .8 .4-.4 .4 1.2 .5-2 .4 1.7 .4-.7 .4 .2 .4 1.2 .5-.5 .4-.3 .4-.8 .4 .1 .4-.4 .5 .3 .4 1.6 .4-.8 .4 1.9 .4-2.6 .5 1.5 .4-1 .4 1.9 .4-1.4 .4 .8 .5 .2 .4 .4 .4-.7 .4-.6 .4-.5 .5 1.4 .4-1.3 .4 1.6 .4-.8 .4-.5 .5-1 .4 .5 .4-.4 .4 1.7 .4 .3 .5-.1 .4-.7 .4 1.3 .4-2.1 .4 .5 .5 .3 .4-1.2 .4 1.6 .4-1.2 .4 .2 .5 1.1 .4 .6 .4-2.5 .4 1.4 .4 .1 .5 1.8 .4-1.6 .4-.9 .4 3.1 .4-1.3 .5 .3 .4 .2 .4-.9 .4 1.3 .4 0 .5-.5 .4-.2 .4-.7 .4 .8 .4-1.5 .5 .5 .4-1.3 .4 1.6 .4 .6 .4 .1 .5-.5 .4-.7 .4 .9 .4-1.4 .4 .1 .4 .4 .5 .8 .4 1.1 .4-.4 .4-1.1 .4-.4 .5-1.2 .4 .8 .4 1.1 .4 .1 .4-1.2 .5 .1 .4-.1 .4-.3 .4 .1 .4-1.3 .5-.6 .4-1.9 .4-3.6 .4-6.7 .4-6.7 .1 1.7 .4 1.8 .4 8.5 .4 3.2 .4 1.1 .4 2.1 .5 2.2 .4 0 .4 .1 .4-1.1 .4 .4 .5-1.7 .4 .5 .4-.3 .4 1.3 .4 .3 .5-.3 .4 1.8 .4 .6 .4-2.2 .4 1.9 .5-1.9 .4 1.9 .4-.5 .4-.2 .4-.3 .5 1.3 .4-.6 .4 .9 .4 .4 .4-2.5 .5 .2 .4 .9 .4-1.1 .4 0 .4 2 .5-.4 .4 0 .4-2.4 .4 .1 .4-2.1 .5-5.4 .4-4.8 .2 .1 .2 1.4 .4 3.8 .4 3.7 .5 2.9 .4 2 .4-2 .4 2.2 .4-.9 .5 1.8 .4-.7 .4 .2 .4-.1 .4-.5 .5-1.3 .4 .9 .4-1.3 .4 2.9 .4-.8 .5-1 .4 .4 .4 .4 .4 .8 .4-.9 .5 2.2 .4-2.1 .4 1.8 .4-1.3 .4-1.6 .5 .5 .4 .2 .4 2.1 .4-1.8 .4 .9 .5-1.2 .4 2 .4-1.2 .4 .1 .4 .7 .5-2.1 .4 .8 .4 .4 .4 0 .4 0 .5 1.2 .4-2.2 .4-.1 .4 1.8 .4-1 .5-1.5 .4 2.2 .4-.3 .4-1.6 .4-.4 .5 1.7 .4-2.2 .4-1.5 .4 1.7 .4-1.5 .5-1 .4 .4 .4-3.9 .4-2.4 .4-13.8 .5-19 .4-16.9 .1-2.2 .3 5.3 .4 23.9 .4 14.7 .5 7.5 .4 4.2 .4 2.6 .4 1.6 .4-.1 .5 .6 .4 1.1 .4 .7 .4-1.3 .4-.8 .5 .5 .4 2.6 .4-.4 .4-.5 .4-.1 .5 1.1 .4 .3 .4-.3 .4-.7 .4 .3 .5-.6 .4 1.4 .4-.1 .4-1.1 .4-1.9 .5 .7 .4 0 .4-1.6 .4-.8 .4-5.4 .4-4.1 .3-1.7 .2 2 .4 3.4 .4 4.2 .4 4.6 .4-1 .5 1.4 .4-.8 .4-.3 .4 2.2 .4-1.5 .5 .3 .4-1.6 .4 .6 .4 1.1 .4 .4 .5 .3 .4 .7 .4-1.5 .4 1.6 .4-.1 .5-.2 .4 .3 .4 0 .4-.7 .4-1.7 .5 .2 .4 1.3 .4-.3 .4 1.2 .4-1.1 .5 .9 .4-.6 .4-1.7 .4 1.2 .4 .3 .5-1.1 .4 1 .4 .1 .4 .9 .4-.5 .5 .4 .4-.4 .4-2.5 .4 2.6 .4-1.6 .5 .8 .4-1.6 .4 .1 .4 .2 .4 1.1 .5-2 .4 .8 .4-.7 .4-1.1 .4-1 .5-.1 .4 2.2 .4-.8 .4-.7 .4 3.1 .5-1.2 .4 1.1 .4 .6 .4 .1 .4 .8 .5-1.1 .4 1.3 .4-2.6 .4 1.3 .4 .4 .5 .3 .4-1.2 .4 1.9 .4 .2 .4 .3 .5-2.1 .4 1.9 .4-1.9 .4-.5 .4 1.8 .5-2.1 .4 .7 .4-.2 .4 .5 .4 1.9 .5-2.1 .4 2.1 .4-1.1 .4-.1 .4-1.1 .5 1.5 .4-1 .4 .7 .4-2.3 .4 1.8 .5-.1 .4-2.1 .4-1.3 .4 1.9 .4-2.8 .5 .8 .4-.1 .4-4.2 .4-.6 .4-7.4 .5-11.1 .4-20.4 .4-21.7 .1-.7 .3 9.8 .4 21.8 .5 15.8 .4 5.4 .4-1.5 .4-8.4 .4-16 .5-16.8 .1-3.7 .3 6.4 .4 20.8 .4 15.6 .4 8.6 .5 5.4 .4-.4 .4 1.4 .4 2.8 .4-1.3 .5 2.9 .4-1.8 .4 0 .4 1 .4-.9 .5 1.2 .4 .6 .4 1.5 .4-.8 .4-1 .5 .1 .4 .3 .4-.4 .4 .5 .4 0 .5 1.8 .4 .6 .4-1.4 .4-.9 .4 1 .5-1.6 .4 1.1 .4-.7 .4 1.2 .4 .5 .5 0 .4-3 .4 .3 .4-.1 .4 1.4 .5-1.2 .4-2.7 .4-2.7 .4-4.1 .4-10.4 .4-11 .3-2.8 .2-.5 .4 13.2 .4 9.7 .4 6.2 .4 .9 .5 3.2 .4-1 .4 1.6 .4-.2 .4 2.3 .5-1.8 .4 1.1 .4 .4 .4-.2 .4-.6 .5 .6 .4 .6 .4-1.3 .4 2.7 .4-.1 .5-2 .4-.2 .4 1.2 .4-1.6 .4 2.7 .5-2.8 .4 .3 .4-1.3 .4-2.6 .4-5.3 .5-5.4 .2-1.7 .2-.3 .4 5.7 .4 7.7 .4 1.3 .5 2.1 .4 1.3 .4-1.9 .4 0 .4 1.9 .5-1.3 .4 .7 .4-.3 .4-.6 .4 .1 .5-1.9 .4-5.7 .4-2.8 .1 1.1 .3 1.7 .4 2.1 .5 4.6 .4-.3 .4-.4 .4 2.1 .4-.6 .5-1.3 .4 1.4 .4-.4 .4 .3 .4-.2 .5 1 .4-1.8 .4 1.2 .4-.2 .4 .2 .5 .1 .4-.9 .4-.7 .4-.7 .4-3.3 .5-3.5 .4-10 .4-18.2 .4-17.6 .2-3.1 .2 4.6 .5 20.2 .4 14.7 .4 8.8 .4 4.3 .4 3.2 .5-.6 .4 1.3 .4 1.5 .4-1.8 .4 1.9 .5 .4 .4-1.3 .4 2.6 .4-2.5 .4 .7 .5-.6 .4-1.4 .4-.9 .4-4.8 .4-6.4 .4-3.2 .1 1.7 .4 2.8 .4 4.3 .4 2.8 .4 2.5 .5-1.2 .4 .9 .4 .6 .4-2.2 .4 .7 .5 2.7 .4 .3 .4 .2 .4-1.6 .4-.3 .5-.4 .4 .4 .4-3.4 .4 .9 .4-1.5 .5-2.2 .4-7.1 .4-12.1 .4-17.9 .3-4.2 .1 2.4 .5 13.8 .4 15.4 .4 7.7 .4 6.2 .4-1 .5 2.8 .4-.3 .4-2.1 .4-1.2 .4-1.2 .5-3.4 .4-5.7 .4-15.3 .4-29.7 .4-35.4 .3-12.5 .2 4.2 .4 35.4 .4 33.5 .4 18 .4 8.1 .5 2.2 .4 4 .4-.9 .4 2 .4 1.8 .5 1.4 .4 .6 .4-1.4 .4-.2 .4 1 .5 1.3 .4 1.2 .4-.5 .4-1.2 .4 1.6 .4-1.5 .5 .5 .4 1.9 .4-2.7 .4 .4 .4 1.9 .5-.8 .4-.7 .4 .6 .4-1.2 .4 .1 .5-.5 .4 .6 .4 1.9 .4-1.3 .4 1.4 .5-1.2 .4 .1 .4-1.3 .4 1.7 .4-2.5 .5 1.6 .4-.2 .4-1.8 .4 1.5 .4-.1 .5 .6 .4-.8 .4 .9 .4-.6 .4-2.5 .5 .8 .4-1.7 .4-2.3 .4-.3 .4-2.2 .5 1.1 .4 3.1 .4-1.4 .4 .4 .4-7.1 .5-8.4 .4-14.4 .4-15.1 .1-.5 .3 7.7 .4 15.8 .5 13.6 .4 6.2 .4 4.4 .4-.4 .4 .3 .5 2.4 .4-1.2 .4 .7 .4 1.1 .4-.3 .5 1 .4 .5 .4 .3 .4-1.4 .4-.6 .5-.8 .4 .7 .4 .5 .4-.5 .4-2.1 .5-2.3 .4-1 .4-5.2 .2-1.6 .2 1.9 .4 3.3 .5 4.8 .4 2.1 .4 .6 .4 1.3 .4-1 .5 .1 .4 2.7 .4-.9 .4 .3 .4-1 .5-.2 .4-1.3 .4 1.2 .4-.1 .4 .7 .5-1.6 .4-.4 .4-.2 .4 1.7 .4-.7 .5 .4 .4-1.8 .4-.9 .4-3.6 .4-4.6 .5-7.8 .4-6.5 0 .9 .4 5 .4 8.3 .4 6.3 .5 .2 .4 1.6 .4 1.8 .4-1.5 .4 1.4 .5 .7 .4 .8 .4-.7 .4-1.7 .4-.6 .5 1.2 .4-2 .4 .1 .4-4.6 .4-4.2 .5-5.5 0 1.4 .4 3.9 .4 5.2 .4 4.2 .4 1.4 .5-.2 .4 .6 .4 .2 .4-1.3 .4 .2 .5 1 .4 .2 .4-.1 .4 1.4 .4-2.1 .5 1.3 .4-1 .4 1.1 .4-.5 .4-2.8 .5-1 .4-3.8 .4-7.3 .4-7.5 .2-.8 .2 3.9 .5 5.6 .4 6.4 .4 3.5 .4 .6 .4 2.5 .5-1.4 .4-.6 .4-1.4 .4 0 .4-.1 .5-2.8 .4 1.6 .4-.1 .4-4.4 .4-3.6 .5-6.5 .2-2.8 .2 1.1 .4 6.5 .4 8.2 .4 3.5 .4 1.7 .5-.5 .4 .4 .4-.1 .4-1.1 .4 .6 .5-2.3 .4-.6 .4-2.8 .4-8.2 .4-2.2 0 0 .5 4.2 .4 4.6 .4 2.3 .4 1.3 .4 1.5 .5 1.1 .4-1.3 .4 2.1 .4-1 .4-1.9 .5-3.2 .4-4.9 .4-8.4 .3-1.3 .1-.6 .4 7.8 .5 6.3 .4 4.2 .4 3.7 .4-.1 .4 2.6 .5-1.5 .4-.1 .4 .6 .4 .8 .4 0 .5-.2 .4 .1 .4-.7 .4 .8 .4-.7 .5 1.2 .4-1.4 .4-.2 .4-2.1 .4 .2 .5-1.5 .4-.7 .4-2.6 .4-1 .4-3.6 .2-1.5 .3 .5 .4 2.7 .4 3.6 .4 .9 .4 2.7 .5-.8 .4 .5 .4 1.7 .4-1.5 .4-.2 .5 2.8 .4-1.8 .4 1.8 .4 .9 .4-2.1 .5 .4 .4-.2 .4-1.5 .4 .3 .4 1.9 .5 .1 .4-2.6 .4 2 .4 .9 .4-1.5 .5 .3 .4-1 .4 .2 .4-.5 .4-1.2 .5-3.4 .4-5.2 .4-4.7 .1-.1 .3 5 .4 5.8 .5 2.9 .4 2.5 .4-.1 .4 1.3 .4 .6 .5 .7 .4-.5 .4 1 .4-2.1 .4 2.8 .5 0 .4-1.6 .4-.1 .4 .3 .4-.4 .5-.2 .4-1.5 .4-.9 .4 .1 .4-1.2 .5-7 .4-9.3 .4-11.2 .3-4.8 .1 .8 .4 8.7 .5 13 .4 5.9 .4 4.6 .4 0 .4 1.8 .5 1.6 .4-1.4 .4 2.6 .4-.6 .4 .7 .5-1.6 .4 2 .4-1.5 .4-.1 .4 .4 .5-1 .4-2.2 .4-.1 .4-2.2 .4 0 .5-.3 .4-.8 .4-.2 .4 .3 .4-4.7 .5-3.2 .4-4.8 0-.2 .4 3.6 .4 5.8 .4 5.3 .5 .5 .4 1.8 .4-.3 .4-.8 .4 2.3 .5-.1 .4-.4 .4-2.8 .4 1.3 .4-.2 .5 .4 .4-1.8 .4 1 .4-2.4 .4 0 .5 0 .4-1.1 .4-.6 .4-.5 .4-1.5 0 1.4 .4 .2 .5-.2 .4 2 .4 0 .4 .7 .4 2.5 .5-.4 .4 .4 .4 .9 .4 2.6 .4-1 .5-.6 .4 .9 .4 1.9 .4-.9 .4-1.7 .5 2.5 .4-2.4 .4 1.9 .4 .7 .4-2.3 .5-.3 .4 3.2 .4-.8 .4-.9 .4 1.9 .5-1.8 .4 .5 .4-.6 .4 .1 .4 .2 .5 1.6 .4-.6 .4-.4 .4-.6 .4 1.5 .5-.5 .4-1.5 .4 .8 .4-.9 .4 1.2 .5 .6 .4-1.9 .4 1.4 .4 0 .4-.5 .5-1.4 .4 1 .4-1.3 .4-.8 .4 .1 .5-2.6 .4 2.7 .4 0 .4-1.3 .4 0 .5 2.8 .4-2.4 .4 2.3 .4-2.5 .4 1 .5-1.4 .4-2 .4-1.6 .4 1.8 .4 1.6 .5 .7 .4-1.9 .4 1.6 .4-1.8 .4-1.4 .5-.6 .4-2.3 .4-1.4 .4-.3 .4-1.2 .1-1.4 .4 1.4 .4 .2 .4 2.1 .4 .8 .4 3.7 .5-.1 .4 2.2 .4-.5 .4 1.1 .4-.2 .5 2.7 .4-2.3 .4 .7 .4 .8 .4-.8 .5 1.5 .4-.6 .4-1.7 .4-.3 .4 2.2 .5-1 .4 .7 .4 .3 .4 .5 .4 .6 .5-.3 .4-.2 .4 .7 .4 .5 .4-1.6 .5 1 .4 0 .4-.8 .4 1.6 .4-.4 .5-1.7 .4 1.7 .4 0 .4-1.9 .4-1 .5 .3 .4-.4 .4-1.8 .4 1.5 .4 .1 .5-.5 .4 2.3 .4-2.9 .4 1.5 .4-1.1 .5-2 .4-.4 .4 1.8 .4-1.9 .4 3.3 .5 1.9 .4-1.6 .4-.6 .4 .8 .4 0 .5 2.7 .4-2.1 .4 1.7 .4 .9 .4-.6 .5 1 .4-2.2 .4 2 .4-1.6 .4 .5 .5-1.1 .4-.3 .4-.5 .4-1.4 .4-.4 .5-1 .4-1.8 .4 1.7 .4 .6 .4 1.4 .5 .9 .4 .3 .4-1.2 .4 1.4 .4 .5 .4 .8 .5-.3 .4-.9 .4 .1 .4 .5 .4 2 .5-2.1 .4 .1 .4 .2 .4-.4 .4 .3 .5-1 .4 2.2 .4-1.3 .4 1.7 .4-1.1 .5-1.3 .4 .1 .4 2.1 .4-2.1 .4-.2 .5-.2 .4 .2 .4 2.2 .4-.8 .4-1.6 .5 1.2 .4-.9 .4-.7 .4 0 .4-1.9 .5-.2 .4 .6 .4 .5 .4-2.1 .4 2.3 .5-1.4 .4 1.2 .4 1.4 .4-1.2 .4 2.4 .5-1.9 .4 1.2 .4-.1 .4 .5 .4 .2 .5 1.3 .4-2 .4 1.9 .4-1.2 .4-.1 .5 1.8 .4-1.3 .4-1.3 .4 1.1 .4-1.5 .5 2.6 .4-2.1 .4 2.3 .4-1.1 .4-.2 .5-1.4 .4 .5 .4 2 .4-2.5 .4 1.4 .5-1 .4-.9 .4-.5 .4 2 .4-.1 .5-3.2 .4-.5 .4-1.2 .4 .3 .4-2.6 .5-2.7 .4 .8 .4 .3 .4 2 .4 1.7 .5 2.7 .4-.4 .4 .7 .4 1.9 .4-.7 .5-.8 .4 1.8 .4-.6 .4 1.2 .4-2 .5 2.8 .4-.2 .4-1 .4 1.7 .4 0 .5-.2 .4-2.3 .4 1.6 .4-.5 .4 1.2 .5-1.5 .4-.3 .4-.7 .4 2.5 .4-.4 .5 .2 .4-.4 .4-.5 .4 .8 .4-1 .5 .6 .4-1.6 .4 .7 .4 2.6 .4-1.1 .5-.3 .4 .2 .4 1.1 .4-.6 .4 .7 .5-2.7 .4 .8 .4 .5 .4-1 .4-.9 .5 .5 .4 .2 .4-.6 .4 1.2 .4 .8 .5-.7 .4-.7 .4 .9 .4-2.3 .4 2.1 .5-2 .4 1.9 .4-2.8 .4-.2 .4 .5 .5 1.9 .4 .4 .4-2.1 .4 2.1 .4 0 .5 2 .4-.8 .4-1.5 .4 1.4 .4 .1 .5-.3 .4-1.7 .4-.4 .4 1.7 .4-.6 .5 .6 .4-.4 .4 .2 .4 .8 .4-.8 .4-2 .5 .5 .4 1.6 .4-1 .4 2.1 .4-2.8 .5 2.7 .4-.6 .4-.2 .4-1.4 .4 .7 .5 .8 .4-1.2 .4 1 .4-.5 .4 1.1 .5-1.1 .4-.9 .4 .8 .4 1 .4-.3 .5-1.2 .4-.2 .4 1.2 .4-1.5 .4 1.1 .5 1 .4-2 .4 2.4 .4 .2 .4-.6 .5 .2 .4-1.3 .4-1.1 .4 1.3 .4-.7 .5-.8 .4 1.3 .4-1.8 .4 1.3 .4-2.5 .5 .1 .4 1.1 .4-2.4 .4-.1 .4-1.6 .5 1.8 .4 .1 .4-.5 .4-1 .4 2.1 .5 .7 .4 .8 .4-1.5 .4 2.1 .4 .4 .5-.9 .4 1.2 .4-1.2 .4 1.3 .4 0 .5 .9 .4-2.8 .4 .8 .4-.3 .4-1.7 .5 1.6 .4-2.3 .4 1.2 .4 .1 .4 1.2 .5 .9 .4-.8 .4 .9 .4 2.1 .4-.7 .5 .1 .4-.7 .4-1.3 .4 0 .4-.1 .5 .2 .4 1.7 .4-2 .4 .2 .4-.7 .5 0 .4 2.5 .4-.2 .4-2.2 .4 .5 .5 1.4 .4-1.9 .4 .8 .4 1.6 .4-2.4 .5 1.9 .4-1.1 .4 1.1 .4 .5 .4-1.1 .5 .5 .4 .4 .4-2.4 .4 .6 .4-.2 .5 .5 .4 0 .4-.3 .4-.7 .4 0 .5 .4 .4-2.5 .4 1.7 .4-.1 .4-1.6 .5 1.3 .4 .6 .4-.6 .4-2.1 .4 1.9 .5-1 .4-2.6 .4-.1 .4 .1 .4-4.2 .5 0 .4-.7 0 .1 .4 1.2 .4 .6 .4-1.6 .5 .8 .4 .8 .4 1.6 .4 .6 .4 2.8 .5 .3 .4 2.1 .4 .1 .4 1.1 .4-1.6 .5 .5 .4 .2 .4 .1 .4-.2 .4 1.7 .5-.4 .4-1.5 .4-.2 .4 2.1 .4-.1 .5 .7 .4-.4 .4-1.7 .4-.6 .4 1.1 .4-.9 .5 1.2 .4-1.1 .4 1.9 .4 .8 .4-2.3 .5 .5 .4-.4 .4 2.1 .4-.4 .4-1.9 .5 1.5 .4 1.1 .4-.8 .4 .7 .4-2.2 .5 1.7 .4 .2 .4-2.5 .4 2.1 .4-.6 .5-1 .4-.8 .4 .8 .4 1 .4-2.2 .5 1 .4-2.3 .4-1 .4-.2 .4-.6 .5 .6 .4 1.7 .4-.1 .4 0 .4 .7 .5 2.3 .4-.8 .4 1 .4-1 .4 1.3 .5-2.5 .4 1.1 .4-.7 .4-1.1 .4 .2 .5 .5 .4-2.1 .4-3 .4-.5 .4 .4 .5-2.2 .4-1.6 .4-1.7 .4-2 .2-.5 .2 1.1 .5 2.4 .4-1.3 .4 3.8 .4 .5 .4 3.4 .5-.5 .4 1.9 .4 2.2 .4-.9 .4-.9 .5 .2 .4 1.7 .4-2.1 .4 1.6 .4-.4 .5-2.1 .4-2 .4-2 .4-.5 .4-.2 .5-2.3 .4-2.3 .4 1.5 .1-2.2 .3 2.5 .4-.6 .5 .6 .4 3.5 .4 1 .4 2.9 .4-1.5 .5 .5 .4 2.7 .4 .6 .4 1.2 .4 .9 .5 .3 .4 1.1 .4-.6 .4 .9 .4-2.8 .5 2.9 .4-.8 .4-1.1 .4 .2 .4 .3 .5-1.1 .4 1.8 .4-1.5 .4 .1 .4 1.6 .5-.7 .4 1.8 .4-1.2 .4-1.2 .4-.2 .5 2.3 .4-1 .4 .1 .4 .5 .4-2.7 .5 2.2 .4-1 .4-1.3 .4-2.6 .4-1.4 .5 .7 .4 1.6 .4 .8 .4 3.1 .4 0 .5-1.6 .4 1.2 .4 .2 .4 1.4 .4-2 .5 .6 .4 .1 .4-1.7 .4-2.5 .4 1.4 .5-.5 .4 .8 .4 2.2 .4-1.6 .4 .8 .5 2.5 .4-.7 .4-2.2 .4 1.8 .4-2.1 .5 .8 .4 1.7 .4-1.8 .4-.7 .4-.1 .5 1 .4 1 .4-.2 .4-1.6 .4 .9 .5-.6 .4-.5 .4 2.3 .4-.8 .4 .8 .4-1.4 .5-.9 .4 1.5 .4-1.7 .4 1.3 .4-1.1 .5-2.7 .4 0 .4-.7 .4-2.3 .4 2.5 .5-.6 .4 .7 .4 .3 .4 .8 .4 .6 .5 .6 .4 0 .4-1.8 .4 3 .4-.4 .5 .2 .4 1.7 .4-2.4 .4 1.7 .4 1.1 .5-.6 .4-.6 .4 2.1 .4-1.3 .4-1 .5 .4 .4 .5 .4-1.4 .4 1.4 .4-1.9 .5 1 .4 .7 .4-.1 .4-.1 .4-1.3 .5 1 .4 1 .4-.2 .4 .3 .4-.6 .5 .6 .4 0 .4 .6 .4 .1 .4-.8 .5-1.1 .4-.7 .4 1.5 .4-.9 .4 1.7 .5-.9 .4-1 .4 .7 .4 1.3 .4-.5 .5-.1 .4-1.9 .4 .8 .4-.4 .4-.5 .5 .3 .4 0 .4 .3 .4-1.7 .4-.4 .5-.4 .4-1.4 .4-.7 .4 2.7 .4 .4 .5 1.9 .4 .3 .4-1.3 .4 2.1 .4-1 .5-.6 .4 0 .4 .4 .4 1 .4 .3 .5-.7 .4-.1 .4-.9 .4 .6 .4-.1 .5-2.4 .4-.6 .4 2.2 .4-.7 .4 1.2 .5 1.4 .4 .5 .4-2 .4 0 .4 .8 .5-1.6 .4 2 .4-1.6 .4 .1 .4-.8 .5 .4 .4-.1 .4 1.4 .4-1.2 .4 2.7 .5 .1 .4-.4 .4-1.3 .4 1.2 .4-1.9 .5 .9 .4 .1 .4-.6 .4-.7 .4 1.8 .5-1.9 .4 .1 .4 1.6 .4-1.2 .4 0 .5-.6 .4-2.5 .4 2.4 .4-1.1 .4-.4 .5 1.7 .4-.2 .4-.2 .4 .3 .4-.2 .5 .9 .4 .2 .4-2.6 .4-1.5 .4-.9 .5-1 .4 1.4 .4 .9 .4 1.9 .4-1 .5 1.5 .4 2.2 .4-1.5 .4-.4 .4-.6 .5 .9 .4 .3 .4 .2 .4-.9 .4-.6 .5 .8 .4 1.1 .4 .2 .4-1.9 .4-.3 .4 2.6 .5-.6 .4 .4 .4-1.5 .4 1.5 .4 1.2 .5 .2 .4-.1 .4-.6 .4-2 .4 1.5 .5-.2 .4-.3 .4 0 .4-.7 .4 .1 .5 2.4 .4-2.5 .4 .5 .4 1.1 .4 .7 .5-1 .4 .5 .4-1.4 .4-.6 .4 .5 .5-1 .4 1 .4-1 .4 0 .4 .3 .5-.1 .4-1.5 .4-.8 .4 1.3 .4-2.2 .5-1.1 .4-1.4 .4 1.2 .4-.5 .4-1.4 .5 1.9 .4-2.1 .4 .1 .4 .7 .4-.2 .5-1 .3-.3 .1 1.6 .4-1.7 .4 2.2 .4 .6 .5 2 .4-.7 .4 0 .4 1.7 .4-1 .5 2.2 .4-1.6 .4 2.1 .4-1.2 .4 0 .5 2.4 .4-2 .4 2 .4 .6 .4-1.2 .5 .4 .4 .9 .4-2.6 .4 2.5 .4-.6 .5-.6 .4-.9 .4 2.8 .4-2.2 .4-.6 .5 1.6 .4-.6 .4 .5 .4 1.3 .4-.6 .5-1.8 .4 .9 .4 .5 .4-.3 .4-2 .5 2.4 .4-3.1 .4 1.1 .4 1.5 .4-2.3 .5 1.6 .4 .8 .4 .4 .4-2 .4-.9 .5-.3 .4 2.2 .4-.3 .4 .1 .4 .2 .5-1.5 .4 .9 .4 .8 .4 1.9 .4-2.5 .5 .2 .4 1.4 .4-.2 .4 .7 .4-1.6 .5 1.8 .4-1.5 .4-.6 .4 .9 .4-.7 .5-.3 .4-.8 .4 0 .4 2.4 .4 .6 .5-2.3 .4 .3 .4 .7 .4-1 .4-.3 .5 1.1 .4 1.3 .4-1.4 .4-.4 .4 .7 .5-1.7 .4 .7 .4 .3 .4-.7 .4 1.5 .5-2.1 .4 1.6 .4-.5 .4 1.2 .4-2.8 .5 .1 .4 .8 .4 0 .4 1.2 .4 .4 .5 0 .4-2.2 .4 .5 .4 .8 .4-.9 .5-1.6 .4 1.2 .4-1.5 .4-2.2 .4-.6 .5 2 .4-.2 .4 .6 .4 2.4 .4-1.7 .4 2.4 .5-1.4 .4 .2 .4 .4 .4 .2 .4-1.7 .5 .5 .4 1.2 .4-2.3 .4-.2 .4-3.2 .5 .2 .4 2.4 .4 0 .4 2 .4-1.6 .5-1.1 .4 1.1 .4-1.2 .4-1.9 .4 2 .5-2.6 .4 1.8 .4 .2 0-.6 .4 .7 .4 .9 .5-.8 .4 1.2 .4 2.2 .4-.3 .4 1.5 .5 .6 .4 .3 .4-.2 .4 1.3 .4-1.7 .5 .1 .4 0 .4 1.6 .4-2.1 .4 1.8 .5-1.8 .4 1.4 .4-.4 .4 .8 .4-1.7 .5 1.8 .4-2.1 .4 2 .4-1.7 .4-.6 .5 2.4 .4-1 .4-.4 .4 1.6 .4-2.8 .5 2.6 .4-2.4 .4 2.4 .4-1.4 .4 1.1 .5-2.5 .4 2.6 .4-1.2 .4-.3 .4 1.5 .5-1.3 .4 .9 .4-1.4 .4 1.8 .4-.4 .5 .9 .4-2.1 .4 .9 .4-.4 .4 1.5 .5-2.6 .4 1.7 .4 .7 .4-2 .4 .3 .5 1.3 .4 .6 .4-1.2 .4 .6 .4-1.6 .5 .9 .4 .8 .4-2.8 .4 .9 .4 .7 .5-1.2 .4 2.3 .4-1.5 .4-.1 .4-.5 .5 1.1 .4 0 .4 .8 .4-2.6 .4-.6 .5-.6 .4 .2 .4-1.4 .4 2.3 .4-1.6 .5 .2 .4-.9 .1-1.1 .3 .5 .4 .4 .4-1 .5 2.9 .4-1.7 .4-.6 .4 .3 .4 1.2 .5-1.2 .4 1.2 .4-1.1 .4 2.1 .4-.9 .5 .8 .4-.9 .4-.7 .4 1.7 .4 .9 .5 .2 .4 1.7 .4-1.6 .4 1.4 .4-2.2 .5 2.9 .4-1.4 .4 .4 .4-.3 .4-.3 .5 .5 .4-.2 .4-1 .4 0 .4 1.9 .5 .2 .4 0 .4-2.3 .4 .7 .4 0 .5-.6 .4-3.4 .4-1 .4 1.9 .4-4.1 .5 1.6 .4-1.5 .2-3.1 .2 2.7 .4-1.2 .4-.5 .4 2 .5 .7 .4 .8 .4 1.5 .4 1.3 .4 .9 .5 1.3 .4-1.6 .4 2.2 .4 .1 .4 .7 .5 .1 .4-.7 .4-.9 .4 1.1 .4 2 .5-1.4 .4-.2 .4 1.2 .4-1.6 .4-.2 .5 1 .4-2 .4 2.4 .4-.1 .4-.3 .5-.2 .4 .3 .4-.3 .4 .6 .4 .9 .5-1.7 .4 .3 .4-.2 .4 .4 .4 .6 .5-1.7 .4-1.2 .4 2.3 .4-2.4 .4 2 .5-1.7 .4 .5 .4 .8 .4 1.2 .4 .1 .5-1.1 .4 1 .4-2.4 .4 2.2 .4-.4 .5-.6 .4-1.9 .4 .4 .4-.7 .4 1.2 .5-.2 .4-.1 .4-1.2 .4-1.2 .4-.9 .5 1.4 .4 0 .4-2.3 .4 1 .4-.8 .5-3.3 .4-.7 .4-.8 .4-3.7 .4-3.4 .5-2.1 .4-.3 .4-.2 .2-1.8 .2 .3 .4 4.8 .5 .1 .4 3.5 .4 1.2 .4 4 .4 2.7 .5 .3 .4 1.5 .4-.5 .4 .7 .4 0 .5 2 .4-2.4 .4-1.6 .4 2.8 .4-.7 .5 .3 .4 1.7 .4 .4 .4-2.3 .4 .3 .5 2.1 .4-.9 .4-.6 .4 1.9 .4-1.1 .5 .6 .4-.8 .4-.3 .4 1.2 .4-1.4 .5 2.2 .4-1 .4-2.4 .4 1.6 .4-1.4 .5 1.2 .4-1.2 .4 .2 .4-1.7 .4 0 .5-.9 .4 .2 .4-2.2 .4 2.5 .4 .2 .5-.2 .4-1.8 .4-.1 .4-1.5 .4 1.1 .5 1.1 .4-3.1 .2 1.5 .2-.6 .4-1.1 .4 1.7 .5 .3 .4 .5 .4 3.4 .4 .5 .4-1.5 .5 .7 .4 .2 .4 1.3 .4 1.6 .4-.3 .5 .2 .4-2.1 .4 1.2 .4-.5 .4 1.8 .5-1.5 .4 .6 .4-.4 .4 2.2 .4-1 .5-2.6 .4-2.8 .4 .5 .4 1.7 .4 3.1 .5-.3 .4-.6 .4 1.3 .4-.8 .4-.8 .4 1.4 .5-1.5 .4 1.9 .4-.6 .4-1.7 .4 2.2 .5-1.9 .4 0 .4 2.1 .4-1.1 .4 1.7 .5-2.1 .4 1 .4-1 .4 1.6 .4-1.3 .5 2.6 .4-2.6 .4 1.1 .4-1.2 .4 .5 .5 1.1 .4-2 .4 2.7 .4-.9 .4 .7 .5 .3 .4-.2 .4-1.4 .4 .8 .4 1.5 .5-.2 .4-.5 .4-2.2 .4 1.1 .4 .9 .5-1 .4-1 .4 1.7"/>
<path fill="none" stroke="#2a2292" stroke-width="2.8" stroke-linejoin="round" d="M335.8 654.9 l1.7 2.2 1.6 .5 1.7 .5 1.7-1.3 1.7 1.1 1.7-1.8 1.6 .3 1.7 1.2 1.7 1.3 1.7-.3 1.6-1.7 1.7 1.3 1.7-1.1 1.7 2.5 1.7-1.9 1.6 1.4 1.7 1.7 1.7-.8 1.7 .9 1.7-.7 1.6 0 1.7 .2 1.7 0 1.7-.7 1.7 .4 1.6-.5 1.7 1.8 1.7-.2 1.7 1.8 1.7 .3 1.6-.5 1.7 .4 1.7-1.3 1.7-.7 1.7 1.6 1.6 .8 1.7-.3 1.7 .1 1.7 2.4 1.7-1.7 1.6 .6 1.7-.1 1.7-.2 1.7-.1 1.7 1.2 1.6 1 1.7 .1 1.7-2.2 1.7 .7 1.7 1 1.6-.8 1.7 1.2 1.7 1.4 1.7-2.3 1.6 1 1.7-.1 1.7 .1 1.7-.7 1.7 .5 1.6 2 1.7 .8 1.7-1.4 1.7 1.3 1.7 1.5 1.6-3.1 1.7 .4 1.7 1 1.7 .1 1.7 2.7 1.6-1.2 1.7-.6 1.7 1.3 1.7 .2 1.7 0 1.6-.8 1.7 0 1.7 .5 1.7 .9 1.7-2.3 1.6-3.1 1.7 6.5 1.7-2.3 1.7 3.6 1.7-1.9 1.6 1.9 1.7-.9 1.7-1 1.7 .4 1.7 1.6 1.6 1.7 1.7-1 1.7-1 1.7 1 1.6-.3 1.7-4.6 1.3-.1 1.7 1.3 1.6-2.3 1.7 2.4 1.7 2.3 1.7 2.2 1.7-3.2 1.6-2.4 1.7 2.5 1.7 2 1.7-.9 1.7-2.3 1.6 2.1 1.7 2.8 1.7-.8 1.7 .6 1.7-.2 1.6-.3 1.7 .3 1.7-3.4 1.7-2.1 1.2-.2 1.7 2 1.7 3.4 1.7-1 1.7-.2 1.6 .5 1.7 3 1.7-2.9 1.7 1.1 1.7 .5 1.6 .5 1.7-.8 1.7 1.5 1.7-.9 1.6-.4 1.7 .6 1.7-1.8 1.7-.2 1.7 1.1 1.6-.1 1.7 .1 1.7 .1 1.7-2.6 1.7-.2 1.6 2.5 1.7 .9 1.7-.1 1.7-.7 1.7-.2 1.6 1 1.7-.2 1.7-.2 1.7 2.1 1.7 .5 1.6-.5 1.7-1.6 1.7 .2 1.7 .6 1.7-.8 1.6 .1 1.7 1 1.7 .7 1.7-1 1.7-.7 1.6 2.1 1.7-1.6 1.7 1.2 1.7 .7 1.7 .8 1.6-.7 1.7 .9 1.7-1.4 1.7-1.5 1.7 1.8 1.6-1.1 1.7 1.9 1.7-1.9 1.7 .1 1.6-1.6 1.7-4.8 1.3 1.5 1.7 4.4 1.6-.6 1.7-.2 1.7 2.4 1.7-.3 1.7 .3 1.6-1.8 1.7 0 1.7-.8 1.7-3 1.2 .9 1.7 4 1.7 .4 1.7-1 1.7-.2 1.6 .7 1.7 .6 1.7 1.2 1.7-.1 1.7-2.5 1.6 1.2 1.7 .7 1.7-.6 1.7-2.5 1.7-2.3 1.6-.9 1.3-.7 1.7 1.4 1.7 2.7 1.6-.3 1.7 2.2 1.7 1 1.7 .4 1.7-2.4 1.6-3.1 1.3 .5 1.7 3.6 1.6-.4 1.7 .4 1.7-.1 1.7 1.6 1.7-2.2 1.6 1.1 1.7-.2 1.7 .3 1.7 .4 1.7-.7 1.6-.2 1.7-3 1.7 .3 1.7 2.3 1.7 .4 1.6 .4 1.7 1.2 1.7-1.8 1.7-.1 1.7 .1 1.6-.2 1.7-1.1 1.7-1.7 1.7 .4 1.7-1.7 1.2 .1 1.7-1.7 1.4 0 1.5 .5 1.7 3.1 1.7-.2 1.7 1.9 1.7-.2 1.6 .4 1.7 .1 1.7-.2 1.7-1.3 1.7 .4 1.6-2 1.3 1.4 1.7-.4 1.6 2.7 1.7-.5 1.7-.7 1.7 .4 1.7-.5 1.6-1.9 1.3-.9 1.7 4.6 1.7-1.3 1.6-.1 1.4 .1 1.6-1.3 1.7-.2 1.6 1.1 1.7 .2 1.7-1.3 1.7-1.9 1.2-1.1 1.7 1.3 1.7 3.3 1.7-.8 1.7 .2 1.6-2.6 1.3-1.3 1.7 1 1.7 1.8 1.6-1.4 1.7-2.2 1.7 .7 1.3 .5 1.6-.1 1.7-.1 1.7-.8 1.3-1.2 1.6 2.7 1.7 .1 1.7 2.3 1.7 3.3 1.6-1.6 1.7 .1 1.7 1 1.7-1 1.7 .8 1.6-2 1.7 1.1 1.7 .6 1.7-4 1.7-3.7 1.6 1.4 1.4 2 1.6 .1 1.7 3.1 1.6 .3 1.7 .4 1.7-.2 1.7-1 1.2-1.8 1.7 4.1 1.7 .9 1.7-2.2 1.7 .2 1.6 .4 1.7-3.5 1.3 1.4 1.7-1.9 1.6 3.2 1.7-.9 1.7-.6 1.3 .2 1.6 .9 1.7-.7 1.7 1.3 1.7-.4 1.7-2.5 1.4-1.3 1.5 1.2 1.7 .5 1.7-4.3 1.6 2.5 1.3-.3 1.7 2.5 1.6-.2 1.7-4.3 1.3 .5 1.7 2.7 1.6-1.5 1.6 1.4 1.4-.9 1.7 3.5 1.6 1.3 1.7 0 1.7-1.1 1.7-4.1 1.4-.5 1.5-.5 1.7 4.1 1.7-.7 1.7 1 1.6 .5 1.7 .4 1.7-2 1.7-2 1.2 3.1 1.7 1.2 1.7 1.8 1.7-.9 1.7-.4 1.6-1.7 1.6-2.6 1.4 .3 1.7 4.6 1.6 1.3 1.7-1.2 1.7-2.9 1.7-3.3 1.7 3.4 1.2-1 1.7 1.5 1.7 1 1.7-1.3 1.6-.9 1.7 1.8 1.3-1 1.6 1 1.7 2.3 1.7 1.2 1.7-2.5 1.7 0 1.6 3.4 1.7-1.8 1.7 .8 1.7-1.1 1.7 1.7 1.6-1 1.7-2.5 1.7 .2 1.7-.9 1.7-.6 1.6-.2 1.7 .6 1.7-.5 1.3-.4 1.6 2 1.7-.8 1.7 .9 1.7 .9 1.7-.8 1.6 2.1 1.7 .7 1.7-1.4 1.7 1.2 1.7-2.6 1.6-.6 1.7 .4 1.7-1.7 1.7 1.7 1.7 2.9 1.6-.1 1.7-.8 1.7-1.4 1.7-4.6 1.7 4.6 1.6 1 1.7-.3 1.7 .5 1.7-.9 1.6 1.5 1.7-1.2 1.7 2 1.7-2.1 1.7-2.8 1.6 1.3 1.7 0 1.7 1.6 1.7 0 1.7 2.4 1.6-3 1.7 1.7 1.7 .9 1.7-3 1.7-1.8 1.6-4 1.7 .4 1.7 4.7 1.7 2.2 1.7 1.4 1.6 .5 1.7-1.4 1.7-1.3 1.7 1.9 1.7-.1 1.6 .6 1.7 .4 1.7-.7 1.7-1.2 1.7 .7 1.6 0 1.7-3.1 1.7 .7 1.7 3.3 1.7-.3 1.6-1 1.7 1.2 1.7-.7 1.7 1 1.6-1.5 1.7 .1 1.7-.1 1.7-.7 1.7 1.8 1.6 0 1.7-.9 1.7-2 1.7 0 1.7-2.3 1.6 .7 1.7 2.1 1.7-.5 1.7-.6 1.7 .4 1.6 .2 1.7 3.1 1.7-2.6 1.7 1.8 1.7-2.5 1.6 .6 1.7 1.9 1.7-.5 1.7 .3 1.7-1.5 1.6-1 1.7-.5 1.7-.3 1.7-1.6 1.7-.3 1.2 .7 1.7-2.7 1.7 4.5 1.7 .1 1.6 1.8 1.7 0 1.7-1.5 1.7 .8 1.6-.7 1.7 1.8 1.7-.1 1.7 .4 1.7-2 1.6-1.2 1.7-2.5 1.7 1.6 1.7 2.2 1.7-1.2 1.6-.5 1.7-.9 1.7 1.2 1.3 .9 1.6 .4 1.7-1 1.7-1.3 1.7 .1 1.7 1 1.2 1 1.7-1.2 1.7-.3 1.7 2.6 1.6-1.4 1.7 1.2 1.7-.5 1.7 2.8 1.7-.3 1.6-3.1 1.7-2.7 1.7 1.7 1.7 2.7 1.7 .2 1.6-2.7 1.7 .9 1.7 .4 1.7 2.2 1.7-1.6 1.6 .1 1.7 .4 1.7 0 1.7-4.2 1.6-.5 1.7 1.2 1.7-.6 1.7 4.5 1.7-.2 1.6-.8 1.7 .9 1.7-.3 1.7 .6 1.7 .1 1.6-.1 1.7-1.2 1.7 .5 1.7-1.2 1.7 .2 1.6-1.8 1.7 .2 1.7 1.3 1.7 .5 1.7 1 1.6-.5 1.7-1.5 1.7 1.1 1.7 1.2 1.7-1.9 1.6 2.8 1.7-.4 1.7-1.5 1.7-.7 1.7-.2 1.6-1.6 1.7 1.6 1.7-1.7 1.7-2 1.7 3.3 1.6-.3 1.7 .5 1.7 1.5 1.7-.2 1.6 1.6 1.7-2.5 1.7 1 1.7-.7 1.7 1.3 1.6-1 1.7-1 1.7-2.1 1.7-3.4 1.7 1.5 1.6 1.7 1.3-1 1.7 .9 1.7 2.2 1.6-.7 1.7 3 1.7-2.5 1.7 .4 1.7 1.6 1.6 .6 1.7-.7 1.7-1.6 1.7 1.6 1.7-2.8 1.6 2.2 1.7 2.1 1.7-1.1 1.7-.6 1.7-.7 1.6 2.2 1.7-2.3 1.7 .7 1.7-.7 1.7-1 1.6-.5 1.7 2.1 1.7-1.3 1.7-.5 1.7-2.3 1.6 1.1 1.7 1.6 1.7 .2 1.7-5.5 1.6 2.8 1.7-2.8 1.7 3.1 1.3-.9 1.6 3.7 1.7 2 1.7 0 1.7-.7 1.7 .5 1.6-2.4 1.7 2.6 1.7-.2 1.7-.2 1.7-1.3 1.6 .9 1.7-.7 1.7 1.3 1.7 .2 1.7-1.3 1.6-.4 1.7-.5 1.7 1.4 1.7-3.6 1.7 1.2 1.2-1.3 1.7-1.9 1.7 1.5 1.7 .9 1.6 1 1.7 1.7 1.7-.3 1.7-.3 1.7 1.1 1.6-1.6 1.7-2.6 1.5-5.8 1.4 1.7 1.7 3.8 1.7 2.8 1.7 .2 1.7 .8 1.6-.8 1.7 1.3 1.7-.5 1.7 .1 1.7-.9 1.6 .7 1.7 .8 1.7-2.4 1.7-.7 1.7 .7 1.6-3.4 1.7 .2 1.7-.9 1.7-2.5 1.2 3 1.7 1.8 1.7-.6 1.7 .2 1.7 .8 1.6 .1 1.7 2.5 1.7-1.6 1.7 1 1.7-1 1.6-2.7 1.7-.4 1.7-.1 1.7 .7 1.2 .3 1.7 1.2 1.7 .5 1.7-.6 1.7 1 1.6 1.4 1.7-3.2 1.7 3.5 1.7-1.7 1.6 1.8 1.7-.9 1.7-.4 1.7 .3 1.7 1.5 1.6 .5 1.7-.5 1.7-1.4 1.7 0"/>
<path fill="none" stroke="#50e2e8" stroke-width="1.6" stroke-linejoin="round" d="M335.8 537.2 l.4-.9 .4-1 .4 .5 .5-.1 .4-1.3 .4 2.1 .4 1.8 .4-.1 .5-2 .4-.2 .4 3.3 .4-.2 .4-1 .5 0 .4-2.9 .4 2.4 .4-2.8 .4 0 .5 1.3 .4-2 .4 4.2 .4-2.4 .4 2.6 .5-.2 .4 1.2 .4-.4 .4 1.5 .4-1.9 .5-.1 .4-.6 .4 1.8 .4-1.9 .4 2.1 .5-2.8 .4 .8 .4 1 .4-1.1 .4 .2 .5 2.8 .4-1.9 .4-.6 .4 2.5 .4-1.3 .4-.1 .5 1.2 .4-.7 .4-2.1 .4-.9 .4 2.4 .5 .9 .4 .9 .4-2.1 .4 1.5 .4 1.5 .5-2 .4 .4 .4 .5 .4 .2 .4 1.6 .5-1.4 .4 1.8 .4-1 .4-1.1 .4-1 .5-.2 .4 2 .4-2.3 .4-.1 .4-.1 .5 2 .4-.8 .4-.3 .4 1 .4-.6 .5 1.7 .4 1.5 .4-1.3 .4-.1 .4-1.8 .5 1.3 .4-1 .4 0 .4 2.6 .4-.6 .5 .9 .4-2.6 .4 .8 .4 1.8 .4-2 .5 1.8 .4 .8 .4-3.7 .4 1.5 .4 .6 .5-.4 .4 .2 .4-.1 .4-.4 .4-.9 .5 3 .4 1.5 .4-3.8 .4 3 .4-.8 .5-1.4 .4 .5 .4 1.9 .4-1.6 .4 .8 .5-.1 .4 2.8 .4-2.1 .4-1.1 .4 2.5 .5 .1 .4-.9 .4-2.3 .4 2.8 .4-1.7 .5 1 .4 .1 .4-.4 .4 .7 .4 .4 .5-1 .4 .2 .4-1.4 .4 1.4 .4 2.1 .5-2.3 .4 2.1 .4 .4 .4-2.5 .4 2.2 .5-.7 .4 1.2 .4-2.3 .4 1.4 .4 .7 .5-1.9 .4-.5 .4 .8 .4 1.7 .4-1.4 .5 2.4 .4-2.2 .4 1.5 .4-1.8 .4 .6 .5 1.6 .4-1.7 .4 .5 .4-1.1 .4 .8 .5-1.4 .4 2 .4-.1 .4-.8 .4-.1 .5 .9 .4-.2 .4-.6 .4 1.8 .4-.3 .5 .3 .4-1.7 .4 1.6 .4-1.3 .4 1.6 .5-2.8 .4 2.8 .4-.4 .4-.6 .4 1.5 .5 .1 .4 0 .4-2 .4 0 .4 .7 .5-1.8 .4 3.2 .4-1.2 .4-.7 .4 .6 .5 1.3 .4-.3 .4-.5 .4-1.7 .4 2.7 .5-2.3 .4 2.5 .4-1.4 .4 1 .4 .5 .5-3.6 .4 .6 .4 .1 .4-.4 .4 .9 .5 2.6 .4-2.6 .4-.2 .4 3.4 .4-1.8 .4-.2 .5 .6 .4 1.2 .4-2.5 .4-.3 .4 .5 .5 2 .4 .5 .4-2.5 .4 2 .4-1 .5 2.1 .4-2 .4 .3 .4-1 .4 3.6 .5-3.2 .4 .2 .4-.5 .4 2.3 .4-3.4 .5 .9 .4 1.4 .4-2 .4 1.7 .4-.1 .5-1.4 .4 2.5 .4-1.1 .4-.3 .4 2.7 .5-.3 .4-1.9 .4-.4 .4-1 .4 3.2 .5-1.6 .4 1.2 .4 1 .4 .1 .4-1.4 .5-.1 .4 2.2 .4-3.3 .4 1.6 .4-1.8 .5 .5 .4-.1 .4 2.2 .4-.1 .4-1.2 .5 2.1 .4-.6 .4-1.3 .4 .8 .4 2 .5-2.3 .4 0 .4 .1 .4-2.1 .4 3.2 .5-1.5 .4 .9 .4-.2 .4 .8 .4-.5 .5-.8 .4-.8 .4 1.6 .4-2 .4 .5 .5 2.7 .4-1.8 .4 1.3 .4-.8 .4-1.3 .5-.1 .4 .5 .4-.7 .4-3.2 .4 3.4 .5-1.3 .4-.2 .4 1.5 .4 .6 .4 1.5 .5 .1 .4-1.4 .4 .9 .4-.8 .4-2 .5 1.2 .4 1.6 .4-.2 .4 .1 .4-2.1 .5 2.5 .4 1.2 .4-2.8 .4 2 .4-1.6 .5 2.6 .4 .3 .4-3 .4 3.1 .4-2.6 .5 2 .4-3.8 .4 2.8 .4-.8 .4 1.1 .5-.8 .4 2.7 .4-2.4 .4 .5 .4-.2 .5 0 .4-.3 .4 2.4 .4-.4 .4 .4 .5-2.5 .4 1.6 .4-1.4 .4-.3 .4 1.5 .5 .8 .4 .3 .4-.5 .4-1.6 .4 1.3 .5 1 .4 .4 .4-.6 .4-1.9 .4 1.5 .5-3 .4 1.7 .4 .6 .4-2.4 .4 .5 .5 1.6 .4-.2 .4-.2 .4 1.8 .4 .4 .5-.6 .4 .3 .4-1.1 .4-.5 .4-1.6 .5 .1 .4-.1 .4 .3 .4-.9 .4 2.7 .4 1 .5 .2 .4 .5 .4-3.1 .4 3.2 .4-2.5 .5 2.9 .4-1.1 .4-1.1 .4 3.3 .4-2.6 .5 3.5 .4-.8 .4 .7 .4-1.4 .4-1.2 .5 .8 .4-2.1 .4-1.9 .4-3.4 .4-5.5 0 .6 .5 3.7 .4 2.3 .4 3.7 .4 1 .4-.4 .5 .1 .4 2.7 .4-2.1 .4 2.5 .4-1.1 .5 1.4 .4-2.2 .4 1.2 .4-1.2 .4 2.8 .5-2.2 .4 1.2 .4-1.4 .4 1.6 .4 0 .5 .6 .4-.4 .4-.7 .4-.5 .4-1 .5 .1 .4 .7 .4 3.1 .4-1.1 .4 .4 .5-1.4 .4-1.4 .4-1.1 .4 1.2 .4 .8 .5-.4 .4-2.6 .4 1.6 .4-.4 .4 .6 .5 1.5 .4-1.2 .4 .4 .4-1.2 .4 .3 .5-.4 .4-.3 .4-3.1 .4 2.6 .4-4.2 .5 .5 .4 4.8 .4-.9 .4-.6 .4 1.9 .5 2.6 .4 .3 .4 .2 .4 1.4 .4-1.5 .5 1.4 .4-2.9 .4 .9 .4 1.7 .4-1.3 .5-1.1 .4 .3 .4 2 .4-.9 .4-.4 .5 1.1 .4-2.2 .4 2.5 .4-1.6 .4 .8 .5-.3 .4 1.9 .4-3.1 .4 2 .4-2.7 .5-4.9 .4-3.3 .1 .3 .3 2 .4 5.5 .4 1.8 .5-.9 .4 2 .4-1.7 .4 3.2 .4-.3 .5-.3 .4-.2 .4-2 .4 2.3 .4 .1 .5 .4 .4 1.3 .4-2.3 .4-.2 .4 .9 .5 1.2 .4 1.2 .4-.4 .4-1 .4-.7 .5 1.7 .4-1.2 .4 .3 .4-1.8 .4 2 .5-1.5 .4 3.5 .4-2.9 .4-.3 .4 1.5 .5 1.8 .4-2.7 .4-.8 .4 .4 .4-.3 .5 2.3 .4-.9 .4 2.2 .4-2 .4 1.6 .5-2.1 .4 1.1 .4 2.1 .4-1.2 .4-.9 .5 2.1 .4-2.5 .4-1.5 .4 1.5 .4 .3 .5 .8 .4-1.9 .4 1.3 .4 1.2 .4-1.1 .4-1.9 .5 2.9 .4-1.8 .4 1.4 .4-.2 .4-.9 .5-1.3 .4 1.8 .4-2 .4 1.7 .4-.6 .5-1.6 .4 .3 .4-.4 .4 1.3 .4 .3 .5 .7 .4-1.1 .4 .2 .4 3.3 .4-2.6 .5 .5 .4 1.6 .4-1.1 .4 .4 .4-1.7 .5 1.6 .4 .4 .4-.6 .4-.5 .4-1.3 .5 .5 .4-1.8 .4 .8 .4-1.5 .4-.3 .5-1.6 .4 2.9 .4-3.5 .4-2.3 .4 1.5 .5-.1 .4 3.1 .4 1.2 .4 .5 .4 2.6 .5 .1 .4 1.3 .4-2.1 .4 1 .4 1.2 .5-.8 .4-1.1 .4-1.5 .4 2.5 .4-2.2 .5-1.8 .4 2.8 .4-1.3 .4 2.3 .4-2.5 .5 .7 .4 2.7 .4-1 .4-.5 .4 1.5 .5-1.1 .4-2.1 .4 .2 .4 2.8 .4 .4 .5-1 .4-.7 .4 1.8 .4-1.3 .4 1 .5-.9 .4-1.7 .4 2.5 .4-1.6 .4-1.3 .5-.8 .4 .4 .4 .9 .4-2.2 .4 1.3 .5-.4 .4-.5 .4 2.2 .4-.7 .4 2.1 .5-1.1 .4-1.6 .4-.5 .4 1.4 .4 .4 .5-3 .4 .2 .4 2.6 .4 .1 .4 .3 .5 1.3 .4-2.6 .4 .1 .4 3.7 .4-.2 .5 .4 .4-1.7 .4-.6 .4 2.1 .4-1.5 .5-.4 .4-.4 .4 .2 .4-1.5 .4 .2 .5 1.7 .4 .3 .4 1 .4-1.3 .4-2 .5 1.7 .4-2.3 .4 1.5 .4-1.1 .4 0 .5 2.2 .4-1 .4 1 .4-2.1 .4 1.2 .5 0 .4 2 .4-.6 .4 .6 .4-1.3 .5-2.9 .4 3 .4-.1 .4 .2 .4-.5 .5-.1 .4 .6 .4 0 .4-1 .4 2.7 .5-.3 .4-2.5 .4 1.5 .4 1.1 .4-1.7 .5-2 .4 4.1 .4-1.5 .4-.8 .4 2.2 .5-1.9 .4-1.1 .4-.7 .4 3 .4-2.7 .4 3.2 .5-2.9 .4 2 .4-2.8 .4 2.9 .4-2.8 .5 3.1 .4-1.8 .4 .4 .4 .1 .4-1.9 .5 .3 .4 1 .4-1.3 .4 .1 .4-1.4 .5 .9 .4-4.7 .4-6.9 .4-10.3 .4-4.4 .1-3.2 .4 6.9 .4 9.5 .4 6.9 .4 1.5 .4 0 .5 .7 .4 0 .4 2.1 .4-.4 .4 2 .5 .2 .4-.6 .4 2.5 .4 .3 .4-.2 .5-1.2 .4-.3 .4 .7 .4-.1 .4 .2 .5-1.3 .4 .1 .4 1.7 .4 1.3 .4-1.2 .5 .9 .4 1.8 .4-2.4 .4 2.1 .4-.5 .5-1 .4-.2 .4-2.2 .4 1.9 .4 .3 .5-3.7 .4 1.8 .4-3.1 .4-.5 .4 .1 .5-4.6 .4-6.1 .2-.2 .2 0 .4 7 .4 4.2 .5 2.6 .4-.5 .4 1.7 .4-.9 .4-1.1 .5 .2 .4-1.4 .4 .5 .4 2.6 .4-.3 .5-.9 .4 3.1 .4-1.1 .4-1.2 .4 .2 .5 .1 .4 .5 .4 1.5 .4-.8 .4-1.2 .5-.4 .4 1.1 .4 .6 .4-1 .4 .1 .5 1.4 .4 .1 .4-.8 .4-1.7 .4 1 .5 .8 .4-.9 .4-1.6 .4 2.3 .4 .7 .5-1.8 .4 2.2 .4-.2 .4-.2 .4-2.8 .5-.4 .4 2.1 .4 0 .4-2 .4 2.9 .5-3.4 .4 1.9 .4-1.3 .4-.1 .4 1.3 .5 .1 .4-3.8 .4 2.4 .4-1.1 .4-2 .5-3.3 .4-4.7 .4-12 .4-13.7 .4-12.9 0-.2 .5 14.5 .4 15.5 .4 10.9 .4 4.8 .4 2.8 .5-.9 .4 3.4 .4-.5 .4 1.7 .4-1.3 .5 2.2 .4-.2 .4-.9 .4-1.4 .4 .5 .5-.2 .4-.6 .4-.7 .4 2.2 .4-.4 .5-1.5 .4 1.7 .4-.3 .4-.7 .4-2.5 .5 .4 .4-2 .4-5.4 .4-7 .4-7.9 .4-6.8 .1-.7 .4 6.4 .4 12.3 .4 4.6 .4 4.7 .4 2.6 .5-1.1 .4 2.6 .4 .4 .4-1.2 .4-.6 .5 2.9 .4-.7 .4 2 .4-.4 .4 1.3 .5-2.8 .4 .7 .4 1.6 .4-.4 .4-.8 .5-2.6 .4 1.9 .4 .5 .4-.1 .4-2 .5 3.3 .4 .2 .4-.6 .4-1.4 .4-.4 .5-.5 .4 1.4 .4 .6 .4-.2 .4-.8 .5-.3 .4 .9 .4-.3 .4 .2 .4-1.6 .5 3.2 .4-4.4 .4 2 .4-1 .4-1.6 .5 1.1 .4 1.2 .4-.8 .4 .6 .4-2.4 .5 1.7 .4-.8 .4 2.2 .4 1 .4-1.7 .5-.3 .4 2.5 .4-2.5 .4-.8 .4 2 .5-.2 .4 .5 .4-2.4 .4 2.5 .4-1.7 .5-.1 .4-.6 .4 .1 .4 .5 .4 .5 .5-1.2 .4 1.4 .4 .7 .4 2.1 .4-3 .5 1.9 .4-2.1 .4-.5 .4 2.3 .4-1.3 .5 .8 .4 0 .4-2.1 .4 1.3 .4-.2 .5-1.3 .4-1 .4 1.4 .4-.5 .4 2.4 .5 .6 .4-3.4 .4 1.5 .4-1.5 .4 .9 .5-2.5 .4 .5 .4-1 .4 .2 .4-1.9 .5 2.5 .4 .3 .4-1.2 .4-1.7 .4-1.7 .5 1.9 .4-1.8 .4-2.9 .4-.4 .4-2.2 .5-4.7 .4-1.2 .4-6.9 .4-8 .4-23.1 .5-44.7 .4-75.1 .4-46.7 0-1.9 .4 48.3 .4 75.4 .5 45.4 .4 23.5 .4 9.3 .4 5.5 .4 4.6 .5-.4 .4 4 .4 .1 .4 1.8 .4 .4 .5-2.8 .4 2.9 .4-1.8 .4 1.8 .4 3.2 .5-3.1 .4 .7 .4 2.2 .4-2.9 .4-.7 .5-2.3 .4-.9 .4-3.7 .4-2.8 .4-6.2 .1 2.3 .4 .8 .4 5.3 .4 6.5 .4 2.5 .4 2.4 .5-.7 .4 .9 .4-1.3 .4 1.4 .4-1.9 .5-.4 .4-.9 .4 .5 .4-1.9 .4-2 .5 .6 .4-1 .4-5.9 .4-6.1 .4-13.3 .4-28.7 .5-37 .3-17 .1-.1 .4 34.6 .4 36 .4 21.1 .5 10.1 .4 6.3 .4 1.6 .4 2.2 .4 .1 .5 2.6 .4-.3 .4-1.3 .4 1.3 .4-2.7 .5 1.6 .4 .9 .4 1.6 .4 .2 .4-1.6 .5 1.2 .4-.4 .4-.7 .4-.5 .4 1.1 .5-.1 .4-.3 .4-.7 .4-1.9 .4-4.7 .5-6 .2 .2 .2 .4 .4 2.5 .4 6.4 .4 .1 .5 .5 .4-1.5 .4-1 .4 1.8 .4 2 .5 2.1 .4-.4 .4 1.4 .4 .4 .4-2 .5 .3 .4 1.6 .4 .6 .4-1.4 .4 1 .5 .6 .4-4.4 .4-1.1 .4-6.4 .4-3.3 .2-1.7 .3 4.6 .4 3.8 .4 4 .4 1.4 .4-1.1 .5 .9 .4 .7 .4-.8 .4 2.1 .4-2.6 .5 1.2 .4 .6 .4-.6 .4-1.2 .4 1.5 .5-3.6 .4-6.8 .4-5.4 .4-13.2 .2 1 .2 2.6 .5 7.4 .4 6.9 .4 3.3 .4 4.2 .4 1.7 .5-1 .4 3.1 .4-.3 .4-2.1 .4 3.2 .5-.8 .4 1.1 .4-2.3 .4-.1 .4 1.7 .5-.9 .4-1.4 .4-7.9 .4-6 .4-9.6 .4-6.9 .1-.5 .4 7.4 .4 12.2 .4 7 .4 1.9 .5 .9 .4 3.8 .4-2.6 .4 3 .4-3.1 .5 .1 .4 2.1 .4-3.4 .4-2.6 .4-4.7 .5-6.5 .4-10.4 .2-2.6 .2 1.2 .4 12.4 .4 8 .5 4.2 .4 4.1 .4 .5 .4-.4 .4 0 .5-3.2 .4-4.3 .4-3.9 .4-8 .2-1.6 .2 2.9 .5 7.2 .4 3.7 .4 4 .4 2.7 .4-.5 .5 .3 .4-3.4 .4 .9 .4-6.4 .4-9 .5-8.7 .1-.3 .3 3 .4 8.4 .4 9.1 .4 3.4 .5 3.6 .4-.7 .4 .8 .4 2.5 .4-.4 .5 1.6 .4-1.1 .4-.6 .4 .2 .4 .3 .5 1.5 .4-2.8 .4-1.5 .4-.1 .4 .3 .4 1.3 .5-4.1 .4-1.9 .4-8.6 .4-4.6 .1-2.6 .3 4.9 .5 5.1 .4 4.3 .4 5.1 .4 .5 .4 2.1 .5-.1 .4 1.5 .4-.4 .4-.3 .4-.6 .5 .3 .4 .2 .4-.8 .4 1.2 .4 1.6 .5-1.8 .4-3.3 .4 .1 .4 .7 .4-4 .5-7.7 .4-6.6 .4-6.9 0 3.3 .4 4.3 .4 7.7 .5 6.3 .4 2 .4 .9 .4 1.8 .4-1 .5 1.5 .4 .7 .4-.5 .4-2.5 .4 .4 .5 1.9 .4-2.7 .4 .6 .4 .3 .4-.5 .5 .6 .4 0 .4 1.7 .4-4.1 .4 .8 .5-6.3 .4-10.2 .4-14.7 .4-11.8 .1-1.2 .3 8.4 .5 17.3 .4 12.5 .4 6.8 .4-1.2 .4 3.5 .5 2.3 .4-2.8 .4-.2 .4 3.7 .4-.9 .5 0 .4-2.8 .4 1.9 .4-.4 .4-1.9 .5 2.1 .4-2.6 .4-2.4 .4-5.1 .4-8.8 .3-1.4 .2-1.1 .4 7.4 .4 6.2 .4 5.4 .4 .1 .5 1.2 .4 1.5 .4 1.1 .4 1.5 .4-.4 .5-.6 .4-.6 .4-.2 .4-.5 .4-2.7 .5 2.7 .4-2.7 .4 1.2 .4 .3 .4-3.2 .5 .9 .4-2.5 .4-6.3 .4-9.2 .4-16.2 .5-29.7 .3-9.8 .1-1.9 .4 22 .4 25.8 .4 15.5 .5 6.3 .4 3.8 .4 1.3 .4-.6 .4 .9 .5-1.2 .4 0 .4-3.3 .4-3.4 .4-6.8 .5-9.5 0 2.2 .4 4.6 .4 9.3 .4 6.7 .4 2.8 .5-.4 .4 .9 .4 1.1 .4-1 .4 1.6 .5-.3 .4 .8 .4-3.3 .4 .5 .4-.8 .5-.8 .4 .3 .4-5.6 .4-7.3 .4-13.3 .5-21.9 .2-5.5 .2 3.8 .4 16.9 .4 19.4 .4 6.9 .5 5 .4 1 .4-1.6 .4 4.3 .4-3.6 .5 2 .4-.6 .4 .6 .4 .2 .4-2.1 .5-2.7 .4-.2 .4-3.8 .4-9.4 .4-17.3 .5-19.8 .2-4.4 .2 2 .4 17.3 .4 18.2 .4 10 .4 5.8 .5 2.5 .4 1.6 .4 2.6 .4 .1 .4-2.6 .5-.7 .4-.6 .4-8.5 .4-11 .4-5.8 0 2.1 .5 7.4 .4 8.7 .4 5.1 .4 3.9 .4-1.2 .5 1.5 .4-2.1 .4-3.1 .4-3.3 .4-7.1 .5-19.8 .4-24.6 .3-10.9 .1 3.1 .4 18.9 .4 23.9 .5 11.7 .4 5.6 .4 7 .4-.6 .4 4.4 .5 1.3 .4-.5 .4-.5 .4 2.2 .4-1 .5 2.1 .4-.7 .4-.9 .4-.8 .4 2.1 .5-1.5 .4 .7 .4-.9 .4 1.3 .4-.1 .5-1.3 .4-1.9 .4-1.6 .4-5.8 .4-7.9 .2 1.8 .3 1.5 .4 6.2 .4 4.4 .4 2.9 .4 1.2 .5-1.8 .4 .9 .4 2.5 .4 .1 .4-1.3 .5-1.1 .4 2.3 .4-2.6 .4-.6 .4 2.6 .5-1 .4-.6 .4 .5 .4-2 .4 .6 .5 .2 .4-1.1 .4 1.1 .4-1.2 .4-3.2 .5-2.7 .4-2.6 .4-12.2 .4-17 .4-12.3 0 2.1 .5 10.7 .4 20.5 .4 8.7 .4 4.3 .4 4.2 .5 1.9 .4 0 .4-1.9 .4-.2 .4 4 .5-1.2 .4-.8 .4-1.3 .4-.4 .4-1.8 .5-1.6 .4-6.9 .4-4.1 0 .2 .4 4.6 .4 7.6 .5 2.3 .4 .7 .4 1.2 .4 2.6 .4-1.5 .5 .1 .4 1.5 .4-1 .4 1.8 .4-2.6 .5 1.4 .4 .6 .4-.5 .4-3.6 .4-.7 .5-.4 .4 2.5 .4-2.2 .4-3.6 .4-3.9 .5-10.5 .4-6.8 .1-3.2 .3 4.6 .4 11.7 .4 5.8 .5 5.3 .4 .9 .4 1.3 .4 1 .4-.1 .5-.8 .4 .1 .4 .2 .4-.1 .4-.7 .5 1.4 .4-1.6 .4-.8 .4-.5 .4-1.4 .5-1.3 .4 1.4 .4 2 .4 2.4 .4-1.5 .5-.6 .4-.4 .4-1.3 .4 1.5 .4-2.6 .5-4 .4-1 .3-2.4 .1 1.4 .4 2.4 .4 3.7 .5 3.9 .4 .9 .4-1.2 .4 .4 .4-1.9 .4 .7 .5-2.6 .4 3.6 .4 1.1 .4 .7 .4-2.9 .5 1.3 .4 .1 .4 .7 .4 2.3 .4-1 .5-.7 .4 2 .4-3.5 .4 1.8 .4-.6 .5 2 .4-1.5 .4-.2 .4-1.4 .4 2.8 .5 1.3 .4-.2 .4 .7 .4-3.3 .4 1.9 .5-.6 .4-1.7 .4 2.8 .4-2.6 .4 2.9 .5-2.6 .4 .5 .4 2.3 .4-2 .4 2.1 .5-.1 .4 .5 .4-3.5 .4 2 .4-.4 .5 1.2 .4 .8 .4-1.3 .4 1 .4 .2 .5-1.5 .4-.6 .4 0 .4-.7 .4-.4 .5 2.5 .4 .3 .4-1.2 .4-.8 .4-1 .5 1.9 .4-1.7 .4 2.3 .4-1.7 .4-.1 .5 .4 .4 .8 .4-.4 .4 .6 .4-1.3 .5 .5 .4-2.3 .4 .9 .4 .2 .4-4.2 .5 .9 .4-2.5 .4-6.6 .4-5.5 .4-2 .3-2.7 .2-1.7 .4 2.6 .4 7.8 .4 1.8 .4 3.9 .5 4.3 .4 1 .4-1 .4 3.1 .4 2.5 .5-1.2 .4 1.1 .4 .2 .4-1.3 .4 1.2 .5-.7 .4 1.4 .4-1 .4 1 .4-.7 .5-1.8 .4 .6 .4 1.9 .4-1.2 .4 0 .5 2 .4-1.6 .4 1.6 .4-1.5 .4-.7 .5 .2 .4-1.1 .4 2 .4-.3 .4-.1 .5-2.5 .4 3.1 .4-1.2 .4 .7 .4-3.2 .5 .5 .4 2 .4-1 .4-2.3 .4 2.2 .5-.9 .4-.2 .4-3.2 .4-.6 .4 3.3 .5-3.5 .4 2.5 .4 .6 .4 2.3 .4-2.2 .5 .5 .4-.3 .4 .3 .4 .8 .4-.6 .5 .5 .4-.1 .4 .9 .4 .6 .4 2.1 .5-.2 .4 .1 .4-1.7 .4 0 .4-1.3 .5 3 .4 .3 .4-3.2 .4-.1 .4-.9 .5 .5 .4 3.5 .4-.3 .4-2.5 .4 .7 .5-1 .4 .4 .4 1.6 .4-1.7 .4 2.5 .4-2.4 .5 2.4 .4-2.1 .4 2 .4-1.5 .4-.7 .5 .8 .4-.1 .4 1.6 .4-2 .4-.5 .5 .8 .4-1.2 .4 3.4 .4-3.4 .4-.4 .5 1.6 .4 .4 .4 1.7 .4-3.3 .4-.4 .5 2.5 .4-1.9 .4 1.6 .4-.4 .4-1.2 .5 .5 .4 .7 .4 .3 .4 1.8 .4-2.2 .5-.2 .4-.1 .4 1.4 .4-1.2 .4-.2 .5-.7 .4-.6 .4 .1 .4 3.4 .4-3.3 .5 .7 .4 2.1 .4-3 .4 .9 .4-.6 .5 .4 .4 .6 .4-.2 .4-1.4 .4 1.8 .5 1.7 .4-1 .4 1.7 .4-3.1 .4 .2 .5-.9 .4 .2 .4 .8 .4 1.1 .4-2 .5 3.6 .4-2.1 .4-.9 .4 .8 .4-1.2 .5 .1 .4 1.7 .4-2.6 .4 1.9 .4-.6 .5 1 .4 .4 .4 .2 .4-.8 .4-2.1 .5 .3 .4-1.9 .4-3 .4 .8 .4-2.9 .4-1.8 .1-.1 .4 3.2 .4 3.7 .4 1.8 .4 1.5 .5-.4 .4 1 .4-1.1 .4 1.4 .4 .6 .5-2.2 .4-1.5 .4 2.2 .4 1.6 .4-.7 .5 0 .4-.1 .4-2.6 .4-.2 .4 2.8 .5-.4 .4-2.1 .4-1.7 .4-1.9 .4-1.3 .5 2.7 .4-.3 .4-1.7 .4 3.4 .4-.1 .5 .7 .4-.2 .4 1.7 .4-1.2 .4 .3 .5 .2 .4-1 .4-3.6 .4 1.8 .4-.8 .5 4.1 .4-.9 .4-.3 .4 1.8 .4 .9 .5-.8 .4-1.6 .4 1.1 .4-.2 .4-.3 .5 .5 .4 .5 .4 1.3 .4-2.2 .4 .3 .5-.3 .4-.5 .4 3.3 .4-3.3 .4 2.3 .5 .6 .4 .3 .4-2.6 .4 .1 .4-.4 .5 3.3 .4-.2 .4-.3 .4-.4 .4-1.5 .5-2.4 .4 2.5 .4-3.1 .4 1.9 .4-1.2 .5-.9 .4-.3 .4-1.4 .4 1.3 .4 1.1 .4-1.1 .5 1.5 .4-.7 .4 2.9 .4-.9 .4 .8 .5-.5 .4 2.4 .4-3.5 .4 1 .4 2 .5-.3 .4-.5 .4-.6 .4-.1 .4-.9 .5 1.7 .4-1.8 .4 .3 .4-.8 .4 .5 .5 1.2 .4-1.4 .4 2.9 .4-1.3 .4 2.2 .5-.1 .4 .6 .4-.6 .4 0 .4-.3 .5-2.5 .4 .8 .4 .9 .4-1.3 .4 2.7 .5-2.7 .4 .5 .4-.7 .4 2.6 .4-2.9 .5 2.8 .4-3 .4 1.7 .4-1 .4 2.1 .5-1.4 .4-.2 .4 1.9 .4 .1 .4-3.3 .5-.1 .4-1.1 .4 1.6 .4 1.3 .4-2.9 .5-1.3 .4-.9 .4-1.6 .4 2 .4-.9 .5 1.4 .4-2.3 .4 2.1 .4-3.4 .4-.3 .5 .6 .4-2.9 .4-1.5 .4 4.1 .4 .9 .5-.3 .4-1.2 .4 0 .4 1.3 .4-1 .5-.9 .4 .6 .4 3.1 .4-.5 .4 1.9 .5 0 .4 .7 .4 .5 .4-.8 .4 1.3 .5 .8 .4-1.6 .4-1.6 .4 1.4 .4-1.7 .5 1.6 .4 .2 .4-2.2 .4 .2 .4 0 .5-.1 .4 .6 .4 3.6 .4-1.5 .4-1.3 .5 1.8 .4 .2 .4-.2 .4-1.5 .4 3.9 .5-1 .4-1.8 .4 2.4 .4-1.1 .4 .5 .5 .1 .4-.1 .4 1.3 .4 0 .4 1.7 .5-1.7 .4-.1 .4-2.5 .4 .4 .4 1.6 .5-2.6 .4 .2 .4-2.2 .4-.7 .4-3.8 .5-.4 .4-4.3 0 .3 .4 2.9 .4 1.5 .4 1.1 .5 1.7 .4 3 .4 1.4 .4 1.1 .4-1.9 .5 .7 .4-1.5 .4 2.7 .4 1.1 .4-1.1 .5-1.9 .4 .6 .4 3.7 .4 0 .4-3.1 .5 1.5 .4-1 .4 1.4 .4-1.7 .4 2.5 .5-1.7 .4-.7 .4 .7 .4 .4 .4-1.8 .4 2.3 .5 .1 .4-1.8 .4-.6 .4-.2 .4 0 .5 .4 .4 0 .4 2.4 .4 1.4 .4-.5 .5 .2 .4 .3 .4-3.2 .4 3.2 .4-2.8 .5 3.3 .4-2.9 .4-.1 .4 .6 .4-.4 .5 1.8 .4-.4 .4-1.7 .4 1.2 .4-.6 .5 1 .4-2.1 .4 1.9 .4-2.7 .4 1.7 .5-.5 .4 .1 .4-1.4 .4-.4 .4 2 .5 1 .4 .2 .4-3.3 .4 .2 .4 .5 .5 1.5 .4 .8 .4-2.1 .4 1.6 .4-1.5 .5 1.7 .4-1.6 .4 .2 .4-.4 .4-.9 .5 .4 .4-.3 .4 1.5 .4-1.2 .4 0 .5 3.2 .4-1 .4 1.2 .4-.8 .4 .6 .5-.5 .4-.5 .4 .2 .4-1.2 .4-1.1 .5 0 .4-.1 .4 1.7 .4 .4 .4-3.8 .5 1.5 .4-3.1 .4-3 .4-.7 .4-7.3 .5-5.7 .4-8.1 .4-4.7 .1-.5 .3 4.2 .4 6.1 .5 6.3 .4 4.7 .4 4.9 .4 .3 .4 4 .5 .5 .4-1.8 .4 2.2 .4-1.1 .4-1.7 .5 .1 .4 3 .4 1.5 .4-1.4 .4 1.4 .5-1.2 .4 2.7 .4-.8 .4 0 .4-1.7 .5 0 .4 .6 .4 .6 .4-4 .4 2.2 .5 .2 .4-3.4 .4 2.8 .4-.6 .4 0 .5 2.3 .4-.4 .4 1.9 .4 .3 .4 .9 .5-2.1 .4-1.3 .4 2.8 .4-3.1 .4 3.3 .5 .4 .4 .4 .4-3.6 .4 3.2 .4 .6 .5-2.9 .4 1.6 .4-.8 .4 2.1 .4-2.7 .5 1.7 .4-1.8 .4 3.8 .4-2.4 .4 1.3 .5-2.8 .4 .3 .4 1.5 .4-1.4 .4 3.1 .5 .1 .4-2.9 .4 3.2 .4-.1 .4-1.7 .5-.5 .4 1.1 .4-.2 .4-2.3 .4 2.6 .5-1.1 .4 1.2 .4 .1 .4-.4 .4-.4 .5 1.3 .4-1.9 .4-.1 .4 1.2 .4 .6 .4-1.7 .5-1.5 .4 2 .4-.7 .4-1.2 .4 .7 .5-.4 .4 2.6 .4-1.3 .4-1.6 .4 .3 .5 2.7 .4-3.6 .4 2.6 .4-2.6 .4 2.7 .5-1.1 .4 .7 .4-1.7 .4 .8 .4 1.4 .5-1.6 .4 2.2 .4-.9 .4-1 .4 .2 .5 .9 .4 2 .4-1.8 .4-1.9 .4 .6 .5 2.5 .4-.5 .4-.5 .4-1.3 .4-1 .5 2.7 .4-1.3 .4-1.6 .4 2.1 .4-.2 .5-1.2 .4 2.7 .4-1.2 .4-1.2 .4 1.8 .5-.1 .4-.8 .4-1.7 .4 2.7 .4-1.5 .5 .7 .4 1.2 .4-2.9 .4 2 .4-2.3 .5 2.4 .4-.9 .4-.1 .4 1.4 .4-1.5 .5-1.8 .4 .3 .4 2.7 .4-1.5 .4-.7 .5-.2 .4 1.1 .4-.8 .4 3 .4-2 .5 .9 .4-2.4 .4 2 .4-2.4 .4 2.1 .5-.9 .4 .4 .4 .8 .4 1.1 .4-1.5 .5-1.5 .4 3.6 .4-2.6 .4 2 .4-2.6 .5 1.8 .4-4.1 .4-.3 .4 .6 .4 1.2 .5 2.2 .4-3.3 .4 .4 .4 .6 .4-.5 .5 .8 .4 2.2 .4-1.9 .4 .1 .4-.5 .5 .1 .4 2.4 .4-1.1 .4 .7 .4 0 .5-2.3 .4 .5 .4 2 .4-4.8 .4 .7 .5-1.6 .4 1.2 .4-1.1 .4 3.5 .4-1.4 .5-1.4 .4-.6 .4 .2 .4 2.9 .4-2 .5 .3 .4 3.2 .4 .7 .4-.8 .4-1.1 .5 1.9 .4-2.4 .4 .3 .4 1.1 .4-3.3 .5 3.5 .4-3.2 .4 1.9 .4-2.7 .4-.9 .5-.1 .4-3.2 .4-.3 .3-.2 .1 .5 .4-1.4 .5 2 .4 1.4 .4 3.8 .4 1.1 .4-1.5 .5-2.5 .4 2.7 .4 1.4 .4-.9 .4-1.1 .5 1.8 .4 2.3 .4 .1 .4-1.1 .4 .3 .5 .7 .4-.3 .4 .3 .4-.8 .4 1.7 .4-3.2 .5 1.3 .4 .5 .4-.5 .4 1.3 .4 0 .5-2.4 .4 .3 .4-.7 .4 3.1 .4-1.9 .5 .3 .4 1.1 .4-.7 .4-.3 .4-.6 .5-.9 .4-.4 .4 .8 .4 2.9 .4-2.5 .5 1.7 .4-2.1 .4 1.6 .4-1.5 .4 2 .5-2.5 .4 1.4 .4-.2 .4 .4 .4-.9 .5-.1 .4 1.2 .4-3.3 .4 .9 .4-1.4 .5-.2 .4 .2 .4-2.1 .4 .3 .4-1.3 .5 3.3 .4 .1 .4-1.6 .4-.5 .4-.8 .5-.6 .4-1.8 .4 2 .4 3.3 .4-.9 .5 2.8 .4-1.6 .4 .1 .4 1.3 .4-1.4 .5 2.3 .4-1.3 .4 1.6 .4 1.1 .4-1.6 .5-.8 .4 1.6 .4 1.5 .4-1.6 .4 1.4 .5-.8 .4-1.1 .4-.2 .4 2.3 .4-2.4 .5-.3 .4 2.7 .4-2.9 .4-.1 .4-.4 .5 .1 .4 2.7 .4-.2 .4 0 .4-.9 .5 1.7 .4-1.2 .4 1.6 .4-2.6 .4-1.1 .5 .4 .4 .8 .4 .8 .4 1.9 .4 .2 .5-1.1 .4 1.2 .4-1.4 .4-.7 .4 1.4 .5 1.1 .4-2.7 .4 .6 .4-3.2 .4 1.9 .5 1.5 .4-3.8 .4-.6 .4-.5 .4 .7 .5-.1 .4-4.3 .4-.6 .3 1.2 .1-.4 .4-.1 .5 2.9 .4 2 .4 1.7 .4 1.9 .4-1.5 .5 1.4 .4 .2 .4 1.7 .4-2.3 .4 1.2 .5 .6 .4-1.2 .4-2.5 .4 3 .4-1.5 .5-.5 .4 .4 .4 2.2 .4-.7 .4-1.1 .5 .5 .4 1.7 .4-2.7 .4 2 .4-3.3 .5 .6 .4-1.5 .4-.9 .4 .6 .4 .5 .5 .1 .4 .3 .4 3.3 .4-1.9 .4 0 .5 0 .4 2.4 .4-1.6 .4-.5 .4-.9 .5 0 .4 1.4 .4 1.1 .4-.8 .4-.2 .5-.6 .4 1 .4-1.4 .4 1 .4-.1 .4-2.1 .5 1.8 .4-1.9 .4 2.1 .4-3.3 .4 1.2 .5 2.7 .4-1 .4-.9 .4 .4 .4 1.3 .5-2 .4 .3 .4 1.2 .4 .9 .4-.8 .5-1.4 .4 3.3 .4-.8 .4-2.3 .4 .1 .5 2.2 .4-.9 .4-.1 .4-2.5 .4 1.1 .5-.1 .4 1 .4-2.7 .4-2.3 .4-1.4 .5 5 .4 1.5 .4-1.3 .4 1.7 .4-.2 .5-.5 .4 1.3 .4-.2 .4-2 .4 2.5 .5 0 .4-2.1 .4 3.1 .4-1.4 .4 .7 .5 0 .4-1.8 .4-1.3 .4 4.2 .4-3.9 .5 2.3 .4-1.4 .4-.1 .4 0 .4-.5 .5 4.3 .4-1.2 .4 .4 .4-2.3 .4 2.4 .5-2.4 .4 2.3 .4-2.1 .4-1.3 .4-.4 .5 2.8 .4-1.4 .4-.1 .4 1.9 .4 .6 .5 .2 .4-2.3 .4 2.1 .4-1.1 .4-3 .5 .5 .4 1.8 .4-1.5 .4-.4 .4 .9 .5-.4 .4-2.6 .4 1.5 .4-1.1 .4-1.2 .5 3.4 .4-2.3 .4 3.3 .4 .8 .4 .7 .5-3 .4 1.9 .4-1.3 .4-.1 .4 .4 .5 1.8 .4-2.9 .4 1.1 .4 .1 .4-.6 .5-1.6 .4 .2 .4 2.9 .4-2 .4 .5 .5 .5 .4-1.3 .4 3.6 .4-.8 .4-3.3 .5 0 .4 .8 .4-.7 .4 2.7 .4-1.5 .5-.5 .4 .3 .4-1.2 .4 .8 .4 3.4 .5-3.1 .4 2.9 .4-3.9 .4 1.2 .4-.1 .5-1.2 .4 2.8 .4-.5 .4 .8 .4-1.4 .5-.2 .4-.2 .4-3.4 .4-2.1 .4-1.6 .5-2.4 .4-2.5 .4 3.1 .1-2.1 .3 4 .4-1.2 .5 5.7 .4-1.8 .4 1.7 .4 1.1 .4-1.6 .5 3.7 .4-.5 .4-1.8 .4-2.3 .4 1.2 .5-.9 .4-.8 .4 2.2 .4-.5 .4-.5 .4 .3 .5-3 .4-.1 .4 .4 .4 1.7 .4 3.1 .5-2.6 .4 2.9 .4-.4 .4 2.3 .4-2.9 .5 .1 .4 2.3 .4 .1 .4 0 .4-.4 .5 .9 .4-1.9 .4 1.6 .4-1 .4 .8 .5-1.4 .4 2.6 .4-.5 .4 .1 .4 2.2 .5-1.2 .4-1.4 .4 .7 .4-2.5 .4 .1 .5 .7 .4 2.3 .4-2.4 .4 .9 .4 .9 .5-.2 .4-2.9 .4 .6 .4-1.2 .4 2.7 .5-1.1 .4 2.2 .4-2.4 .4 1.1 .4-1.7 .5 2.1 .4 1.5 .4-.5 .4 .1 .4-1.2 .5 .9 .4-2.3 .4 2 .4 .6 .4-3.6 .5 .8 .4 1.5 .4-.1 .4-.2 .4 1 .5-2.5 .4-.3 .4 1.6 .4-1.9 .4 2 .5-1.1 .4-1.9 .4 1.2 .4 1.1 .4-1.7 .5-.9 .4-1 .4 1.7 .4-1.4 .4-3 .5-3.1 .4-1.2 .2 .4 .2 .2 .4 2.4 .4 .1 .5 3 .4 2.6 .4 1.6 .4-.8 .4-.2 .5-.2 .4 1.1 .4-1.2 .4 .4 .4-.4 .5 1 .4-.6 .4 2.3 .4-1.8 .4 .9 .5-1.7 .4-.4 .4-.1 .4 1.2 .4-2.4 .5 1.1 .4-4.2 .4 3.7 .4 2.3 .4-.2 .5-.6 .4-2.7 .4-2.7 .4 1.1 .4-.8 .5-2.4 .4 1.1 .4-.5 .4 2 .4 .6 .5 1.1 .4 1 .4 .8 .4 .8 .4-2.4 .5 1.5 .4-.5 .4-.3 .4-1.2 .4 .9 .5-.8 .4-1.9 .2-1.4 .2-.6 .4 .9 .4 2.5 .5 .3 .4 2 .4-.6 .4-1 .4 1.7 .5-.5 .4-1 .4 .7 .4 1.5 .4-1.7 .5 .9 .4 2.1 .4-2.1 .4 2.6 .4-2.8 .5 1.1 .4 .3 .4 1.4 .4-.7 .4-1.7 .5 2 .4-2.2 .4 .2 .4 3.4 .4-2 .5 1.5 .4 .6 .4 0 .4-2.1 .4-2 .4 .6 .5-1.5 .4-1.1 .4 1.3 .4-1 .4-1.5 .5 .5 .4 3.2 .4-1.8 .4 2.1 .4-.3 .5 1.4 .4 .2 .4 2.3 .4-1.6 .4-1.3 .5 1.6 .4-.5 .4-.8 .4 0 .4-1.8 .5 .5 .4 0 .4-1.6 .4 2.5 .4-1 .5 1.2 .4 .4 .4-1.8 .4 2.1 .4-1.1 .5 .4 .4-1.6 .4 .7 .4-.4 .4-1 .5 2.4 .4-1.1 .4 2.5"/>
<path fill="none" stroke="#00d8da" stroke-width="4.0" stroke-linejoin="round" d="M335.8 537.2 l1.7-1.5 1.6 2.5 1.7 .9 1.7-1.5 1.7-3.5 1.7 4.2 1.6 .4 1.7-.8 1.7 1.1 1.7 0 1.6 .5 1.7-2.5 1.7 2.1 1.7 1.4 1.7 .9 1.6-1.3 1.7-.6 1.7 .8 1.7 3.6 1.7-1.9 1.6 1 1.7 .9 1.7-3.1 1.7 1.9 1.7 1.6 1.6-.1 1.7-.6 1.7 1.4 1.7 .6 1.7-.2 1.6 .8 1.7-.8 1.7 2.3 1.7 .2 1.7-2.1 1.6 .6 1.7-.1 1.7 1 1.7 .3 1.7-.1 1.6 .7 1.7-1.1 1.7 1.2 1.7 1 1.7-3.1 1.6 1.9 1.7-1.2 1.7 1.5 1.7-1.5 1.7 3.2 1.6-1.2 1.7-.9 1.7 2.7 1.7 .6 1.6 .9 1.7-1.2 1.7-3.1 1.7 2.7 1.7 1 1.6-.1 1.7 .7 1.7-2.6 1.7 .2 1.7 3 1.6 .9 1.7-4.3 1.7 2.4 1.7-1.3 1.7 2.8 1.6-2.6 1.7-3.5 1.7 3.4 1.7 .8 1.7-.7 1.6-.6 1.7 2.9 1.7-1.7 1.7-1.3 1.7 2.3 1.6 .6 1.7 1.7 1.7-1.9 1.7 2.3 1.7 .2 1.6-.6 1.7-3.1 1.7 1.7 1.7 1.9 1.7-3.1 1.6 2 1.7-1.4 1.7 2.5 1.7 3.1 1.6-2.7 1.7-.5 1.3-3.5 1.7 2.9 1.6 2 1.7-.8 1.7 .4 1.7 1.8 1.7-2.1 1.6 3.1 1.7-2.7 1.7-.6 1.7 .5 1.7-.9 1.6-5 1.7 3.8 1.7 5 1.7-1.6 1.7 .2 1.6 1 1.7-.2 1.7-.7 1.7-2 1.2 2.7 1.7 2.6 1.7-2.8 1.7 4.1 1.7-.4 1.6-.9 1.7-1 1.7 1.1 1.7 .3 1.7 1.6 1.6 .9 1.7-.1 1.7-2.8 1.7 .7 1.6-.5 1.7 2.3 1.7-2.4 1.7-.2 1.7 1.9 1.6-.2 1.7 1.4 1.7-.3 1.7-3.1 1.7-2.6 1.6-1.4 1.7 4.7 1.7 1.9 1.7 .3 1.7-3 1.6 1.3 1.7 1.9 1.7-1.5 1.7 1.5 1.7 .6 1.6-2.1 1.7-1.7 1.7 2.6 1.7-1.3 1.7-1.7 1.6 3.2 1.7 2.5 1.7-2.1 1.7-.2 1.7 .6 1.6-2 1.7-.2 1.7 2.2 1.7 1.1 1.7-4.2 1.6 2.6 1.7-.5 1.7 1.4 1.7 1.5 1.7-2 1.6-1.5 1.7-.5 1.7 1.4 1.7-1.1 1.6-1.6 1.7-3 1.3 1.6 1.7-1.7 1.6 3.7 1.7 2.4 1.7-1 1.7-1.1 1.7 2.7 1.6 1 1.7-1.5 1.7-4.7 1.7-.7 1.2 2.3 1.7 1.2 1.7-1.8 1.7 4.5 1.7-2 1.6 0 1.7 .3 1.7 .8 1.7-.8 1.7-.4 1.6-1 1.7-.3 1.7 .1 1.7-2.5 1.7-.4 1.6-1.2 1.3 2.7 1.7 2.4 1.7 2.1 1.6-2 1.7 .7 1.7-.5 1.7-3.6 1.6-2 1.3-.4 1.7 5.5 1.7 1.5 1.6 2.2 1.7-.9 1.7-1 1.7 1.4 1.7-2.9 1.6 1 1.7 .5 1.7-.8 1.7-.3 1.7-.9 1.6 .7 1.7-1.1 1.7-.1 1.7 .1 1.7-.1 1.6 1.2 1.7 1.6 1.7-2.6 1.7-1.2 1.7 3.9 1.6-2.5 1.7-2.8 1.7-.3 1.7-2.2 1.7-4.8 1.6 .7 1.3-1.1 1.7 3.9 1.7-1.3 1.6 2.3 1.7-.6 1.7 3 1.7-4.9 1.3 3.4 1.6 .2 1.7 .5 1.7-1.8 1.7-.1 1.6-1.8 1.3-.9 1.7 3 1.6 .9 1.7 1.3 1.7 1.4 1.7-.6 1.7-.2 1.6-2.6 1.3-2.4 1.7 0 1.7 4.9 1.6-.6 1.7 1.1 1.7-1.3 1.3 1.7 1.6-3 1.7 2.9 1.7-1.4 1.7-4 1.2 .1 1.7 .6 1.7 3.5 1.7 1.4 1.7-1.2 1.6-.3 1.3-1.7 1.7 2.5 1.7-2.6 1.6-1 1.3 1.6 1.7 2.7 1.7-2.4 1.4-.4 1.5 .1 1.7-1.4 1.7 1.5 1.2 .1 1.7 1.1 1.7 2.6 1.7 1.4 1.6-4.1 1.7-2.3 1.3-1.5 1.6 5.3 1.7 .7 1.7-.9 1.7-2.3 1.7-2.8 1.2 1.8 1.7 1.1 1.7 3 1.7-.7 1.6-2.3 1.7-.7 1.7 .2 1.3 2.3 1.6 .7 1.7 2.6 1.7-1.8 1.7-1.6 1.5 1.2 1.4-.4 1.7 2.1 1.7-.1 1.7-.7 1.6-3.3 1.7-.7 1.3-1.3 1.7 2.7 1.6-.1 1.7 .3 1.3 .8 1.7-1 1.6 2.1 1.7-2.2 1.7-.1 1.5-.1 1.4 .2 1.7 1.1 1.7-1.8 1.7-1.4 1.7-3.9 1.2 .6 1.7 4.1 1.7 .9 1.6 .6 1.3-.5 1.7-.4 1.7-.7 1.2-1.5 1.7 3.3 1.7 1.5 1.7 2.8 1.6-.3 1.7-.4 1.7-1.2 1.3-.7 1.6 1.3 1.7 1.7 1.7-2.7 1.7 .4 1.7-.7 1.6-2.7 1.7 3.1 1.3 .5 1.7 .6 1.6 1.6 1.7-3.7 1.7-.7 1.3 2.3 1.6 1.7 1.7 2.4 1.7-1.1 1.7-2.2 1.7-1.5 1.2 1.9 1.7-1 1.7 .2 1.7 .8 1.6-4.3 1.7 4.5 1.7-3.8 1.7 1.7 1.2-.8 1.7 2.1 1.7-.2 1.7 .2 1.6 2.1 1.7-.4 1.7-.3 1.7 2.5 1.7-1.3 1.6 1.4 1.7-1.8 1.7-1 1.7 3.6 1.7-1.6 1.6-1.7 1.7 .8 1.7 1.5 1.7-.6 1.7-.6 1.6-4.3 1.7 .9 1.3-2.5 1.7 2.3 1.6 4.1 1.7-1.2 1.7 .9 1.7-.9 1.7 2.7 1.6-2.2 1.7 .8 1.7-.7 1.7 0 1.7-2 1.6-.7 1.7 1.9 1.7-1.7 1.7 .6 1.7 3.4 1.6-2.9 1.7 0 1.7 2.8 1.7-2.4 1.6 0 1.7 .8 1.7 1.6 1.7-2.9 1.7 1.2 1.6-1.6 1.7 1.8 1.7 .3 1.7-.7 1.7-.7 1.6-.4 1.7 .7 1.7 .2 1.7 1.1 1.7-2.1 1.6 .1 1.7 1.4 1.7-2 1.7 2.7 1.7-2.4 1.6-1.9 1.3 2.6 1.7 1.2 1.7-1.3 1.6 1.6 1.7-2.9 1.7-1.4 1.7-.8 1.7 2.3 1.6 .6 1.7-2.6 1.7 2.1 1.7 .3 1.7 1.1 1.6-.1 1.7-.8 1.7 .6 1.7 2.8 1.7-4.6 1.6 .1 1.7-1.3 1.7 .8 1.7 2.3 1.6 1.9 1.7-1.5 1.7-.7 1.7-.5 1.7 3.7 1.6-.3 1.7-2.1 1.7-.2 1.7-.5 1.7 1.4 1.6-1.5 1.7 1.7 1.7-6.7 1.7 .2 1.7-1 1.6 .6 1.7-.2 1.7 1.8 1.7 2.1 1.7 1.8 1.6-3.5 1.7-.2 1.7 4.1 1.7-.8 1.7 1.2 1.6 0 1.7 1.3 1.7-2.6 1.7-.4 1.7 .2 1.2-1.8 1.7 2.1 1.7-1.6 1.7 .8 1.6 1.2 1.7 .2 1.7 .8 1.7 1 1.6-2.6 1.7 4.2 1.7-3.2 1.7 .8 1.7 1.9 1.6-1.5 1.7-1.9 1.7-.1 1.7 2.8 1.7-1.1 1.6-1.2 1.7-.1 1.7 .7 1.7 1 1.7 .5 1.6-2.6 1.7 2 1.7-5.1 1.7 .1 1.2 1.4 1.7-3.1 1.7 2.7 1.7 .3 1.7 .3 1.6 .2 1.7-2.8 1.7 1.8 1.7 1.3 1.7 1 1.6 1.7 1.7 .4 1.7-1.5 1.7-.7 1.7-.1 1.6 3.5 1.7 .3 1.7-1.3 1.7 .4 1.7 .6 1.6-.2 1.7-1.9 1.7 1.7 1.7 .1 1.6-.9 1.7-1.3 1.7 1.1 1.7 2.1 1.7-.6 1.6-3.3 1.7 1.9 1.7 .1 1.7-.3 1.7 .2 1.6-2 1.7 2.8 1.7-.3 1.7-1.3 1.7 1.1 1.6-.7 1.7 1.4 1.7-2 1.7-2.9 1.7 3.7 1.6-2.8 1.7 1.2 1.7 .9 1.7-1.1 1.7-3.7 1.6 2.2 1.7 1.1 1.7 2.2 1.7-2.4 1.7 1.6 1.6-4.4 1.6 2.3 1.4-3 1.7-.2 1.6 2.1 1.7 3.1 1.7 1 1.7-1 1.6 1.3 1.7 .3 1.7-1.2 1.7-2.2 1.7 2.9 1.6 0 1.7-.9 1.7-3.1 1.7-.5 1.7 .2 1.6-2.8 1.7 2.9 1.7 .4 1.7 .9 1.7 .3 1.6 2.9 1.7 .2 1.7-2.9 1.7 2.3 1.7 .6 1.6-3.3 1.7 3.9 1.7-1.1 1.7-.9 1.7 .8 1.6-4.1 1.6 1.8 1.4-.6 1.7 2.8 1.6 .8 1.7-.1 1.7 .6 1.7 .4 1.7-3.4 1.6-1.3 1.7 1.8 1.7 .8 1.7 0 1.7-.5 1.6 .5 1.7-.1 1.7-.4 1.7-1.2 1.6 1.6 1.7-1.2 1.7 1.3 1.7-.5 1.7-1.4 1.6 1.7 1.7-1.4 1.7 3.5 1.7-2.5 1.7 1.3 1.6-2 1.7 1.2 1.7 .2 1.7-.3 1.7 2.6 1.6-4.3 1.7 .4 1.7-.6 1.7-1.2 1.7 1.8 1.6 .9 1.7 .1 1.7 .9 1.7-2.3 1.7-.5 1.6 1.3 1.7-.6 1.7-.7 1.7 2.7 1.7-1.3 1.6-6.3 1.4 1.4 1.6 .7 1.7 4.6 1.6-3.4 1.7 0 1.7-3.3 1.7 2.6 1.6 1.9 1.7 2.5 1.7 .2 1.7 1 1.7 .6 1.6-3.1 1.7 1.5 1.7-1.6 1.7 2.6 1.7-.9 1.6-.1 1.7 1.2 1.7-1.4 1.7-2 1.7 .6 1.6-1.3 1.7-.8 1.5-1.1 1.5-.1 1.6 2.4 1.7 .1 1.7 2.3 1.7-3 1.7-.2 1.6 1.6 1.7-4.9 1.7-2.6 1.7 4.7 1.7 .7 1.6 .1 1.3-1.8 1.7 1.6 1.7-.4 1.6-.5 1.7 3.5 1.7 0 1.7-2.6 1.7 3.1 1.6-3.5 1.7-.7 1.7 1.2 1.7 1.4 1.6-.4 1.7 .3 1.7-2.9 1.7 3.1 1.7-.4 1.6-2.3"/>
</g>
<circle cx="629.3" cy="517.0" r="11.5" fill="#000"/>
<circle cx="678.5" cy="489.3" r="11.5" fill="#000"/>
<circle cx="742.8" cy="318.8" r="11.5" fill="#000"/>
<circle cx="759.5" cy="420.7" r="11.5" fill="#000"/>
<circle cx="796.0" cy="516.0" r="11.5" fill="#000"/>
<circle cx="813.8" cy="522.3" r="11.5" fill="#000"/>
<circle cx="843.0" cy="496.2" r="11.5" fill="#000"/>
<circle cx="866.4" cy="431.1" r="11.5" fill="#000"/>
<circle cx="883.0" cy="485.8" r="11.5" fill="#000"/>
<circle cx="895.8" cy="444.0" r="11.5" fill="#000"/>
<circle cx="947.0" cy="519.2" r="11.5" fill="#000"/>
<circle cx="986.4" cy="526.5" r="11.5" fill="#000"/>
<circle cx="1193.5" cy="506.0" r="11.5" fill="#000"/>
<circle cx="629.0" cy="632.3" r="11.5" fill="#000"/>
<circle cx="682.0" cy="591.4" r="11.5" fill="#000"/>
<circle cx="735.6" cy="598.0" r="11.5" fill="#000"/>
<circle cx="759.3" cy="625.9" r="11.5" fill="#000"/>
<circle cx="793.0" cy="594.5" r="11.5" fill="#000"/>
<circle cx="842.6" cy="594.5" r="11.5" fill="#000"/>
<circle cx="863.5" cy="629.0" r="11.5" fill="#000"/>
<circle cx="887.3" cy="643.2" r="11.5" fill="#000"/>
<circle cx="994.8" cy="646.0" r="11.5" fill="#000"/>
<circle cx="1187.0" cy="636.2" r="11.5" fill="#000"/>
<circle cx="632.0" cy="751.5" r="11.5" fill="#000"/>
<circle cx="682.0" cy="690.8" r="11.5" fill="#000"/>
<circle cx="735.6" cy="688.0" r="11.5" fill="#000"/>
<circle cx="762.4" cy="714.0" r="11.5" fill="#000"/>
<circle cx="788.6" cy="731.0" r="11.5" fill="#000"/>
<circle cx="846.7" cy="710.6" r="11.5" fill="#000"/>
<circle cx="870.0" cy="724.0" r="11.5" fill="#000"/>
<circle cx="890.0" cy="745.0" r="11.5" fill="#000"/>
<circle cx="996.0" cy="751.5" r="11.5" fill="#000"/>
<circle cx="1187.0" cy="755.0" r="11.5" fill="#000"/>
<circle cx="629.0" cy="875.0" r="11.5" fill="#000"/>
<circle cx="675.6" cy="799.3" r="11.5" fill="#000"/>
<circle cx="735.6" cy="803.2" r="11.5" fill="#000"/>
<circle cx="763.0" cy="874.5" r="11.5" fill="#000"/>
<circle cx="789.0" cy="812.0" r="11.5" fill="#000"/>
<circle cx="842.6" cy="830.0" r="11.5" fill="#000"/>
<circle cx="866.3" cy="863.7" r="11.5" fill="#000"/>
<circle cx="886.6" cy="874.5" r="11.5" fill="#000"/>
<circle cx="993.8" cy="884.0" r="11.5" fill="#000"/>
<circle cx="1187.0" cy="873.7" r="11.5" fill="#000"/>
<polygon points="806.5,535.0 837.5,535.0 822.0,567.0" fill="#000"/>
<polygon points="802.1,655.6 833.1,655.6 817.6,684.0" fill="#000"/>
<polygon points="923.4,590.2 954.4,590.2 938.9,621.0" fill="#000"/>
<polygon points="1448.5,620.0 1479.5,620.0 1464.0,652.2" fill="#000"/>
<polygon points="799.7,744.0 830.7,744.0 815.2,773.0" fill="#000"/>
<polygon points="926.9,729.5 957.9,729.5 942.4,760.9" fill="#000"/>
<polygon points="1447.5,729.3 1478.5,729.3 1463.0,761.4" fill="#000"/>
<polygon points="919.8,840.5 950.8,840.5 935.3,870.3" fill="#000"/>
<polygon points="1445.5,856.0 1476.5,856.0 1461.0,886.6" fill="#000"/>
<circle cx="495.5" cy="927.8" r="13.2" fill="none" stroke="#333" stroke-width="2.2"/>
<circle cx="645.0" cy="930.3" r="13.2" fill="none" stroke="#333" stroke-width="2.2"/>
<circle cx="692.8" cy="937.5" r="13.2" fill="none" stroke="#333" stroke-width="2.2"/>
<circle cx="780.0" cy="1037.4" r="13.2" fill="none" stroke="#333" stroke-width="2.2"/>
<circle cx="929.5" cy="1040.6" r="13.2" fill="none" stroke="#333" stroke-width="2.2"/>
<circle cx="1011.3" cy="962.4" r="13.2" fill="none" stroke="#333" stroke-width="2.2"/>
<circle cx="1153.6" cy="1043.5" r="13.2" fill="none" stroke="#333" stroke-width="2.2"/>
<circle cx="1177.0" cy="1016.6" r="13.2" fill="none" stroke="#333" stroke-width="2.2"/>
<circle cx="1315.8" cy="1068.2" r="13.2" fill="none" stroke="#333" stroke-width="2.2"/>
<line x1="167.5" y1="13" x2="167.5" y2="1162" stroke="#1a1a1a" stroke-width="5"/>
<line x1="165" y1="14.2" x2="1679" y2="14.2" stroke="#888" stroke-width="2.4"/>
<line x1="1678.5" y1="13" x2="1678.5" y2="1162" stroke="#909090" stroke-width="3"/>
<line x1="165" y1="1150.7" x2="1681" y2="1150.7" stroke="#000" stroke-width="4.5"/>
<line x1="1679" y1="1150" x2="1679" y2="1162" stroke="#333" stroke-width="5"/>
<line x1="251.8" y1="1150" x2="251.8" y2="1174" stroke="#1a1a1a" stroke-width="5"/>
<text x="251.8" y="1223.3" font-size="45.5" text-anchor="middle" fill="#1a1a1a" stroke="#fff" stroke-width="1.1" stroke-linejoin="round" font-family="&apos;Liberation Sans&apos;, sans-serif">10</text>
<line x1="419.8" y1="1150" x2="419.8" y2="1174" stroke="#1a1a1a" stroke-width="5"/>
<text x="419.8" y="1223.3" font-size="45.5" text-anchor="middle" fill="#1a1a1a" stroke="#fff" stroke-width="1.1" stroke-linejoin="round" font-family="&apos;Liberation Sans&apos;, sans-serif">20</text>
<line x1="587.7" y1="1150" x2="587.7" y2="1174" stroke="#1a1a1a" stroke-width="5"/>
<text x="587.7" y="1223.3" font-size="45.5" text-anchor="middle" fill="#1a1a1a" stroke="#fff" stroke-width="1.1" stroke-linejoin="round" font-family="&apos;Liberation Sans&apos;, sans-serif">30</text>
<line x1="755.7" y1="1150" x2="755.7" y2="1174" stroke="#1a1a1a" stroke-width="5"/>
<text x="755.7" y="1223.3" font-size="45.5" text-anchor="middle" fill="#1a1a1a" stroke="#fff" stroke-width="1.1" stroke-linejoin="round" font-family="&apos;Liberation Sans&apos;, sans-serif">40</text>
<line x1="923.6" y1="1150" x2="923.6" y2="1174" stroke="#1a1a1a" stroke-width="5"/>
<text x="923.6" y="1223.3" font-size="45.5" text-anchor="middle" fill="#1a1a1a" stroke="#fff" stroke-width="1.1" stroke-linejoin="round" font-family="&apos;Liberation Sans&apos;, sans-serif">50</text>
<line x1="1091.5" y1="1150" x2="1091.5" y2="1174" stroke="#1a1a1a" stroke-width="5"/>
<text x="1091.5" y="1223.3" font-size="45.5" text-anchor="middle" fill="#1a1a1a" stroke="#fff" stroke-width="1.1" stroke-linejoin="round" font-family="&apos;Liberation Sans&apos;, sans-serif">60</text>
<line x1="1259.5" y1="1150" x2="1259.5" y2="1174" stroke="#1a1a1a" stroke-width="5"/>
<text x="1259.5" y="1223.3" font-size="45.5" text-anchor="middle" fill="#1a1a1a" stroke="#fff" stroke-width="1.1" stroke-linejoin="round" font-family="&apos;Liberation Sans&apos;, sans-serif">70</text>
<line x1="1427.5" y1="1150" x2="1427.5" y2="1174" stroke="#1a1a1a" stroke-width="5"/>
<text x="1427.5" y="1223.3" font-size="45.5" text-anchor="middle" fill="#1a1a1a" stroke="#fff" stroke-width="1.1" stroke-linejoin="round" font-family="&apos;Liberation Sans&apos;, sans-serif">80</text>
<line x1="1595.4" y1="1150" x2="1595.4" y2="1174" stroke="#1a1a1a" stroke-width="5"/>
<text x="1595.4" y="1223.3" font-size="45.5" text-anchor="middle" fill="#1a1a1a" stroke="#fff" stroke-width="1.1" stroke-linejoin="round" font-family="&apos;Liberation Sans&apos;, sans-serif">90</text>
<line x1="335.8" y1="1150" x2="335.8" y2="1162" stroke="#1a1a1a" stroke-width="5"/>
<line x1="503.7" y1="1150" x2="503.7" y2="1162" stroke="#1a1a1a" stroke-width="5"/>
<line x1="671.7" y1="1150" x2="671.7" y2="1162" stroke="#1a1a1a" stroke-width="5"/>
<line x1="839.6" y1="1150" x2="839.6" y2="1162" stroke="#1a1a1a" stroke-width="5"/>
<line x1="1007.6" y1="1150" x2="1007.6" y2="1162" stroke="#1a1a1a" stroke-width="5"/>
<line x1="1175.5" y1="1150" x2="1175.5" y2="1162" stroke="#1a1a1a" stroke-width="5"/>
<line x1="1343.5" y1="1150" x2="1343.5" y2="1162" stroke="#1a1a1a" stroke-width="5"/>
<line x1="1511.4" y1="1150" x2="1511.4" y2="1162" stroke="#1a1a1a" stroke-width="5"/>
<text x="922.5" y="1309.4" font-size="55" text-anchor="middle" fill="#1a1a1a" stroke="#fff" stroke-width="1.1" stroke-linejoin="round" font-family="&apos;Liberation Sans&apos;, sans-serif">2θ (degree)</text>
<text transform="translate(70.4,552.5) rotate(-90)" font-size="54" text-anchor="middle" fill="#1a1a1a" stroke="#fff" stroke-width="1.1" stroke-linejoin="round" font-family="&apos;Liberation Sans&apos;, sans-serif">Intensity(a.u.)</text>
<text x="1550.5" y="574.3" font-size="54" fill="#1a1a1a" stroke="#fff" stroke-width="1.1" stroke-linejoin="round" font-family="&apos;Liberation Sans&apos;, sans-serif">(e)</text>
<text x="1550.5" y="687.3" font-size="54" fill="#1a1a1a" stroke="#fff" stroke-width="1.1" stroke-linejoin="round" font-family="&apos;Liberation Sans&apos;, sans-serif">(d)</text>
<text x="1550.5" y="805.3" font-size="54" fill="#1a1a1a" stroke="#fff" stroke-width="1.1" stroke-linejoin="round" font-family="&apos;Liberation Sans&apos;, sans-serif">(c)</text>
<text x="1550.5" y="941.3" font-size="54" fill="#1a1a1a" stroke="#fff" stroke-width="1.1" stroke-linejoin="round" font-family="&apos;Liberation Sans&apos;, sans-serif">(b)</text>
<text x="1550.5" y="1112.3" font-size="54" fill="#1a1a1a" stroke="#fff" stroke-width="1.1" stroke-linejoin="round" font-family="&apos;Liberation Sans&apos;, sans-serif">(a)</text>
<circle cx="230" cy="119" r="15" fill="#000"/>
<polygon points="527.6,100.5 567,100.5 547.3,140.7" fill="#000"/>
<circle cx="392" cy="228.6" r="13" fill="none" stroke="#222" stroke-width="2.4"/>
<text x="285.5" y="138.5" font-size="63" stroke="#fff" stroke-width="1.1" stroke-linejoin="round" fill="#1a1a1a" font-family="&apos;Liberation Sans&apos;, sans-serif">Cr<tspan font-size="43" stroke-width="0.3">3</tspan>C<tspan font-size="43" stroke-width="0.3">2</tspan></text>
<text x="593.5" y="140.5" font-size="63" stroke="#fff" stroke-width="1.1" stroke-linejoin="round" fill="#1a1a1a" font-family="&apos;Liberation Sans&apos;, sans-serif">Cr<tspan font-size="43" stroke-width="0.3">7</tspan>C<tspan font-size="43" stroke-width="0.3">3</tspan></text>
<text x="450.5" y="246.5" font-size="63" stroke="#fff" stroke-width="1.1" stroke-linejoin="round" fill="#1a1a1a" font-family="&apos;Liberation Sans&apos;, sans-serif">Cr<tspan font-size="43" stroke-width="0.3">2</tspan>O<tspan font-size="43" stroke-width="0.3">3</tspan></text>
<rect x="1057.5" y="43.5" width="599" height="401.5" fill="#fff"/>
<path fill="none" stroke="#4a4aa6" stroke-width="1.8" stroke-linejoin="round" d="M1117.5 199.1 l2.9 .9 2.9-.1 2.8-.7 2.9 0 2.9 .1 2.9 .3 2.9-.3 2.8-.4 2.9 .5 2.9-.4 2.9 1.2 2.9 .1 2.8-1.7 2.9 1.2 2.9-.3 2.9 .6 2.9-.5 2.8-.2 2.9 .2 2.9-.6 2.9 .5 2.9 .2 2.8-.7 2.9 .8 2.9-.3 2.9 .3 2.9-1.5 2.8 .6 2.9 .7 2.9-.5 2.9 .3 2.9 .2 2.8-1.5 2.9 .1 2.9 1.1 2.9 0 2.9-.3 2.8-.8 2.9 .2 2.9 .2 2.9-.2 2.9-.1 2.8-.1 2.9 .7 2.9-1.3 2.9 .9 2.9 0 2.8 .3 2.9-1.6 2.9 1.1 2.9-.3 2.9-.5 2.8-1 2.9-.3 2.9 0 2.9 .9 2.9-1.4 2.8-.3 2.9-.5 2.9-.9 2.9-.8 2.9-1.1 2.8-2.1 2.9-.1 2.9-2.8 2.9-.5 2.9-.9 2.8 1.1 2.9 1 2.9-.3 2.9-1.7 2.9-6.9 2.8-6.4 2.9-16 2.9-15.1 2.9-20.3 2.9-23.3 2.8-18.9 2.9-9.4 2.9-8.8 2.9 7.6 2.9 13.1 2.8 18.9 2.9 28.3 2.9 10.5 2.9-2.4 2.9-3.4 2.8-5.3 2.9 3.5 2.9 15.2 2.9 15 2.9 12.3 2.8 9.3 2.9 3.8 2.9 1 2.9 2.9 2.9 1.3 2.8 3.3 2.9 .9 2.9 .1 2.9-.2 2.9 1.6 2.8-.6 2.9-.6 2.9 .1 2.9 1.4 2.9-.4 2.8-.4 2.9 .6 2.9-.6 2.9 .7 2.9-.7 2.8 .8 2.9-.9 2.9 .5 2.9-1.3 2.9 .2 2.8-.8 2.9-.2 2.9-2.1 2.9 .7 2.9-.9 2.8-1.4 2.9-1.9 2.9-.2 2.9-1.7 2.9 .1 2.8 1.1 2.9 2.5 2.9 .7 2.9 0 2.9 .7 2.8 0 2.9-.4 2.9-.3 2.9-.9 2.9 .1 2.8 2.1 2.9 1.5 2.9 1.1 2.9 2.8 2.9 .1 2.8 .5 2.9-.5 2.9-.5 2.9-.6 2.9 1 2.8-1.7 2.9 1.1 2.9-.5 2.9-.5 2.9 .3 2.8-.9 2.9 1 2.9-1.4 2.9 .6 2.9-.3 2.8 .3 2.9-.5 2.9 .7 2.9-.3 2.9 0 2.8-1.7 2.9 .1 2.9 .5 2.9 .3"/>
<path fill="none" stroke="#40c464" stroke-width="1.8" stroke-linejoin="round" d="M1117.5 273.7 l2.9 .5 2.9-.9 2.8 1.1 2.9 .1 2.9-.5 2.9-.4 2.9 .5 2.8 .6 2.9-.2 2.9 .6 2.9-.5 2.9-.7 2.8 .8 2.9-.9 2.9 1.2 2.9-.9 2.9 1.3 2.8-.7 2.9 0 2.9-.6 2.9 1.3 2.9 .2 2.8-.3 2.9 0 2.9 .1 2.9-.1 2.9-.1 2.8-1.1 2.9 .8 2.9 .4 2.9-1.7 2.9 .2 2.8 .9 2.9-1.4 2.9 .3 2.9 1 2.9-1 2.8 .9 2.9-1.2 2.9 0 2.9-.5 2.9 1.1 2.8 .2 2.9-1.5 2.9 .1 2.9 .6 2.9-1.5 2.8-.4 2.9 .1 2.9-.2 2.9-.1 2.9-.3 2.8-.8 2.9-.2 2.9-2.1 2.9-2.1 2.9-1 2.8-3.2 2.9-1.5 2.9-2.7 2.9-2.2 2.9-3.3 2.8-4.8 2.9-2.3 2.9-3.1 2.9-3.3 2.9 3.8 2.8 3.4 2.9 1.5 2.9 3.6 2.9-1 2.9-.3 2.8-1 2.9-.5 2.9 .5 2.9-1.1 2.9 .6 2.8-1.3 2.9 .7 2.9-1.9 2.9-5.2 2.9-6.5 2.8-2.6 2.9 1.9 2.9 4.4 2.9 5.4 2.9 4 2.8 4.5 2.9 .7 2.9-2.1 2.9-.5 2.9 2.9 2.8 1.5 2.9 3.9 2.9 4 2.9 2.9 2.9 4 2.8 2.1 2.9 2.2 2.9 .5 2.9 .4 2.9 .6 2.8-1 2.9 .5 2.9 0 2.9-.9 2.9 .2 2.8 1.3 2.9-.6 2.9 .5 2.9-1.2 2.9 .7 2.8-.4 2.9 0 2.9-1 2.9 .1 2.9-.3 2.8 .7 2.9-.3 2.9-.3 2.9 .2 2.9 .2 2.8 .3 2.9-.3 2.9 .1 2.9-.2 2.9-.4 2.8-.2 2.9 .4 2.9 .2 2.9 .3 2.9-.2 2.8-.6 2.9 .6 2.9-1.2 2.9 1.5 2.9-.9 2.8 1.1 2.9 .4 2.9-.7 2.9 .3 2.9 1.2 2.8-1.1 2.9 1.1 2.9-.5 2.9 0 2.9 1 2.8-.4 2.9 .7 2.9-.7 2.9 1 2.9-.3 2.8-.6 2.9 .4 2.9 .2 2.9-.4 2.9-1 2.8 .6 2.9-.3 2.9 .3 2.9-.9 2.9 0 2.8-.8 2.9 .1 2.9 .5 2.9-.2"/>
<path fill="none" stroke="#e06464" stroke-width="1.8" stroke-linejoin="round" d="M1117.5 343.4 l2.9-.8 2.9-.3 2.8 .1 2.9 .5 2.9-.5 2.9-.1 2.9 1.1 2.8 .3 2.9-1.5 2.9 0 2.9 .4 2.9 .5 2.8 .7 2.9-.7 2.9 .2 2.9 0 2.9 .5 2.8-.2 2.9-.9 2.9 .9 2.9-1 2.9 1.3 2.8-1.1 2.9 .3 2.9 .2 2.9-.7 2.9 1 2.8 .2 2.9-.8 2.9-.7 2.9 .1 2.9 .9 2.8-.5 2.9-.1 2.9-.7 2.9 1 2.9-1.1 2.8 0 2.9 .7 2.9 0 2.9-.8 2.9 1.3 2.8-.4 2.9 .1 2.9-.1 2.9-.5 2.9 .2 2.8-1.2 2.9 1 2.9 0 2.9-.3 2.9-1.2 2.8-.2 2.9 .8 2.9-1.7 2.9 .4 2.9-1.2 2.8 .1 2.9 .2 2.9-.5 2.9-2.6 2.9-.5 2.8-1.3 2.9-.3 2.9-2.7 2.9-7.4 2.9-7.1 2.8-9.8 2.9-3.6 2.9-2.9 2.9 2.9 2.9 4.3 2.8 4.2 2.9 3.1 2.9 4.9 2.9 2.2 2.9-3.5 2.8-1 2.9-3.5 2.9-2.2 2.9-.8 2.9-1.4 2.8-1.1 2.9-5.3 2.9-9.4 2.9-8.2 2.9-8.6 2.8-7.4 2.9 3 2.9 6 2.9 8 2.9 7 2.8 5.2 2.9 2.2 2.9 1.3 2.9 1.5 2.9 2.4 2.8 5.8 2.9 7.9 2.9 5.8 2.9 4.7 2.9 3.9 2.8 3.5 2.9 2.2 2.9 .5 2.9 .1 2.9 1 2.8-1.2 2.9 1.3 2.9 0 2.9-.2 2.9 .5 2.8-.5 2.9 1.1 2.9-.6 2.9 1 2.9 .5 2.8-1.1 2.9-1 2.9-.1 2.9 .3 2.9-.3 2.8 .2 2.9-.4 2.9-1.5 2.9-.7 2.9 1 2.8-.9 2.9 .4 2.9-2 2.9 .2 2.9 .3 2.8-.7 2.9 .6 2.9 .1 2.9-.4 2.9 .4 2.8 0 2.9 1.4 2.9-.4 2.9 1 2.9 .5 2.8-.8 2.9 .4 2.9 .5 2.9 .7 2.9-1 2.8 1.1 2.9 .9 2.9-.8 2.9 1 2.9-.8 2.8-.6 2.9 1.2 2.9 .1 2.9 .2 2.9-1.5 2.8 .7 2.9-.6 2.9 1 2.9-1.5 2.9 .1 2.8-.2 2.9 .3 2.9 1.1 2.9-1.1"/>
<path fill="none" stroke="#505050" stroke-width="1.8" stroke-linejoin="round" d="M1117.5 417.1 l2.9-.3 2.9 1 2.8-.5 2.9 .2 2.9-1.4 2.9 1.4 2.9-1.2 2.8 .7 2.9-.7 2.9 .6 2.9-1.2 2.9 .6 2.8 1 2.9-1.5 2.9 .4 2.9 .9 2.9-1.7 2.8 1.5 2.9-.1 2.9-.1 2.9 .1 2.9-.9 2.8-.2 2.9 .4 2.9-.5 2.9-.1 2.9-.3 2.8 .5 2.9-.3 2.9 1.1 2.9-.2 2.9 .4 2.8-.7 2.9-.5 2.9 1 2.9-1.1 2.9 .4 2.8 .4 2.9 0 2.9-.2 2.9 .2 2.9-.7 2.8 .5 2.9-.3 2.9-.3 2.9-.2 2.9 .3 2.8 .3 2.9 .5 2.9-.7 2.9 .4 2.9-2.2 2.8 .6 2.9-1.3 2.9-1 2.9-1.1 2.9 .1 2.8-.7 2.9-1.7 2.9-2.1 2.9-3.1 2.9-1.5 2.8-4.1 2.9-7.6 2.9-5.2 2.9-4.3 2.9 2.5 2.8 3.9 2.9 4.6 2.9 2 2.9 3.2 2.9 1.1 2.8-3.1 2.9-3.5 2.9-2.1 2.9-1.5 2.9-2.4 2.8-4.4 2.9-1.9 2.9-3.1 2.9-5.6 2.9-4.8 2.8 1.1 2.9 4 2.9 2.9 2.9 7.3 2.9 4.8 2.8 1.7 2.9 1.7 2.9 2.1 2.9 1.7 2.9 2.4 2.8 2.2 2.9 2.6 2.9 3.2 2.9 2.2 2.9 4.4 2.8 3.3 2.9 1.7 2.9-.7 2.9 .6 2.9-.3 2.8-.2 2.9 .1 2.9 .1 2.9 .4 2.9 .6 2.8-.5 2.9-.1 2.9 1.3 2.9 .1 2.9-1.2 2.8 .1 2.9 .8 2.9-1.1 2.9 .1 2.9-.9 2.8 .7 2.9 .2 2.9-.9 2.9 .2 2.9-.8 2.8 .8 2.9 .1 2.9-1.4 2.9 1 2.9-.5 2.8 1.8 2.9-.8 2.9 .3 2.9 .2 2.9 .9 2.8-.3 2.9 .3 2.9 0 2.9 0 2.9 .7 2.8 .2 2.9-.2 2.9 0 2.9 0 2.9 .3 2.8-.9 2.9 .3 2.9 .9 2.9 .1 2.9-1.7 2.8-.1 2.9 1.6 2.9-.2 2.9-.8 2.9 .8 2.8-1.4 2.9 .1 2.9 1 2.9-1.1 2.9 1 2.8-1.6 2.9 .8 2.9-.1 2.9-.9 2.9 0 2.8 .3 2.9 .1 2.9-.4 2.9 .6"/>
<line x1="1371.7" y1="74" x2="1371.7" y2="412" stroke="#333" stroke-width="1.6" stroke-dasharray="4,3"/>
<line x1="1055.5" y1="40" x2="1055.5" y2="449.5" stroke="#b4b4b4" stroke-width="3"/>
<line x1="1059" y1="41.5" x2="1659" y2="41.5" stroke="#c6c6c6" stroke-width="3"/>
<line x1="1659.2" y1="44" x2="1659.2" y2="449.5" stroke="#d0d0d0" stroke-width="2.5"/>
<line x1="1058.5" y1="42.8" x2="1058.5" y2="449.8" stroke="#161616" stroke-width="2.8"/>
<line x1="1656.4" y1="42.8" x2="1656.4" y2="449.8" stroke="#111" stroke-width="2.8"/>
<line x1="1057" y1="44" x2="1658" y2="44" stroke="#6c6c6c" stroke-width="2.2"/>
<line x1="1059" y1="444.75" x2="1655" y2="444.75" stroke="#aaaaaa" stroke-width="5.5"/>
<line x1="1117.5" y1="444" x2="1117.5" y2="452.5" stroke="#444" stroke-width="2"/>
<text x="1117.0" y="479" font-size="27.5" text-anchor="middle" textLength="58.5" lengthAdjust="spacingAndGlyphs" fill="#222" font-family="&apos;Liberation Sans&apos;, sans-serif" font-weight="bold" stroke="#fff" stroke-width="0.35" stroke-linejoin="round">38.0</text>
<line x1="1237.5" y1="444" x2="1237.5" y2="452.5" stroke="#444" stroke-width="2"/>
<text x="1237.0" y="479" font-size="27.5" text-anchor="middle" textLength="58.5" lengthAdjust="spacingAndGlyphs" fill="#222" font-family="&apos;Liberation Sans&apos;, sans-serif" font-weight="bold" stroke="#fff" stroke-width="0.35" stroke-linejoin="round">38.5</text>
<line x1="1357.5" y1="444" x2="1357.5" y2="452.5" stroke="#444" stroke-width="2"/>
<text x="1357.0" y="479" font-size="27.5" text-anchor="middle" textLength="58.5" lengthAdjust="spacingAndGlyphs" fill="#222" font-family="&apos;Liberation Sans&apos;, sans-serif" font-weight="bold" stroke="#fff" stroke-width="0.35" stroke-linejoin="round">39.0</text>
<line x1="1477.5" y1="444" x2="1477.5" y2="452.5" stroke="#444" stroke-width="2"/>
<text x="1477.0" y="479" font-size="27.5" text-anchor="middle" textLength="58.5" lengthAdjust="spacingAndGlyphs" fill="#222" font-family="&apos;Liberation Sans&apos;, sans-serif" font-weight="bold" stroke="#fff" stroke-width="0.35" stroke-linejoin="round">39.5</text>
<line x1="1597.5" y1="444" x2="1597.5" y2="452.5" stroke="#444" stroke-width="2"/>
<text x="1597.0" y="479" font-size="27.5" text-anchor="middle" textLength="58.5" lengthAdjust="spacingAndGlyphs" fill="#222" font-family="&apos;Liberation Sans&apos;, sans-serif" font-weight="bold" stroke="#fff" stroke-width="0.35" stroke-linejoin="round">40.0</text>
<line x1="1177.5" y1="444" x2="1177.5" y2="449" stroke="#444" stroke-width="2"/>
<line x1="1297.5" y1="444" x2="1297.5" y2="449" stroke="#444" stroke-width="2"/>
<line x1="1417.5" y1="444" x2="1417.5" y2="449" stroke="#444" stroke-width="2"/>
<line x1="1537.5" y1="444" x2="1537.5" y2="449" stroke="#444" stroke-width="2"/>
<text x="1356.2" y="531.5" font-size="29" text-anchor="middle" textLength="178" lengthAdjust="spacingAndGlyphs" fill="#222" font-family="&apos;Liberation Sans&apos;, sans-serif" font-weight="bold" stroke="#fff" stroke-width="0.35" stroke-linejoin="round">2θ (degree)</text>
<text transform="translate(1016.5,237.2) rotate(-90)" font-size="30.5" text-anchor="middle" textLength="212" lengthAdjust="spacingAndGlyphs" fill="#222" font-family="&apos;Liberation Sans&apos;, sans-serif" font-weight="bold" stroke="#fff" stroke-width="0.35" stroke-linejoin="round">Intensity (a.u.)</text>
<text x="1608.5" y="212.5" font-size="30.5" textLength="40.5" lengthAdjust="spacingAndGlyphs" fill="#222" font-family="&apos;Liberation Sans&apos;, sans-serif" font-weight="bold" stroke="#fff" stroke-width="0.35" stroke-linejoin="round">(e)</text>
<text x="1611.0" y="286.0" font-size="30.5" textLength="40.5" lengthAdjust="spacingAndGlyphs" fill="#222" font-family="&apos;Liberation Sans&apos;, sans-serif" font-weight="bold" stroke="#fff" stroke-width="0.35" stroke-linejoin="round">(d)</text>
<text x="1609.5" y="355.0" font-size="30.5" textLength="40.5" lengthAdjust="spacingAndGlyphs" fill="#222" font-family="&apos;Liberation Sans&apos;, sans-serif" font-weight="bold" stroke="#fff" stroke-width="0.35" stroke-linejoin="round">(c)</text>
<text x="1610.0" y="427.7" font-size="30.5" textLength="40.5" lengthAdjust="spacingAndGlyphs" fill="#222" font-family="&apos;Liberation Sans&apos;, sans-serif" font-weight="bold" stroke="#fff" stroke-width="0.35" stroke-linejoin="round">(b)</text></g></svg>
</body></html>
